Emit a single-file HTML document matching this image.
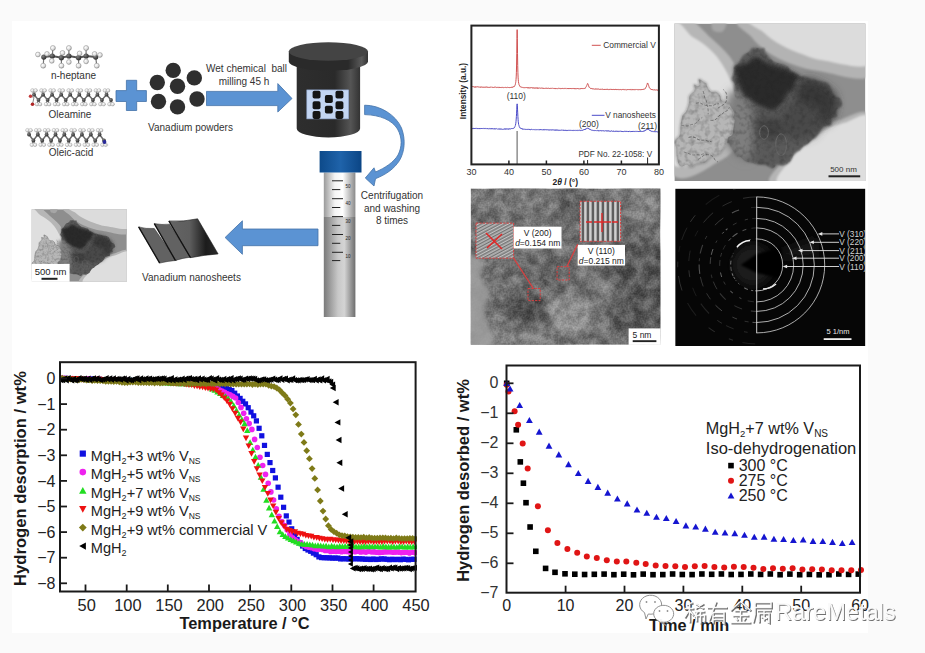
<!DOCTYPE html>
<html><head><meta charset="utf-8"><title>figure</title>
<style>html,body{margin:0;padding:0;background:#fafafa;overflow:hidden}svg{display:block}text{font-family:"Liberation Sans",sans-serif}</style>
</head><body>
<svg width="925" height="653" viewBox="0 0 925 653">
<rect x="0" y="0" width="925" height="653" fill="#fafafa"/>
<rect x="12" y="21" width="856" height="612" fill="#ffffff"/>
<defs>
<linearGradient id="gBody" x1="0" x2="1" y1="0" y2="0">
 <stop offset="0" stop-color="#2e2e2e"/><stop offset="0.6" stop-color="#2a2a2a"/><stop offset="0.85" stop-color="#555"/><stop offset="1" stop-color="#333"/></linearGradient>
<linearGradient id="gLidSide" x1="0" x2="1" y1="0" y2="0">
 <stop offset="0" stop-color="#2a2a2a"/><stop offset="0.75" stop-color="#2a2a2a"/><stop offset="0.92" stop-color="#5a5a5a"/><stop offset="1" stop-color="#333"/></linearGradient>
<linearGradient id="gCap" x1="0" x2="1" y1="0" y2="0">
 <stop offset="0" stop-color="#0d4a8a"/><stop offset="0.5" stop-color="#1f63aa"/><stop offset="1" stop-color="#0b4585"/></linearGradient>
<linearGradient id="gTubeTop" x1="0" x2="1" y1="0" y2="0">
 <stop offset="0" stop-color="#9a9a9a"/><stop offset="0.35" stop-color="#f4f4f4"/><stop offset="0.6" stop-color="#ffffff"/><stop offset="1" stop-color="#8a8a8a"/></linearGradient>
<linearGradient id="gTubeBot" x1="0" x2="1" y1="0" y2="0">
 <stop offset="0" stop-color="#7a7a7a"/><stop offset="0.45" stop-color="#c8c8c8"/><stop offset="0.65" stop-color="#d4d4d4"/><stop offset="1" stop-color="#6e6e6e"/></linearGradient>
<linearGradient id="gSheet3" x1="0" x2="1" y1="0" y2="0">
 <stop offset="0" stop-color="#646464"/><stop offset="0.42" stop-color="#5e5e5e"/><stop offset="0.75" stop-color="#1c1c1c"/><stop offset="1" stop-color="#2a2a2a"/></linearGradient>
<radialGradient id="gBallC" cx="0.35" cy="0.35" r="0.7"><stop offset="0" stop-color="#808080"/><stop offset="1" stop-color="#2a2a2a"/></radialGradient>
<radialGradient id="gBallH" cx="0.35" cy="0.35" r="0.75"><stop offset="0" stop-color="#ffffff"/><stop offset="0.6" stop-color="#dedede"/><stop offset="1" stop-color="#8c8c8c"/></radialGradient>
</defs>
<g filter="url(#blur05)">
<line x1="52.3" y1="56" x2="52.9" y2="48" stroke="#777" stroke-width="1.2"/>
<circle cx="52.9" cy="48" r="2.5" fill="url(#gBallH)" stroke="#8a8a8a" stroke-width="0.5"/>
<line x1="68.9" y1="56" x2="68.9" y2="48" stroke="#777" stroke-width="1.2"/>
<circle cx="68.9" cy="48" r="2.5" fill="url(#gBallH)" stroke="#8a8a8a" stroke-width="0.5"/>
<line x1="86.1" y1="56" x2="86.1" y2="48" stroke="#777" stroke-width="1.2"/>
<circle cx="86.1" cy="48" r="2.5" fill="url(#gBallH)" stroke="#8a8a8a" stroke-width="0.5"/>
<line x1="43.8" y1="57.1" x2="43.2" y2="65.7" stroke="#777" stroke-width="1.2"/>
<circle cx="43.2" cy="65.7" r="2.5" fill="url(#gBallH)" stroke="#8a8a8a" stroke-width="0.5"/>
<line x1="61.4" y1="57.7" x2="61.4" y2="65.7" stroke="#777" stroke-width="1.2"/>
<circle cx="61.4" cy="65.7" r="2.5" fill="url(#gBallH)" stroke="#8a8a8a" stroke-width="0.5"/>
<line x1="78.6" y1="57.7" x2="78.6" y2="65.7" stroke="#777" stroke-width="1.2"/>
<circle cx="78.6" cy="65.7" r="2.5" fill="url(#gBallH)" stroke="#8a8a8a" stroke-width="0.5"/>
<line x1="95.7" y1="57.1" x2="96.8" y2="65.7" stroke="#777" stroke-width="1.2"/>
<circle cx="96.8" cy="65.7" r="2.5" fill="url(#gBallH)" stroke="#8a8a8a" stroke-width="0.5"/>
<path d="M43.8,57.1 L52.3,56 L61.4,57.7 L68.9,56 L78.6,57.7 L86.1,56 L95.7,57.1" stroke="#555" stroke-width="2" fill="none"/>
<circle cx="43.8" cy="57.1" r="2.6" fill="url(#gBallC)"/>
<circle cx="52.3" cy="56" r="2.6" fill="url(#gBallC)"/>
<circle cx="61.4" cy="57.7" r="2.6" fill="url(#gBallC)"/>
<circle cx="68.9" cy="56" r="2.6" fill="url(#gBallC)"/>
<circle cx="78.6" cy="57.7" r="2.6" fill="url(#gBallC)"/>
<circle cx="86.1" cy="56" r="2.6" fill="url(#gBallC)"/>
<circle cx="95.7" cy="57.1" r="2.6" fill="url(#gBallC)"/>
<circle cx="37.9" cy="54.5" r="2.4" fill="url(#gBallH)" stroke="#8a8a8a" stroke-width="0.5"/>
<circle cx="47" cy="53.9" r="2.4" fill="url(#gBallH)" stroke="#8a8a8a" stroke-width="0.5"/>
<circle cx="62.5" cy="52.9" r="2.4" fill="url(#gBallH)" stroke="#8a8a8a" stroke-width="0.5"/>
<circle cx="79.6" cy="53.4" r="2.4" fill="url(#gBallH)" stroke="#8a8a8a" stroke-width="0.5"/>
<circle cx="100" cy="55" r="2.4" fill="url(#gBallH)" stroke="#8a8a8a" stroke-width="0.5"/>
<circle cx="94.6" cy="53.9" r="2.4" fill="url(#gBallH)" stroke="#8a8a8a" stroke-width="0.5"/>
<circle cx="51.8" cy="60.9" r="2.4" fill="url(#gBallH)" stroke="#8a8a8a" stroke-width="0.5"/>
<circle cx="68.9" cy="62" r="2.4" fill="url(#gBallH)" stroke="#8a8a8a" stroke-width="0.5"/>
<circle cx="86.1" cy="61.4" r="2.4" fill="url(#gBallH)" stroke="#8a8a8a" stroke-width="0.5"/>
<path d="M34.0,94.7 L38.5,99.9 L43.1,94.7 L47.6,99.9 L52.1,94.7 L56.6,99.9 L61.2,94.7 L65.7,99.9 L70.2,94.7 L74.8,99.9 L79.3,94.7 L83.8,99.9 L88.4,94.7 L92.9,99.9 L97.4,94.7 L101.9,99.9 L106.5,94.7 L111.0,99.9" stroke="#6a6a6a" stroke-width="1.5" fill="none"/>
<line x1="34.0" y1="94.7" x2="32.4" y2="90.4" stroke="#777" stroke-width="1"/>
<circle cx="32.4" cy="90.4" r="1.8" fill="url(#gBallH)" stroke="#999" stroke-width="0.4"/>
<line x1="34.0" y1="94.7" x2="35.6" y2="90.4" stroke="#777" stroke-width="1"/>
<circle cx="35.6" cy="90.4" r="1.8" fill="url(#gBallH)" stroke="#999" stroke-width="0.4"/>
<line x1="38.5" y1="99.9" x2="36.9" y2="104.2" stroke="#777" stroke-width="1"/>
<circle cx="36.9" cy="104.2" r="1.8" fill="url(#gBallH)" stroke="#999" stroke-width="0.4"/>
<line x1="38.5" y1="99.9" x2="40.1" y2="104.2" stroke="#777" stroke-width="1"/>
<circle cx="40.1" cy="104.2" r="1.8" fill="url(#gBallH)" stroke="#999" stroke-width="0.4"/>
<line x1="43.1" y1="94.7" x2="41.4" y2="90.4" stroke="#777" stroke-width="1"/>
<circle cx="41.4" cy="90.4" r="1.8" fill="url(#gBallH)" stroke="#999" stroke-width="0.4"/>
<line x1="43.1" y1="94.7" x2="44.7" y2="90.4" stroke="#777" stroke-width="1"/>
<circle cx="44.7" cy="90.4" r="1.8" fill="url(#gBallH)" stroke="#999" stroke-width="0.4"/>
<line x1="47.6" y1="99.9" x2="46.0" y2="104.2" stroke="#777" stroke-width="1"/>
<circle cx="46.0" cy="104.2" r="1.8" fill="url(#gBallH)" stroke="#999" stroke-width="0.4"/>
<line x1="47.6" y1="99.9" x2="49.2" y2="104.2" stroke="#777" stroke-width="1"/>
<circle cx="49.2" cy="104.2" r="1.8" fill="url(#gBallH)" stroke="#999" stroke-width="0.4"/>
<line x1="52.1" y1="94.7" x2="50.5" y2="90.4" stroke="#777" stroke-width="1"/>
<circle cx="50.5" cy="90.4" r="1.8" fill="url(#gBallH)" stroke="#999" stroke-width="0.4"/>
<line x1="52.1" y1="94.7" x2="53.7" y2="90.4" stroke="#777" stroke-width="1"/>
<circle cx="53.7" cy="90.4" r="1.8" fill="url(#gBallH)" stroke="#999" stroke-width="0.4"/>
<line x1="56.6" y1="99.9" x2="55.0" y2="104.2" stroke="#777" stroke-width="1"/>
<circle cx="55.0" cy="104.2" r="1.8" fill="url(#gBallH)" stroke="#999" stroke-width="0.4"/>
<line x1="56.6" y1="99.9" x2="58.3" y2="104.2" stroke="#777" stroke-width="1"/>
<circle cx="58.3" cy="104.2" r="1.8" fill="url(#gBallH)" stroke="#999" stroke-width="0.4"/>
<line x1="61.2" y1="94.7" x2="59.6" y2="90.4" stroke="#777" stroke-width="1"/>
<circle cx="59.6" cy="90.4" r="1.8" fill="url(#gBallH)" stroke="#999" stroke-width="0.4"/>
<line x1="61.2" y1="94.7" x2="62.8" y2="90.4" stroke="#777" stroke-width="1"/>
<circle cx="62.8" cy="90.4" r="1.8" fill="url(#gBallH)" stroke="#999" stroke-width="0.4"/>
<line x1="65.7" y1="99.9" x2="64.1" y2="104.2" stroke="#777" stroke-width="1"/>
<circle cx="64.1" cy="104.2" r="1.8" fill="url(#gBallH)" stroke="#999" stroke-width="0.4"/>
<line x1="65.7" y1="99.9" x2="67.3" y2="104.2" stroke="#777" stroke-width="1"/>
<circle cx="67.3" cy="104.2" r="1.8" fill="url(#gBallH)" stroke="#999" stroke-width="0.4"/>
<line x1="70.2" y1="94.7" x2="68.6" y2="90.4" stroke="#777" stroke-width="1"/>
<circle cx="68.6" cy="90.4" r="1.8" fill="url(#gBallH)" stroke="#999" stroke-width="0.4"/>
<line x1="70.2" y1="94.7" x2="71.9" y2="90.4" stroke="#777" stroke-width="1"/>
<circle cx="71.9" cy="90.4" r="1.8" fill="url(#gBallH)" stroke="#999" stroke-width="0.4"/>
<line x1="74.8" y1="99.9" x2="73.1" y2="104.2" stroke="#777" stroke-width="1"/>
<circle cx="73.1" cy="104.2" r="1.8" fill="url(#gBallH)" stroke="#999" stroke-width="0.4"/>
<line x1="74.8" y1="99.9" x2="76.4" y2="104.2" stroke="#777" stroke-width="1"/>
<circle cx="76.4" cy="104.2" r="1.8" fill="url(#gBallH)" stroke="#999" stroke-width="0.4"/>
<line x1="79.3" y1="94.7" x2="77.7" y2="90.4" stroke="#777" stroke-width="1"/>
<circle cx="77.7" cy="90.4" r="1.8" fill="url(#gBallH)" stroke="#999" stroke-width="0.4"/>
<line x1="79.3" y1="94.7" x2="80.9" y2="90.4" stroke="#777" stroke-width="1"/>
<circle cx="80.9" cy="90.4" r="1.8" fill="url(#gBallH)" stroke="#999" stroke-width="0.4"/>
<line x1="83.8" y1="99.9" x2="82.2" y2="104.2" stroke="#777" stroke-width="1"/>
<circle cx="82.2" cy="104.2" r="1.8" fill="url(#gBallH)" stroke="#999" stroke-width="0.4"/>
<line x1="83.8" y1="99.9" x2="85.4" y2="104.2" stroke="#777" stroke-width="1"/>
<circle cx="85.4" cy="104.2" r="1.8" fill="url(#gBallH)" stroke="#999" stroke-width="0.4"/>
<line x1="88.4" y1="94.7" x2="86.7" y2="90.4" stroke="#777" stroke-width="1"/>
<circle cx="86.7" cy="90.4" r="1.8" fill="url(#gBallH)" stroke="#999" stroke-width="0.4"/>
<line x1="88.4" y1="94.7" x2="90.0" y2="90.4" stroke="#777" stroke-width="1"/>
<circle cx="90.0" cy="90.4" r="1.8" fill="url(#gBallH)" stroke="#999" stroke-width="0.4"/>
<line x1="92.9" y1="99.9" x2="91.3" y2="104.2" stroke="#777" stroke-width="1"/>
<circle cx="91.3" cy="104.2" r="1.8" fill="url(#gBallH)" stroke="#999" stroke-width="0.4"/>
<line x1="92.9" y1="99.9" x2="94.5" y2="104.2" stroke="#777" stroke-width="1"/>
<circle cx="94.5" cy="104.2" r="1.8" fill="url(#gBallH)" stroke="#999" stroke-width="0.4"/>
<line x1="97.4" y1="94.7" x2="95.8" y2="90.4" stroke="#777" stroke-width="1"/>
<circle cx="95.8" cy="90.4" r="1.8" fill="url(#gBallH)" stroke="#999" stroke-width="0.4"/>
<line x1="97.4" y1="94.7" x2="99.0" y2="90.4" stroke="#777" stroke-width="1"/>
<circle cx="99.0" cy="90.4" r="1.8" fill="url(#gBallH)" stroke="#999" stroke-width="0.4"/>
<line x1="101.9" y1="99.9" x2="100.3" y2="104.2" stroke="#777" stroke-width="1"/>
<circle cx="100.3" cy="104.2" r="1.8" fill="url(#gBallH)" stroke="#999" stroke-width="0.4"/>
<line x1="101.9" y1="99.9" x2="103.6" y2="104.2" stroke="#777" stroke-width="1"/>
<circle cx="103.6" cy="104.2" r="1.8" fill="url(#gBallH)" stroke="#999" stroke-width="0.4"/>
<line x1="106.5" y1="94.7" x2="104.9" y2="90.4" stroke="#777" stroke-width="1"/>
<circle cx="104.9" cy="90.4" r="1.8" fill="url(#gBallH)" stroke="#999" stroke-width="0.4"/>
<line x1="106.5" y1="94.7" x2="108.1" y2="90.4" stroke="#777" stroke-width="1"/>
<circle cx="108.1" cy="90.4" r="1.8" fill="url(#gBallH)" stroke="#999" stroke-width="0.4"/>
<line x1="111.0" y1="99.9" x2="109.4" y2="104.2" stroke="#777" stroke-width="1"/>
<circle cx="109.4" cy="104.2" r="1.8" fill="url(#gBallH)" stroke="#999" stroke-width="0.4"/>
<line x1="111.0" y1="99.9" x2="112.6" y2="104.2" stroke="#777" stroke-width="1"/>
<circle cx="112.6" cy="104.2" r="1.8" fill="url(#gBallH)" stroke="#999" stroke-width="0.4"/>
<circle cx="34.0" cy="94.7" r="1.9" fill="url(#gBallC)"/>
<circle cx="38.5" cy="99.9" r="1.9" fill="url(#gBallC)"/>
<circle cx="43.1" cy="94.7" r="1.9" fill="url(#gBallC)"/>
<circle cx="47.6" cy="99.9" r="1.9" fill="url(#gBallC)"/>
<circle cx="52.1" cy="94.7" r="1.9" fill="url(#gBallC)"/>
<circle cx="56.6" cy="99.9" r="1.9" fill="url(#gBallC)"/>
<circle cx="61.2" cy="94.7" r="1.9" fill="url(#gBallC)"/>
<circle cx="65.7" cy="99.9" r="1.9" fill="url(#gBallC)"/>
<circle cx="70.2" cy="94.7" r="1.9" fill="url(#gBallC)"/>
<circle cx="74.8" cy="99.9" r="1.9" fill="url(#gBallC)"/>
<circle cx="79.3" cy="94.7" r="1.9" fill="url(#gBallC)"/>
<circle cx="83.8" cy="99.9" r="1.9" fill="url(#gBallC)"/>
<circle cx="88.4" cy="94.7" r="1.9" fill="url(#gBallC)"/>
<circle cx="92.9" cy="99.9" r="1.9" fill="url(#gBallC)"/>
<circle cx="97.4" cy="94.7" r="1.9" fill="url(#gBallC)"/>
<circle cx="101.9" cy="99.9" r="1.9" fill="url(#gBallC)"/>
<circle cx="106.5" cy="94.7" r="1.9" fill="url(#gBallC)"/>
<circle cx="111.0" cy="99.9" r="1.9" fill="url(#gBallC)"/>
<line x1="34" y1="97.3" x2="30.5" y2="96.3" stroke="#888" stroke-width="1"/>
<circle cx="30.5" cy="96.3" r="1.7" fill="#c23a3a"/>
<line x1="34" y1="97.3" x2="32.5" y2="104.3" stroke="#888" stroke-width="1"/>
<circle cx="32.5" cy="104.3" r="1.8" fill="#b02828"/>
<path d="M29.0,134.5 L33.4,140.5 L37.8,134.5 L42.2,140.5 L46.6,134.5 L51.1,140.5 L55.5,134.5 L59.9,140.5 L64.3,134.5 L68.7,140.5 L73.1,134.5 L77.5,140.5 L81.9,134.5 L86.4,140.5 L90.8,134.5 L95.2,140.5 L99.6,134.5 L104.0,140.5" stroke="#6a6a6a" stroke-width="1.5" fill="none"/>
<line x1="29.0" y1="134.5" x2="27.4" y2="130.2" stroke="#777" stroke-width="1"/>
<circle cx="27.4" cy="130.2" r="1.8" fill="url(#gBallH)" stroke="#999" stroke-width="0.4"/>
<line x1="29.0" y1="134.5" x2="30.6" y2="130.2" stroke="#777" stroke-width="1"/>
<circle cx="30.6" cy="130.2" r="1.8" fill="url(#gBallH)" stroke="#999" stroke-width="0.4"/>
<line x1="33.4" y1="140.5" x2="31.8" y2="144.8" stroke="#777" stroke-width="1"/>
<circle cx="31.8" cy="144.8" r="1.8" fill="url(#gBallH)" stroke="#999" stroke-width="0.4"/>
<line x1="33.4" y1="140.5" x2="35.0" y2="144.8" stroke="#777" stroke-width="1"/>
<circle cx="35.0" cy="144.8" r="1.8" fill="url(#gBallH)" stroke="#999" stroke-width="0.4"/>
<line x1="37.8" y1="134.5" x2="36.2" y2="130.2" stroke="#777" stroke-width="1"/>
<circle cx="36.2" cy="130.2" r="1.8" fill="url(#gBallH)" stroke="#999" stroke-width="0.4"/>
<line x1="37.8" y1="134.5" x2="39.4" y2="130.2" stroke="#777" stroke-width="1"/>
<circle cx="39.4" cy="130.2" r="1.8" fill="url(#gBallH)" stroke="#999" stroke-width="0.4"/>
<line x1="42.2" y1="140.5" x2="40.6" y2="144.8" stroke="#777" stroke-width="1"/>
<circle cx="40.6" cy="144.8" r="1.8" fill="url(#gBallH)" stroke="#999" stroke-width="0.4"/>
<line x1="42.2" y1="140.5" x2="43.9" y2="144.8" stroke="#777" stroke-width="1"/>
<circle cx="43.9" cy="144.8" r="1.8" fill="url(#gBallH)" stroke="#999" stroke-width="0.4"/>
<line x1="46.6" y1="134.5" x2="45.0" y2="130.2" stroke="#777" stroke-width="1"/>
<circle cx="45.0" cy="130.2" r="1.8" fill="url(#gBallH)" stroke="#999" stroke-width="0.4"/>
<line x1="46.6" y1="134.5" x2="48.3" y2="130.2" stroke="#777" stroke-width="1"/>
<circle cx="48.3" cy="130.2" r="1.8" fill="url(#gBallH)" stroke="#999" stroke-width="0.4"/>
<line x1="51.1" y1="140.5" x2="49.4" y2="144.8" stroke="#777" stroke-width="1"/>
<circle cx="49.4" cy="144.8" r="1.8" fill="url(#gBallH)" stroke="#999" stroke-width="0.4"/>
<line x1="51.1" y1="140.5" x2="52.7" y2="144.8" stroke="#777" stroke-width="1"/>
<circle cx="52.7" cy="144.8" r="1.8" fill="url(#gBallH)" stroke="#999" stroke-width="0.4"/>
<line x1="55.5" y1="134.5" x2="53.9" y2="130.2" stroke="#777" stroke-width="1"/>
<circle cx="53.9" cy="130.2" r="1.8" fill="url(#gBallH)" stroke="#999" stroke-width="0.4"/>
<line x1="55.5" y1="134.5" x2="57.1" y2="130.2" stroke="#777" stroke-width="1"/>
<circle cx="57.1" cy="130.2" r="1.8" fill="url(#gBallH)" stroke="#999" stroke-width="0.4"/>
<line x1="59.9" y1="140.5" x2="58.3" y2="144.8" stroke="#777" stroke-width="1"/>
<circle cx="58.3" cy="144.8" r="1.8" fill="url(#gBallH)" stroke="#999" stroke-width="0.4"/>
<line x1="59.9" y1="140.5" x2="61.5" y2="144.8" stroke="#777" stroke-width="1"/>
<circle cx="61.5" cy="144.8" r="1.8" fill="url(#gBallH)" stroke="#999" stroke-width="0.4"/>
<line x1="64.3" y1="134.5" x2="62.7" y2="130.2" stroke="#777" stroke-width="1"/>
<circle cx="62.7" cy="130.2" r="1.8" fill="url(#gBallH)" stroke="#999" stroke-width="0.4"/>
<line x1="64.3" y1="134.5" x2="65.9" y2="130.2" stroke="#777" stroke-width="1"/>
<circle cx="65.9" cy="130.2" r="1.8" fill="url(#gBallH)" stroke="#999" stroke-width="0.4"/>
<line x1="68.7" y1="140.5" x2="67.1" y2="144.8" stroke="#777" stroke-width="1"/>
<circle cx="67.1" cy="144.8" r="1.8" fill="url(#gBallH)" stroke="#999" stroke-width="0.4"/>
<line x1="68.7" y1="140.5" x2="70.3" y2="144.8" stroke="#777" stroke-width="1"/>
<circle cx="70.3" cy="144.8" r="1.8" fill="url(#gBallH)" stroke="#999" stroke-width="0.4"/>
<line x1="73.1" y1="134.5" x2="71.5" y2="130.2" stroke="#777" stroke-width="1"/>
<circle cx="71.5" cy="130.2" r="1.8" fill="url(#gBallH)" stroke="#999" stroke-width="0.4"/>
<line x1="73.1" y1="134.5" x2="74.7" y2="130.2" stroke="#777" stroke-width="1"/>
<circle cx="74.7" cy="130.2" r="1.8" fill="url(#gBallH)" stroke="#999" stroke-width="0.4"/>
<line x1="77.5" y1="140.5" x2="75.9" y2="144.8" stroke="#777" stroke-width="1"/>
<circle cx="75.9" cy="144.8" r="1.8" fill="url(#gBallH)" stroke="#999" stroke-width="0.4"/>
<line x1="77.5" y1="140.5" x2="79.1" y2="144.8" stroke="#777" stroke-width="1"/>
<circle cx="79.1" cy="144.8" r="1.8" fill="url(#gBallH)" stroke="#999" stroke-width="0.4"/>
<line x1="81.9" y1="134.5" x2="80.3" y2="130.2" stroke="#777" stroke-width="1"/>
<circle cx="80.3" cy="130.2" r="1.8" fill="url(#gBallH)" stroke="#999" stroke-width="0.4"/>
<line x1="81.9" y1="134.5" x2="83.6" y2="130.2" stroke="#777" stroke-width="1"/>
<circle cx="83.6" cy="130.2" r="1.8" fill="url(#gBallH)" stroke="#999" stroke-width="0.4"/>
<line x1="86.4" y1="140.5" x2="84.7" y2="144.8" stroke="#777" stroke-width="1"/>
<circle cx="84.7" cy="144.8" r="1.8" fill="url(#gBallH)" stroke="#999" stroke-width="0.4"/>
<line x1="86.4" y1="140.5" x2="88.0" y2="144.8" stroke="#777" stroke-width="1"/>
<circle cx="88.0" cy="144.8" r="1.8" fill="url(#gBallH)" stroke="#999" stroke-width="0.4"/>
<line x1="90.8" y1="134.5" x2="89.1" y2="130.2" stroke="#777" stroke-width="1"/>
<circle cx="89.1" cy="130.2" r="1.8" fill="url(#gBallH)" stroke="#999" stroke-width="0.4"/>
<line x1="90.8" y1="134.5" x2="92.4" y2="130.2" stroke="#777" stroke-width="1"/>
<circle cx="92.4" cy="130.2" r="1.8" fill="url(#gBallH)" stroke="#999" stroke-width="0.4"/>
<line x1="95.2" y1="140.5" x2="93.6" y2="144.8" stroke="#777" stroke-width="1"/>
<circle cx="93.6" cy="144.8" r="1.8" fill="url(#gBallH)" stroke="#999" stroke-width="0.4"/>
<line x1="95.2" y1="140.5" x2="96.8" y2="144.8" stroke="#777" stroke-width="1"/>
<circle cx="96.8" cy="144.8" r="1.8" fill="url(#gBallH)" stroke="#999" stroke-width="0.4"/>
<line x1="99.6" y1="134.5" x2="98.0" y2="130.2" stroke="#777" stroke-width="1"/>
<circle cx="98.0" cy="130.2" r="1.8" fill="url(#gBallH)" stroke="#999" stroke-width="0.4"/>
<line x1="99.6" y1="134.5" x2="101.2" y2="130.2" stroke="#777" stroke-width="1"/>
<circle cx="101.2" cy="130.2" r="1.8" fill="url(#gBallH)" stroke="#999" stroke-width="0.4"/>
<line x1="104.0" y1="140.5" x2="102.4" y2="144.8" stroke="#777" stroke-width="1"/>
<circle cx="102.4" cy="144.8" r="1.8" fill="url(#gBallH)" stroke="#999" stroke-width="0.4"/>
<line x1="104.0" y1="140.5" x2="105.6" y2="144.8" stroke="#777" stroke-width="1"/>
<circle cx="105.6" cy="144.8" r="1.8" fill="url(#gBallH)" stroke="#999" stroke-width="0.4"/>
<circle cx="29.0" cy="134.5" r="1.9" fill="url(#gBallC)"/>
<circle cx="33.4" cy="140.5" r="1.9" fill="url(#gBallC)"/>
<circle cx="37.8" cy="134.5" r="1.9" fill="url(#gBallC)"/>
<circle cx="42.2" cy="140.5" r="1.9" fill="url(#gBallC)"/>
<circle cx="46.6" cy="134.5" r="1.9" fill="url(#gBallC)"/>
<circle cx="51.1" cy="140.5" r="1.9" fill="url(#gBallC)"/>
<circle cx="55.5" cy="134.5" r="1.9" fill="url(#gBallC)"/>
<circle cx="59.9" cy="140.5" r="1.9" fill="url(#gBallC)"/>
<circle cx="64.3" cy="134.5" r="1.9" fill="url(#gBallC)"/>
<circle cx="68.7" cy="140.5" r="1.9" fill="url(#gBallC)"/>
<circle cx="73.1" cy="134.5" r="1.9" fill="url(#gBallC)"/>
<circle cx="77.5" cy="140.5" r="1.9" fill="url(#gBallC)"/>
<circle cx="81.9" cy="134.5" r="1.9" fill="url(#gBallC)"/>
<circle cx="86.4" cy="140.5" r="1.9" fill="url(#gBallC)"/>
<circle cx="90.8" cy="134.5" r="1.9" fill="url(#gBallC)"/>
<circle cx="95.2" cy="140.5" r="1.9" fill="url(#gBallC)"/>
<circle cx="99.6" cy="134.5" r="1.9" fill="url(#gBallC)"/>
<circle cx="104.0" cy="140.5" r="1.9" fill="url(#gBallC)"/>
<circle cx="104.5" cy="142.0" r="1.9" fill="#2a2a9a"/>
<circle cx="107.0" cy="145.0" r="1.3" fill="#ccc"/>
</g>
<defs><filter id="blur05" x="-5%" y="-30%" width="110%" height="160%"><feGaussianBlur stdDeviation="0.5"/></filter><filter id="blur08"><feGaussianBlur stdDeviation="0.8"/></filter></defs>
<text x="73.5" y="78.7" font-size="10" fill="#333" text-anchor="middle" font-weight="normal" >n-heptane</text>
<text x="70" y="117.8" font-size="10" fill="#333" text-anchor="middle" font-weight="normal" >Oleamine</text>
<text x="71" y="155.8" font-size="10" fill="#333" text-anchor="middle" font-weight="normal" >Oleic-acid</text>
<text x="190.5" y="130.5" font-size="10" fill="#333" text-anchor="middle" font-weight="normal" >Vanadium powders</text>
<text x="246.5" y="72" font-size="10" fill="#333" text-anchor="middle" font-weight="normal" >Wet chemical&#160; ball</text>
<text x="244" y="84.5" font-size="10" fill="#333" text-anchor="middle" font-weight="normal" >milling 45 h</text>
<text x="392" y="199" font-size="10" fill="#333" text-anchor="middle" font-weight="normal" >Centrifugation</text>
<text x="392" y="211.5" font-size="10" fill="#333" text-anchor="middle" font-weight="normal" >and washing</text>
<text x="392" y="223.5" font-size="10" fill="#333" text-anchor="middle" font-weight="normal" >8 times</text>
<text x="191.5" y="280.5" font-size="10" fill="#333" text-anchor="middle" font-weight="normal" >Vanadium nanosheets</text>
<path d="M126.4,80.3 H136.7 V90.6 H146.4 V101.5 H136.7 V110.5 H126.4 V101.5 H116 V90.6 H126.4 Z" fill="#5b93d3" stroke="#4472a8" stroke-width="0.8"/>
<circle cx="173.2" cy="70.4" r="7.7" fill="#2f2f2f"/>
<circle cx="157.3" cy="82.5" r="7.7" fill="#2f2f2f"/>
<circle cx="194.3" cy="77.9" r="7.7" fill="#2f2f2f"/>
<circle cx="177.5" cy="86.2" r="7.7" fill="#2f2f2f"/>
<circle cx="158.5" cy="101.5" r="7.7" fill="#2f2f2f"/>
<circle cx="177.5" cy="106.9" r="7.7" fill="#2f2f2f"/>
<circle cx="197" cy="99" r="7.7" fill="#2f2f2f"/>
<path d="M206.5,91.4 H277.8 V83.6 L292,98.5 L277.8,112 V105.6 H206.5 Z" fill="#5b93d3" stroke="#4472a8" stroke-width="0.8"/>
<path d="M318,229 H242.4 V220.8 L225.1,237.5 L242.4,254.3 V245.7 H318 Z" fill="#5b93d3" stroke="#4472a8" stroke-width="0.8"/>
<path d="M364.6,105.2 C380,105 396,115 401.5,128 C406,140 404.5,152 399.5,160.5 C394,169 386,174.5 375.5,178.7 L374,186 L365.3,178 L374,167.8 L375.5,172 C385,168 394,162 398,155 C402,147 402.5,138 397.5,129 C392,120 380,115 364.6,114.6 Z" fill="#5b93d3" stroke="#4472a8" stroke-width="0.8"/>
<path d="M296.7,66 V128.6 A31.7,8.8 0 0 0 360.1,128.6 V66 Z" fill="url(#gBody)"/>
<path d="M288.8,51.5 V61.5 A39.6,9.2 0 0 0 368,61.5 V51.5 Z" fill="url(#gLidSide)"/>
<ellipse cx="328.4" cy="51.5" rx="39.6" ry="9.2" fill="#444"/>
<rect x="306.8" y="89.9" width="41.9" height="29" fill="#c3d5f2" stroke="#8aa0c8" stroke-width="0.6"/>
<rect x="312.6" y="90.7" width="7.9" height="7.9" rx="1.8" fill="#151515"/>
<rect x="312.6" y="101.3" width="7.9" height="7.9" rx="1.8" fill="#151515"/>
<rect x="312.6" y="111" width="7.9" height="7.9" rx="1.8" fill="#151515"/>
<rect x="324.9" y="95.1" width="7.9" height="7.9" rx="1.8" fill="#151515"/>
<rect x="324.9" y="105.7" width="7.9" height="7.9" rx="1.8" fill="#151515"/>
<rect x="335.5" y="90.7" width="7.9" height="7.9" rx="1.8" fill="#151515"/>
<rect x="335.5" y="101.3" width="7.9" height="7.9" rx="1.8" fill="#151515"/>
<rect x="335.5" y="111" width="7.9" height="7.9" rx="1.8" fill="#151515"/>
<rect x="323.8" y="172.5" width="31.6" height="44.5" fill="url(#gTubeTop)"/>
<rect x="323.8" y="217" width="31.6" height="100" fill="url(#gTubeBot)"/>
<rect x="319.6" y="151" width="41.9" height="21.5" fill="url(#gCap)"/>
<line x1="332" y1="180.8" x2="343" y2="180.8" stroke="#222" stroke-width="1"/>
<line x1="332" y1="198.7" x2="343" y2="198.7" stroke="#222" stroke-width="1"/>
<line x1="332" y1="216.6" x2="343" y2="216.6" stroke="#222" stroke-width="1"/>
<line x1="332" y1="234.5" x2="343" y2="234.5" stroke="#222" stroke-width="1"/>
<line x1="332" y1="252.3" x2="343" y2="252.3" stroke="#222" stroke-width="1"/>
<line x1="332" y1="189.6" x2="340.3" y2="189.6" stroke="#222" stroke-width="1"/>
<line x1="332" y1="207.5" x2="340.3" y2="207.5" stroke="#222" stroke-width="1"/>
<line x1="332" y1="225.4" x2="340.3" y2="225.4" stroke="#222" stroke-width="1"/>
<line x1="332" y1="243.3" x2="340.3" y2="243.3" stroke="#222" stroke-width="1"/>
<line x1="332" y1="260.6" x2="340.3" y2="260.6" stroke="#222" stroke-width="1"/>
<text x="345.5" y="187.5" font-size="4.5" fill="#222" text-anchor="start" font-weight="normal" >50</text>
<text x="345.5" y="205.2" font-size="4.5" fill="#222" text-anchor="start" font-weight="normal" >40</text>
<text x="345.5" y="223" font-size="4.5" fill="#222" text-anchor="start" font-weight="normal" >30</text>
<text x="345.5" y="240.4" font-size="4.5" fill="#222" text-anchor="start" font-weight="normal" >20</text>
<text x="345.5" y="258.3" font-size="4.5" fill="#222" text-anchor="start" font-weight="normal" >10</text>
<path d="M138.6,226.9 Q146,229 154.3,228.5 L176.5,260.4 Q168,261 159.7,263.1 Z" fill="#626262" stroke="#2a2a2a" stroke-width="0.5"/>
<line x1="138.6" y1="226.9" x2="159.7" y2="263.1" stroke="#111" stroke-width="1.3"/>
<path d="M154.3,223.6 Q162,225 169.5,224.2 L190.5,257.2 Q183,258 175.4,260.4 Z" fill="#626262" stroke="#2a2a2a" stroke-width="0.5"/>
<line x1="154.3" y1="223.6" x2="175.4" y2="260.4" stroke="#111" stroke-width="1.3"/>
<path d="M168.9,221 Q184,222 197.6,218.8 L218.1,253.9 Q204,255 190.5,257.7 Z" fill="url(#gSheet3)" stroke="#1a1a1a" stroke-width="0.6"/>
<line x1="168.9" y1="221" x2="190.5" y2="257.7" stroke="#111" stroke-width="1.3"/>
<path d="M471.40,86.79 L471.59,86.69 L471.77,86.99 L471.96,86.65 L472.15,86.93 L472.34,86.83 L472.52,86.65 L472.71,86.92 L472.90,86.64 L473.09,86.88 L473.27,86.67 L473.46,86.68 L473.65,86.89 L473.84,87.13 L474.02,86.71 L474.21,86.78 L474.40,87.02 L474.59,87.22 L474.77,87.00 L474.96,86.90 L475.15,87.25 L475.34,86.69 L475.52,87.18 L475.71,86.84 L475.90,86.76 L476.09,86.75 L476.27,86.87 L476.46,87.17 L476.65,86.80 L476.84,87.04 L477.02,87.08 L477.21,86.92 L477.40,87.03 L477.59,86.74 L477.77,86.74 L477.96,86.83 L478.15,87.12 L478.34,86.97 L478.52,86.91 L478.71,87.07 L478.90,87.00 L479.09,86.91 L479.27,87.21 L479.46,87.16 L479.65,86.89 L479.84,87.09 L480.02,87.06 L480.21,87.28 L480.40,87.19 L480.59,86.93 L480.77,87.35 L480.96,86.83 L481.15,87.02 L481.34,87.22 L481.52,86.86 L481.71,87.07 L481.90,86.80 L482.09,87.18 L482.27,87.25 L482.46,87.13 L482.65,87.32 L482.84,86.98 L483.02,87.22 L483.21,87.16 L483.40,87.15 L483.59,87.08 L483.77,87.32 L483.96,87.38 L484.15,87.10 L484.34,87.22 L484.52,86.86 L484.71,87.25 L484.90,87.22 L485.09,87.43 L485.27,87.33 L485.46,87.01 L485.65,87.08 L485.84,87.25 L486.02,86.87 L486.21,87.13 L486.40,86.96 L486.59,86.93 L486.77,86.90 L486.96,87.33 L487.15,86.95 L487.34,87.02 L487.52,87.11 L487.71,87.40 L487.90,86.93 L488.09,87.16 L488.27,87.22 L488.46,87.42 L488.65,87.39 L488.84,87.42 L489.02,87.07 L489.21,87.16 L489.40,87.13 L489.59,87.44 L489.77,87.49 L489.96,87.01 L490.15,87.03 L490.34,87.07 L490.52,87.07 L490.71,87.22 L490.90,87.29 L491.09,87.10 L491.27,86.94 L491.46,87.20 L491.65,87.17 L491.84,87.29 L492.02,87.53 L492.21,87.37 L492.40,87.27 L492.59,87.33 L492.77,87.37 L492.96,87.00 L493.15,87.51 L493.34,87.44 L493.52,87.50 L493.71,87.46 L493.90,87.22 L494.09,87.23 L494.27,87.05 L494.46,87.37 L494.65,87.03 L494.84,87.04 L495.02,87.13 L495.21,87.10 L495.40,87.21 L495.59,87.04 L495.77,87.02 L495.96,87.11 L496.15,87.08 L496.34,87.24 L496.52,87.04 L496.71,87.55 L496.90,87.40 L497.09,87.12 L497.27,87.19 L497.46,87.25 L497.65,87.26 L497.84,87.12 L498.02,87.56 L498.21,87.65 L498.40,87.33 L498.59,87.35 L498.77,87.11 L498.96,87.12 L499.15,87.27 L499.34,87.23 L499.52,87.57 L499.71,87.17 L499.90,87.09 L500.09,87.65 L500.27,87.40 L500.46,87.17 L500.65,87.41 L500.84,87.10 L501.02,87.41 L501.21,87.68 L501.40,87.61 L501.59,87.52 L501.77,87.26 L501.96,87.32 L502.15,87.20 L502.34,87.57 L502.52,87.43 L502.71,87.58 L502.90,87.31 L503.09,87.25 L503.27,87.60 L503.46,87.71 L503.65,87.63 L503.84,87.60 L504.02,87.61 L504.21,87.57 L504.40,87.26 L504.59,87.44 L504.77,87.34 L504.96,87.15 L505.15,87.15 L505.34,87.30 L505.52,87.29 L505.71,87.55 L505.90,87.71 L506.09,87.40 L506.27,87.69 L506.46,87.72 L506.65,87.70 L506.84,87.35 L507.02,87.26 L507.21,87.27 L507.40,87.25 L507.59,87.25 L507.77,87.50 L507.96,87.66 L508.15,87.62 L508.34,87.40 L508.52,87.51 L508.71,87.59 L508.90,87.16 L509.09,87.50 L509.27,87.64 L509.46,87.56 L509.65,87.53 L509.84,87.36 L510.02,87.18 L510.21,87.53 L510.40,87.25 L510.59,87.52 L510.77,87.61 L510.96,87.25 L511.15,87.24 L511.34,87.54 L511.52,87.39 L511.71,87.04 L511.90,86.99 L512.09,86.97 L512.27,87.39 L512.46,87.30 L512.65,86.86 L512.84,87.22 L513.02,87.26 L513.21,87.00 L513.40,86.75 L513.59,86.78 L513.77,86.43 L513.96,86.24 L514.15,86.68 L514.34,86.32 L514.52,86.04 L514.71,86.03 L514.90,85.42 L515.09,85.28 L515.27,84.73 L515.46,83.67 L515.65,82.76 L515.84,81.48 L516.02,79.55 L516.21,76.90 L516.40,72.22 L516.59,65.03 L516.77,53.27 L516.96,38.55 L517.15,29.64 L517.34,38.29 L517.52,53.55 L517.71,65.35 L517.90,72.34 L518.09,77.13 L518.27,79.75 L518.46,81.67 L518.65,82.98 L518.84,83.62 L519.02,84.57 L519.21,84.94 L519.40,85.24 L519.59,86.04 L519.77,85.92 L519.96,86.31 L520.15,86.64 L520.34,86.69 L520.52,86.67 L520.71,86.89 L520.90,87.01 L521.09,87.22 L521.27,86.88 L521.46,87.22 L521.65,87.08 L521.84,87.15 L522.02,87.49 L522.21,87.37 L522.40,87.44 L522.59,87.59 L522.77,87.71 L522.96,87.45 L523.15,87.58 L523.34,87.54 L523.52,87.56 L523.71,87.69 L523.90,87.56 L524.09,87.63 L524.27,87.61 L524.46,87.91 L524.65,87.77 L524.84,87.89 L525.02,87.95 L525.21,87.55 L525.40,87.74 L525.59,87.98 L525.77,87.93 L525.96,87.52 L526.15,87.52 L526.34,87.72 L526.52,87.51 L526.71,87.62 L526.90,87.52 L527.09,87.89 L527.27,87.97 L527.46,88.04 L527.65,87.60 L527.84,87.95 L528.02,87.92 L528.21,87.62 L528.40,88.07 L528.59,88.13 L528.77,87.68 L528.96,88.13 L529.15,87.80 L529.34,87.86 L529.52,88.17 L529.71,88.08 L529.90,87.68 L530.09,87.85 L530.27,87.91 L530.46,87.81 L530.65,87.72 L530.84,87.80 L531.02,88.05 L531.21,87.63 L531.40,87.96 L531.59,87.90 L531.77,87.65 L531.96,87.84 L532.15,88.02 L532.34,87.96 L532.52,87.69 L532.71,88.25 L532.90,88.14 L533.09,88.25 L533.27,87.74 L533.46,87.84 L533.65,87.71 L533.84,88.15 L534.02,87.85 L534.21,87.77 L534.40,87.95 L534.59,88.25 L534.77,88.20 L534.96,87.87 L535.15,87.81 L535.34,88.27 L535.52,88.07 L535.71,88.15 L535.90,87.79 L536.09,87.77 L536.27,88.15 L536.46,88.00 L536.65,87.79 L536.84,88.32 L537.02,88.14 L537.21,88.24 L537.40,87.81 L537.59,88.28 L537.77,87.81 L537.96,88.29 L538.15,88.05 L538.34,87.99 L538.52,88.12 L538.71,88.35 L538.90,87.96 L539.09,87.88 L539.27,88.12 L539.46,87.95 L539.65,87.88 L539.84,87.91 L540.02,87.85 L540.21,87.94 L540.40,88.01 L540.59,88.01 L540.77,88.29 L540.96,88.01 L541.15,88.14 L541.34,87.95 L541.52,88.06 L541.71,87.86 L541.90,88.01 L542.09,87.87 L542.27,88.30 L542.46,88.20 L542.65,87.98 L542.84,88.16 L543.02,88.44 L543.21,87.94 L543.40,88.38 L543.59,88.15 L543.77,88.19 L543.96,88.40 L544.15,88.13 L544.34,88.21 L544.52,88.32 L544.71,88.50 L544.90,88.12 L545.09,88.42 L545.27,88.34 L545.46,88.30 L545.65,88.17 L545.84,88.14 L546.02,87.97 L546.21,88.02 L546.40,87.98 L546.59,88.39 L546.77,88.10 L546.96,88.05 L547.15,88.01 L547.34,88.46 L547.52,88.48 L547.71,88.37 L547.90,88.14 L548.09,88.12 L548.27,88.15 L548.46,88.26 L548.65,88.08 L548.84,88.25 L549.02,88.15 L549.21,88.57 L549.40,88.58 L549.59,88.33 L549.77,88.15 L549.96,88.59 L550.15,88.20 L550.34,88.23 L550.52,88.02 L550.71,88.25 L550.90,88.31 L551.09,88.33 L551.27,88.15 L551.46,88.34 L551.65,88.04 L551.84,88.20 L552.02,88.10 L552.21,88.29 L552.40,88.08 L552.59,88.07 L552.77,88.24 L552.96,88.20 L553.15,88.42 L553.34,88.39 L553.52,88.52 L553.71,88.47 L553.90,88.51 L554.09,88.61 L554.27,88.32 L554.46,88.29 L554.65,88.68 L554.84,88.19 L555.02,88.53 L555.21,88.49 L555.40,88.13 L555.59,88.61 L555.77,88.65 L555.96,88.49 L556.15,88.56 L556.34,88.61 L556.52,88.21 L556.71,88.45 L556.90,88.44 L557.09,88.64 L557.27,88.62 L557.46,88.64 L557.65,88.50 L557.84,88.69 L558.02,88.56 L558.21,88.57 L558.40,88.30 L558.59,88.18 L558.77,88.25 L558.96,88.39 L559.15,88.24 L559.34,88.68 L559.52,88.52 L559.71,88.56 L559.90,88.56 L560.09,88.60 L560.27,88.49 L560.46,88.20 L560.65,88.68 L560.84,88.65 L561.02,88.51 L561.21,88.53 L561.40,88.61 L561.59,88.26 L561.77,88.66 L561.96,88.38 L562.15,88.27 L562.34,88.39 L562.52,88.67 L562.71,88.36 L562.90,88.68 L563.09,88.83 L563.27,88.54 L563.46,88.48 L563.65,88.54 L563.84,88.67 L564.02,88.72 L564.21,88.63 L564.40,88.65 L564.59,88.32 L564.77,88.36 L564.96,88.43 L565.15,88.73 L565.34,88.47 L565.52,88.63 L565.71,88.30 L565.90,88.33 L566.09,88.46 L566.27,88.70 L566.46,88.72 L566.65,88.71 L566.84,88.48 L567.02,88.62 L567.21,88.59 L567.40,88.60 L567.59,88.39 L567.77,88.86 L567.96,88.45 L568.15,88.92 L568.34,88.89 L568.52,88.35 L568.71,88.61 L568.90,88.83 L569.09,88.93 L569.27,88.62 L569.46,88.51 L569.65,88.48 L569.84,88.92 L570.02,88.49 L570.21,88.71 L570.40,88.45 L570.59,88.68 L570.77,88.94 L570.96,88.45 L571.15,88.87 L571.34,88.69 L571.52,88.92 L571.71,88.81 L571.90,88.53 L572.09,88.93 L572.27,88.69 L572.46,88.41 L572.65,88.40 L572.84,88.70 L573.02,88.67 L573.21,88.59 L573.40,88.49 L573.59,88.62 L573.77,88.60 L573.96,88.92 L574.15,88.42 L574.34,88.87 L574.52,88.93 L574.71,88.50 L574.90,88.98 L575.09,88.86 L575.27,88.97 L575.46,88.61 L575.65,88.66 L575.84,88.67 L576.02,89.04 L576.21,88.80 L576.40,88.66 L576.59,88.70 L576.77,88.61 L576.96,88.48 L577.15,88.51 L577.34,88.95 L577.52,88.62 L577.71,89.01 L577.90,88.60 L578.09,88.61 L578.27,88.76 L578.46,88.57 L578.65,88.68 L578.84,89.03 L579.02,88.98 L579.21,88.94 L579.40,88.83 L579.59,89.00 L579.77,89.01 L579.96,88.78 L580.15,88.88 L580.34,88.47 L580.52,88.88 L580.71,88.71 L580.90,88.88 L581.09,88.81 L581.27,88.59 L581.46,88.44 L581.65,88.96 L581.84,88.47 L582.02,88.67 L582.21,88.58 L582.40,88.54 L582.59,88.80 L582.77,88.92 L582.96,88.47 L583.15,88.69 L583.34,88.45 L583.52,88.58 L583.71,88.45 L583.90,88.28 L584.09,88.24 L584.27,88.22 L584.46,88.58 L584.65,88.27 L584.84,88.02 L585.02,88.35 L585.21,88.29 L585.40,87.83 L585.59,87.49 L585.77,87.33 L585.96,87.03 L586.15,86.90 L586.34,86.40 L586.52,86.08 L586.71,85.59 L586.90,85.22 L587.09,84.82 L587.27,84.20 L587.46,83.60 L587.65,83.45 L587.84,83.67 L588.02,83.99 L588.21,84.52 L588.40,84.95 L588.59,85.64 L588.77,86.55 L588.96,86.47 L589.15,87.05 L589.34,87.42 L589.52,87.80 L589.71,87.61 L589.90,87.81 L590.09,87.93 L590.27,88.14 L590.46,88.26 L590.65,88.65 L590.84,88.66 L591.02,88.74 L591.21,88.28 L591.40,88.34 L591.59,88.78 L591.77,88.93 L591.96,88.71 L592.15,88.81 L592.34,88.49 L592.52,88.75 L592.71,89.09 L592.90,89.05 L593.09,89.09 L593.27,89.18 L593.46,88.76 L593.65,88.69 L593.84,88.73 L594.02,88.96 L594.21,89.07 L594.40,89.24 L594.59,89.12 L594.77,89.09 L594.96,89.17 L595.15,88.99 L595.34,89.06 L595.52,88.76 L595.71,89.21 L595.90,88.89 L596.09,89.31 L596.27,89.15 L596.46,88.96 L596.65,88.86 L596.84,88.94 L597.02,89.18 L597.21,89.22 L597.40,88.87 L597.59,88.85 L597.77,89.13 L597.96,89.17 L598.15,89.06 L598.34,88.97 L598.52,89.20 L598.71,88.85 L598.90,89.03 L599.09,89.13 L599.27,89.44 L599.46,89.25 L599.65,89.40 L599.84,89.16 L600.02,89.02 L600.21,89.03 L600.40,89.47 L600.59,89.32 L600.77,89.08 L600.96,88.92 L601.15,89.21 L601.34,89.32 L601.52,89.17 L601.71,89.08 L601.90,89.33 L602.09,89.48 L602.27,89.07 L602.46,88.96 L602.65,89.14 L602.84,89.20 L603.02,89.36 L603.21,89.07 L603.40,89.44 L603.59,89.41 L603.77,89.27 L603.96,89.09 L604.15,89.56 L604.34,89.16 L604.52,89.47 L604.71,89.12 L604.90,89.12 L605.09,89.45 L605.27,89.17 L605.46,89.57 L605.65,89.30 L605.84,89.12 L606.02,89.15 L606.21,89.27 L606.40,89.42 L606.59,89.59 L606.77,89.11 L606.96,89.27 L607.15,89.16 L607.34,89.62 L607.52,89.13 L607.71,89.08 L607.90,89.09 L608.09,89.29 L608.27,89.60 L608.46,89.59 L608.65,89.50 L608.84,89.67 L609.02,89.63 L609.21,89.27 L609.40,89.19 L609.59,89.64 L609.77,89.53 L609.96,89.11 L610.15,89.49 L610.34,89.32 L610.52,89.32 L610.71,89.30 L610.90,89.21 L611.09,89.11 L611.27,89.28 L611.46,89.33 L611.65,89.69 L611.84,89.20 L612.02,89.71 L612.21,89.26 L612.40,89.35 L612.59,89.63 L612.77,89.63 L612.96,89.40 L613.15,89.18 L613.34,89.44 L613.52,89.38 L613.71,89.71 L613.90,89.28 L614.09,89.38 L614.27,89.71 L614.46,89.19 L614.65,89.42 L614.84,89.67 L615.02,89.64 L615.21,89.21 L615.40,89.21 L615.59,89.23 L615.77,89.75 L615.96,89.35 L616.15,89.65 L616.34,89.75 L616.52,89.41 L616.71,89.38 L616.90,89.79 L617.09,89.59 L617.27,89.38 L617.46,89.66 L617.65,89.42 L617.84,89.40 L618.02,89.24 L618.21,89.69 L618.40,89.79 L618.59,89.63 L618.77,89.82 L618.96,89.27 L619.15,89.40 L619.34,89.54 L619.52,89.84 L619.71,89.84 L619.90,89.50 L620.09,89.42 L620.27,89.53 L620.46,89.58 L620.65,89.84 L620.84,89.40 L621.02,89.77 L621.21,89.74 L621.40,89.79 L621.59,89.76 L621.77,89.67 L621.96,89.50 L622.15,89.50 L622.34,89.53 L622.52,89.78 L622.71,89.37 L622.90,89.44 L623.09,89.78 L623.27,89.48 L623.46,89.37 L623.65,89.35 L623.84,89.67 L624.02,89.54 L624.21,89.93 L624.40,89.88 L624.59,89.94 L624.77,89.51 L624.96,89.41 L625.15,89.42 L625.34,89.66 L625.52,89.79 L625.71,89.64 L625.90,89.51 L626.09,89.62 L626.27,89.75 L626.46,89.78 L626.65,89.83 L626.84,89.89 L627.02,89.79 L627.21,89.46 L627.40,89.90 L627.59,89.57 L627.77,89.74 L627.96,89.63 L628.15,89.85 L628.34,89.53 L628.52,89.56 L628.71,89.56 L628.90,89.51 L629.09,89.95 L629.27,89.77 L629.46,89.62 L629.65,89.67 L629.84,90.03 L630.02,89.74 L630.21,89.57 L630.40,89.92 L630.59,89.83 L630.77,90.04 L630.96,89.51 L631.15,89.73 L631.34,89.94 L631.52,89.96 L631.71,90.00 L631.90,89.48 L632.09,89.64 L632.27,89.53 L632.46,89.58 L632.65,90.05 L632.84,89.82 L633.02,90.03 L633.21,89.70 L633.40,89.99 L633.59,89.75 L633.77,89.63 L633.96,89.95 L634.15,90.05 L634.34,89.55 L634.52,89.84 L634.71,89.86 L634.90,89.62 L635.09,89.71 L635.27,89.57 L635.46,89.61 L635.65,89.64 L635.84,89.85 L636.02,89.88 L636.21,89.62 L636.40,89.50 L636.59,89.69 L636.77,89.90 L636.96,89.61 L637.15,89.68 L637.34,89.62 L637.52,89.97 L637.71,89.82 L637.90,89.53 L638.09,89.55 L638.27,89.73 L638.46,89.82 L638.65,89.87 L638.84,89.54 L639.02,89.58 L639.21,89.89 L639.40,89.72 L639.59,89.64 L639.77,89.65 L639.96,90.03 L640.15,89.64 L640.34,89.78 L640.52,89.65 L640.71,89.67 L640.90,89.93 L641.09,90.00 L641.27,89.61 L641.46,89.50 L641.65,89.80 L641.84,89.47 L642.02,89.33 L642.21,89.85 L642.40,89.54 L642.59,89.75 L642.77,89.48 L642.96,89.73 L643.15,89.44 L643.34,89.22 L643.52,89.08 L643.71,89.35 L643.90,89.35 L644.09,89.44 L644.27,88.87 L644.46,89.09 L644.65,88.84 L644.84,88.79 L645.02,88.43 L645.21,88.35 L645.40,88.29 L645.59,88.29 L645.77,87.52 L645.96,87.42 L646.15,87.21 L646.34,86.85 L646.52,85.86 L646.71,85.22 L646.90,85.07 L647.09,84.45 L647.27,83.60 L647.46,82.96 L647.65,83.35 L647.84,83.17 L648.02,83.87 L648.21,84.26 L648.40,85.02 L648.59,85.27 L648.77,86.25 L648.96,86.45 L649.15,87.03 L649.34,87.69 L649.52,88.02 L649.71,87.92 L649.90,88.19 L650.09,88.50 L650.27,88.75 L650.46,88.82 L650.65,88.80 L650.84,88.98 L651.02,89.37 L651.21,89.56 L651.40,89.12 L651.59,89.50 L651.77,89.68 L651.96,89.30 L652.15,89.83 L652.34,89.44 L652.52,89.77 L652.71,89.77 L652.90,89.85 L653.09,89.69 L653.27,89.79 L653.46,89.91 L653.65,89.84 L653.84,90.00 L654.02,89.89 L654.21,89.91 L654.40,89.68 L654.59,90.05 L654.77,89.99 L654.96,89.85 L655.15,90.18 L655.34,90.20 L655.52,90.02 L655.71,89.87 L655.90,90.05 L656.09,89.85 L656.27,89.87 L656.46,90.06 L656.65,89.87 L656.84,90.09 L657.02,90.14 L657.21,89.86 L657.40,90.23 L657.59,89.90 L657.77,90.30 L657.96,90.34 L658.15,90.18 L658.34,89.92 L658.52,90.19 L658.71,90.12 L658.90,90.47" stroke="#d05050" stroke-width="1" fill="none"/>
<path d="M471.40,128.27 L471.59,128.71 L471.77,128.80 L471.96,128.64 L472.15,128.69 L472.34,128.33 L472.52,128.80 L472.71,128.51 L472.90,128.79 L473.09,128.77 L473.27,128.33 L473.46,128.70 L473.65,128.79 L473.84,128.28 L474.02,128.45 L474.21,128.70 L474.40,128.34 L474.59,128.79 L474.77,128.42 L474.96,128.75 L475.15,128.35 L475.34,128.57 L475.52,128.82 L475.71,128.40 L475.90,128.43 L476.09,128.58 L476.27,128.47 L476.46,128.31 L476.65,128.40 L476.84,128.39 L477.02,128.86 L477.21,128.71 L477.40,128.84 L477.59,128.41 L477.77,128.78 L477.96,128.38 L478.15,128.63 L478.34,128.70 L478.52,128.54 L478.71,128.85 L478.90,128.66 L479.09,128.68 L479.27,128.86 L479.46,128.40 L479.65,128.94 L479.84,128.72 L480.02,128.59 L480.21,128.83 L480.40,128.51 L480.59,128.95 L480.77,128.71 L480.96,128.58 L481.15,128.83 L481.34,128.64 L481.52,128.48 L481.71,128.83 L481.90,128.41 L482.09,128.88 L482.27,128.54 L482.46,128.78 L482.65,128.99 L482.84,128.75 L483.02,128.80 L483.21,128.59 L483.40,128.41 L483.59,128.43 L483.77,128.51 L483.96,128.79 L484.15,128.68 L484.34,128.73 L484.52,128.97 L484.71,128.51 L484.90,128.57 L485.09,128.83 L485.27,128.46 L485.46,128.45 L485.65,128.66 L485.84,128.52 L486.02,128.67 L486.21,128.59 L486.40,128.81 L486.59,128.82 L486.77,128.59 L486.96,128.85 L487.15,128.76 L487.34,128.56 L487.52,129.04 L487.71,128.63 L487.90,128.58 L488.09,128.55 L488.27,128.88 L488.46,129.02 L488.65,128.97 L488.84,128.75 L489.02,128.67 L489.21,128.52 L489.40,128.90 L489.59,128.86 L489.77,128.73 L489.96,128.91 L490.15,128.79 L490.34,129.09 L490.52,128.97 L490.71,128.69 L490.90,129.08 L491.09,128.57 L491.27,128.87 L491.46,128.79 L491.65,128.70 L491.84,128.59 L492.02,129.03 L492.21,128.57 L492.40,128.90 L492.59,129.13 L492.77,128.66 L492.96,128.70 L493.15,128.94 L493.34,128.89 L493.52,128.97 L493.71,129.08 L493.90,128.70 L494.09,128.78 L494.27,128.78 L494.46,128.63 L494.65,129.14 L494.84,129.08 L495.02,129.04 L495.21,128.62 L495.40,129.12 L495.59,129.07 L495.77,128.90 L495.96,129.07 L496.15,128.90 L496.34,128.77 L496.52,128.70 L496.71,128.78 L496.90,128.66 L497.09,128.84 L497.27,129.09 L497.46,129.06 L497.65,129.16 L497.84,129.08 L498.02,128.82 L498.21,128.99 L498.40,128.92 L498.59,129.14 L498.77,128.98 L498.96,128.83 L499.15,129.06 L499.34,129.25 L499.52,128.81 L499.71,129.21 L499.90,128.69 L500.09,128.84 L500.27,128.83 L500.46,129.14 L500.65,129.26 L500.84,129.14 L501.02,128.89 L501.21,129.23 L501.40,128.90 L501.59,128.85 L501.77,129.25 L501.96,129.08 L502.15,129.12 L502.34,129.11 L502.52,129.30 L502.71,129.00 L502.90,129.22 L503.09,129.14 L503.27,129.23 L503.46,128.98 L503.65,129.16 L503.84,129.06 L504.02,128.91 L504.21,128.85 L504.40,129.10 L504.59,128.77 L504.77,129.27 L504.96,128.81 L505.15,128.74 L505.34,128.79 L505.52,129.29 L505.71,128.94 L505.90,128.81 L506.09,128.75 L506.27,128.75 L506.46,129.14 L506.65,129.11 L506.84,129.14 L507.02,129.17 L507.21,128.76 L507.40,129.07 L507.59,128.93 L507.77,129.20 L507.96,129.20 L508.15,129.24 L508.34,128.74 L508.52,129.22 L508.71,129.24 L508.90,129.25 L509.09,128.75 L509.27,128.80 L509.46,128.73 L509.65,128.68 L509.84,129.16 L510.02,129.13 L510.21,129.01 L510.40,129.11 L510.59,128.98 L510.77,128.76 L510.96,128.63 L511.15,128.61 L511.34,128.98 L511.52,128.62 L511.71,128.66 L511.90,128.70 L512.09,128.42 L512.27,128.52 L512.46,128.50 L512.65,128.71 L512.84,128.44 L513.02,128.35 L513.21,128.66 L513.40,128.30 L513.59,128.41 L513.77,128.16 L513.96,127.67 L514.15,127.74 L514.34,127.57 L514.52,127.54 L514.71,127.01 L514.90,126.88 L515.09,126.36 L515.27,125.63 L515.46,125.33 L515.65,123.98 L515.84,123.24 L516.02,121.29 L516.21,119.08 L516.40,116.41 L516.59,113.18 L516.77,109.23 L516.96,105.05 L517.15,103.85 L517.34,105.35 L517.52,109.14 L517.71,112.85 L517.90,116.61 L518.09,119.33 L518.27,121.72 L518.46,122.95 L518.65,124.54 L518.84,125.05 L519.02,125.70 L519.21,126.53 L519.40,126.84 L519.59,126.96 L519.77,127.56 L519.96,127.46 L520.15,128.08 L520.34,128.19 L520.52,128.39 L520.71,128.41 L520.90,128.35 L521.09,128.47 L521.27,128.55 L521.46,128.92 L521.65,128.50 L521.84,129.03 L522.02,128.57 L522.21,128.72 L522.40,128.80 L522.59,129.22 L522.77,129.01 L522.96,128.97 L523.15,129.30 L523.34,128.94 L523.52,129.10 L523.71,129.16 L523.90,129.32 L524.09,129.34 L524.27,129.29 L524.46,129.13 L524.65,129.13 L524.84,129.05 L525.02,129.47 L525.21,129.38 L525.40,129.44 L525.59,129.11 L525.77,129.28 L525.96,129.49 L526.15,129.39 L526.34,129.13 L526.52,129.34 L526.71,129.60 L526.90,129.22 L527.09,129.21 L527.27,129.28 L527.46,129.53 L527.65,129.62 L527.84,129.22 L528.02,129.23 L528.21,129.29 L528.40,129.34 L528.59,129.47 L528.77,129.26 L528.96,129.36 L529.15,129.29 L529.34,129.77 L529.52,129.62 L529.71,129.25 L529.90,129.78 L530.09,129.27 L530.27,129.44 L530.46,129.81 L530.65,129.70 L530.84,129.67 L531.02,129.49 L531.21,129.36 L531.40,129.63 L531.59,129.31 L531.77,129.38 L531.96,129.49 L532.15,129.29 L532.34,129.51 L532.52,129.75 L532.71,129.70 L532.90,129.59 L533.09,129.67 L533.27,129.57 L533.46,129.38 L533.65,129.67 L533.84,129.55 L534.02,129.76 L534.21,129.86 L534.40,129.58 L534.59,129.67 L534.77,129.78 L534.96,129.59 L535.15,129.48 L535.34,129.78 L535.52,129.88 L535.71,129.82 L535.90,129.78 L536.09,129.87 L536.27,129.77 L536.46,129.75 L536.65,129.65 L536.84,129.57 L537.02,129.76 L537.21,129.45 L537.40,129.64 L537.59,129.86 L537.77,129.83 L537.96,129.78 L538.15,129.56 L538.34,129.67 L538.52,129.69 L538.71,129.79 L538.90,129.67 L539.09,129.83 L539.27,129.99 L539.46,129.54 L539.65,129.83 L539.84,129.91 L540.02,129.68 L540.21,129.74 L540.40,130.04 L540.59,129.48 L540.77,129.79 L540.96,129.56 L541.15,129.94 L541.34,130.04 L541.52,129.79 L541.71,129.54 L541.90,129.83 L542.09,129.81 L542.27,129.92 L542.46,129.80 L542.65,129.88 L542.84,130.00 L543.02,129.82 L543.21,129.76 L543.40,130.08 L543.59,129.65 L543.77,129.93 L543.96,129.76 L544.15,129.99 L544.34,129.61 L544.52,130.13 L544.71,129.75 L544.90,129.58 L545.09,129.71 L545.27,129.79 L545.46,129.56 L545.65,129.81 L545.84,129.82 L546.02,129.99 L546.21,129.78 L546.40,129.73 L546.59,129.71 L546.77,130.03 L546.96,130.15 L547.15,129.91 L547.34,129.72 L547.52,130.08 L547.71,129.83 L547.90,129.73 L548.09,129.68 L548.27,130.08 L548.46,130.10 L548.65,130.00 L548.84,129.90 L549.02,129.96 L549.21,129.76 L549.40,130.21 L549.59,129.85 L549.77,130.02 L549.96,130.13 L550.15,130.14 L550.34,129.93 L550.52,129.83 L550.71,129.99 L550.90,129.74 L551.09,130.16 L551.27,129.88 L551.46,130.18 L551.65,129.83 L551.84,129.90 L552.02,129.83 L552.21,129.94 L552.40,129.80 L552.59,129.69 L552.77,130.13 L552.96,129.87 L553.15,129.85 L553.34,129.89 L553.52,130.00 L553.71,129.97 L553.90,130.10 L554.09,130.12 L554.27,129.94 L554.46,130.28 L554.65,130.24 L554.84,129.77 L555.02,130.23 L555.21,130.28 L555.40,130.21 L555.59,129.83 L555.77,130.25 L555.96,130.13 L556.15,129.77 L556.34,129.77 L556.52,130.34 L556.71,130.16 L556.90,129.92 L557.09,129.84 L557.27,129.86 L557.46,129.92 L557.65,130.25 L557.84,130.00 L558.02,129.88 L558.21,130.34 L558.40,130.27 L558.59,129.90 L558.77,130.34 L558.96,130.17 L559.15,130.28 L559.34,130.22 L559.52,130.36 L559.71,130.29 L559.90,130.33 L560.09,129.95 L560.27,130.25 L560.46,130.15 L560.65,130.28 L560.84,130.11 L561.02,130.37 L561.21,130.18 L561.40,130.01 L561.59,130.00 L561.77,129.94 L561.96,130.16 L562.15,129.90 L562.34,130.15 L562.52,129.96 L562.71,130.17 L562.90,130.18 L563.09,130.20 L563.27,130.40 L563.46,129.89 L563.65,130.40 L563.84,130.17 L564.02,130.23 L564.21,130.30 L564.40,130.41 L564.59,130.13 L564.77,130.16 L564.96,130.49 L565.15,129.96 L565.34,130.30 L565.52,130.30 L565.71,129.94 L565.90,130.29 L566.09,130.34 L566.27,130.49 L566.46,130.14 L566.65,130.53 L566.84,130.25 L567.02,130.24 L567.21,130.49 L567.40,129.97 L567.59,130.39 L567.77,130.33 L567.96,130.16 L568.15,130.48 L568.34,130.19 L568.52,130.25 L568.71,130.29 L568.90,130.44 L569.09,130.10 L569.27,130.24 L569.46,130.24 L569.65,130.32 L569.84,130.49 L570.02,130.17 L570.21,130.49 L570.40,130.24 L570.59,130.30 L570.77,130.17 L570.96,130.31 L571.15,130.59 L571.34,130.40 L571.52,130.49 L571.71,130.21 L571.90,130.21 L572.09,130.20 L572.27,130.37 L572.46,130.40 L572.65,130.50 L572.84,130.05 L573.02,130.46 L573.21,130.56 L573.40,130.36 L573.59,130.07 L573.77,130.22 L573.96,130.04 L574.15,130.15 L574.34,130.60 L574.52,130.41 L574.71,130.44 L574.90,130.52 L575.09,130.59 L575.27,130.42 L575.46,130.42 L575.65,130.43 L575.84,130.47 L576.02,130.41 L576.21,130.46 L576.40,130.18 L576.59,130.45 L576.77,130.33 L576.96,130.51 L577.15,130.11 L577.34,130.16 L577.52,130.07 L577.71,130.52 L577.90,130.60 L578.09,130.44 L578.27,130.27 L578.46,130.54 L578.65,130.51 L578.84,130.38 L579.02,130.19 L579.21,130.21 L579.40,130.28 L579.59,130.22 L579.77,130.28 L579.96,130.40 L580.15,130.57 L580.34,130.03 L580.52,130.34 L580.71,130.01 L580.90,130.05 L581.09,130.45 L581.27,130.30 L581.46,130.50 L581.65,130.20 L581.84,129.92 L582.02,130.13 L582.21,130.24 L582.40,130.42 L582.59,130.43 L582.77,130.10 L582.96,130.04 L583.15,129.82 L583.34,130.11 L583.52,129.82 L583.71,129.74 L583.90,129.61 L584.09,129.56 L584.27,129.91 L584.46,129.51 L584.65,129.95 L584.84,129.35 L585.02,129.74 L585.21,129.20 L585.40,129.03 L585.59,129.34 L585.77,128.94 L585.96,129.11 L586.15,128.65 L586.34,128.43 L586.52,128.73 L586.71,128.56 L586.90,128.52 L587.09,128.34 L587.27,127.88 L587.46,128.16 L587.65,128.19 L587.84,128.06 L588.02,128.40 L588.21,128.08 L588.40,128.62 L588.59,128.60 L588.77,128.31 L588.96,128.46 L589.15,128.98 L589.34,129.22 L589.52,128.91 L589.71,129.18 L589.90,129.54 L590.09,129.31 L590.27,129.83 L590.46,129.69 L590.65,129.52 L590.84,129.78 L591.02,129.97 L591.21,129.95 L591.40,130.15 L591.59,129.88 L591.77,130.32 L591.96,130.11 L592.15,130.31 L592.34,130.34 L592.52,130.25 L592.71,130.26 L592.90,130.53 L593.09,130.65 L593.27,130.58 L593.46,130.47 L593.65,130.33 L593.84,130.21 L594.02,130.78 L594.21,130.63 L594.40,130.73 L594.59,130.44 L594.77,130.62 L594.96,130.86 L595.15,130.79 L595.34,130.66 L595.52,130.50 L595.71,130.58 L595.90,130.87 L596.09,130.57 L596.27,130.77 L596.46,130.73 L596.65,130.92 L596.84,130.87 L597.02,130.57 L597.21,130.41 L597.40,130.57 L597.59,130.67 L597.77,130.78 L597.96,130.93 L598.15,130.98 L598.34,130.48 L598.52,130.96 L598.71,130.95 L598.90,130.99 L599.09,130.82 L599.27,130.65 L599.46,131.00 L599.65,130.98 L599.84,130.91 L600.02,131.06 L600.21,130.72 L600.40,130.57 L600.59,130.86 L600.77,131.01 L600.96,130.66 L601.15,130.99 L601.34,131.11 L601.52,130.69 L601.71,130.92 L601.90,130.97 L602.09,130.85 L602.27,130.70 L602.46,130.73 L602.65,131.04 L602.84,131.06 L603.02,130.87 L603.21,130.65 L603.40,131.09 L603.59,131.07 L603.77,130.75 L603.96,130.96 L604.15,131.16 L604.34,131.16 L604.52,130.94 L604.71,130.92 L604.90,130.99 L605.09,130.76 L605.27,130.76 L605.46,130.76 L605.65,131.08 L605.84,130.88 L606.02,131.00 L606.21,130.91 L606.40,130.98 L606.59,130.77 L606.77,130.71 L606.96,131.28 L607.15,130.91 L607.34,130.76 L607.52,131.08 L607.71,131.17 L607.90,130.80 L608.09,131.07 L608.27,130.92 L608.46,131.03 L608.65,130.73 L608.84,130.75 L609.02,131.32 L609.21,131.25 L609.40,131.03 L609.59,131.08 L609.77,130.90 L609.96,131.22 L610.15,131.01 L610.34,131.33 L610.52,131.22 L610.71,131.26 L610.90,131.35 L611.09,130.92 L611.27,130.80 L611.46,130.90 L611.65,130.89 L611.84,130.84 L612.02,130.82 L612.21,131.13 L612.40,131.32 L612.59,131.08 L612.77,131.37 L612.96,131.36 L613.15,130.85 L613.34,131.18 L613.52,131.06 L613.71,130.90 L613.90,131.40 L614.09,130.99 L614.27,131.17 L614.46,131.22 L614.65,131.42 L614.84,131.25 L615.02,131.09 L615.21,131.12 L615.40,130.95 L615.59,131.44 L615.77,131.46 L615.96,131.00 L616.15,130.89 L616.34,131.03 L616.52,131.09 L616.71,131.42 L616.90,131.43 L617.09,131.39 L617.27,130.92 L617.46,131.37 L617.65,131.33 L617.84,131.29 L618.02,131.50 L618.21,130.94 L618.40,131.00 L618.59,131.37 L618.77,131.48 L618.96,131.33 L619.15,131.11 L619.34,131.29 L619.52,131.39 L619.71,131.00 L619.90,131.14 L620.09,131.10 L620.27,131.02 L620.46,131.24 L620.65,131.06 L620.84,131.10 L621.02,131.05 L621.21,131.37 L621.40,130.98 L621.59,131.40 L621.77,131.09 L621.96,131.00 L622.15,131.54 L622.34,131.12 L622.52,131.55 L622.71,131.51 L622.90,131.53 L623.09,131.08 L623.27,131.27 L623.46,131.06 L623.65,131.57 L623.84,131.52 L624.02,131.39 L624.21,131.29 L624.40,131.22 L624.59,131.52 L624.77,131.31 L624.96,131.41 L625.15,131.12 L625.34,131.17 L625.52,131.07 L625.71,131.47 L625.90,131.38 L626.09,131.14 L626.27,131.57 L626.46,131.22 L626.65,131.31 L626.84,131.16 L627.02,131.23 L627.21,131.57 L627.40,131.27 L627.59,131.17 L627.77,131.37 L627.96,131.27 L628.15,131.62 L628.34,131.15 L628.52,131.68 L628.71,131.13 L628.90,131.63 L629.09,131.50 L629.27,131.23 L629.46,131.39 L629.65,131.28 L629.84,131.26 L630.02,131.23 L630.21,131.33 L630.40,131.71 L630.59,131.72 L630.77,131.68 L630.96,131.18 L631.15,131.30 L631.34,131.67 L631.52,131.17 L631.71,131.57 L631.90,131.31 L632.09,131.73 L632.27,131.15 L632.46,131.63 L632.65,131.35 L632.84,131.23 L633.02,131.15 L633.21,131.65 L633.40,131.47 L633.59,131.27 L633.77,131.42 L633.96,131.71 L634.15,131.29 L634.34,131.51 L634.52,131.25 L634.71,131.27 L634.90,131.63 L635.09,131.59 L635.27,131.29 L635.46,131.22 L635.65,131.22 L635.84,131.54 L636.02,131.47 L636.21,131.34 L636.40,131.30 L636.59,131.54 L636.77,131.60 L636.96,131.66 L637.15,131.52 L637.34,131.29 L637.52,131.21 L637.71,131.61 L637.90,131.42 L638.09,131.60 L638.27,131.20 L638.46,131.65 L638.65,131.36 L638.84,131.67 L639.02,131.68 L639.21,131.45 L639.40,131.16 L639.59,131.69 L639.77,131.43 L639.96,131.66 L640.15,131.29 L640.34,131.23 L640.52,131.61 L640.71,131.33 L640.90,131.20 L641.09,131.31 L641.27,131.43 L641.46,131.07 L641.65,131.36 L641.84,131.30 L642.02,131.33 L642.21,131.08 L642.40,131.41 L642.59,131.45 L642.77,131.46 L642.96,131.10 L643.15,131.31 L643.34,131.08 L643.52,131.26 L643.71,130.81 L643.90,131.25 L644.09,131.25 L644.27,130.92 L644.46,130.87 L644.65,130.81 L644.84,130.74 L645.02,130.35 L645.21,130.82 L645.40,130.28 L645.59,130.14 L645.77,129.98 L645.96,129.94 L646.15,130.15 L646.34,129.54 L646.52,129.44 L646.71,129.67 L646.90,129.25 L647.09,129.04 L647.27,129.31 L647.46,129.25 L647.65,129.20 L647.84,129.33 L648.02,129.02 L648.21,129.57 L648.40,129.59 L648.59,129.31 L648.77,129.50 L648.96,129.87 L649.15,130.01 L649.34,130.02 L649.52,130.06 L649.71,130.35 L649.90,130.31 L650.09,130.69 L650.27,130.95 L650.46,130.61 L650.65,130.95 L650.84,131.13 L651.02,130.85 L651.21,131.31 L651.40,131.43 L651.59,131.15 L651.77,131.22 L651.96,131.51 L652.15,131.37 L652.34,131.32 L652.52,131.69 L652.71,131.62 L652.90,131.38 L653.09,131.35 L653.27,131.43 L653.46,131.52 L653.65,131.87 L653.84,131.78 L654.02,131.86 L654.21,131.82 L654.40,131.86 L654.59,131.40 L654.77,131.69 L654.96,131.97 L655.15,131.97 L655.34,131.57 L655.52,131.69 L655.71,131.83 L655.90,131.68 L656.09,131.79 L656.27,131.52 L656.46,131.75 L656.65,131.80 L656.84,131.52 L657.02,131.60 L657.21,132.11 L657.40,132.00 L657.59,132.11 L657.77,131.93 L657.96,132.05 L658.15,132.10 L658.34,132.11 L658.52,131.60 L658.71,131.97 L658.90,131.76" stroke="#4a4ac8" stroke-width="1" fill="none"/>
<line x1="517.1" y1="131" x2="517.1" y2="164" stroke="#444" stroke-width="0.9"/>
<line x1="587.6" y1="160" x2="587.6" y2="164" stroke="#222" stroke-width="1"/>
<line x1="647.6" y1="157.5" x2="647.6" y2="164" stroke="#222" stroke-width="1"/>
<rect x="471.4" y="25.6" width="187.5" height="138.8" fill="none" stroke="#222" stroke-width="2"/>
<line x1="508.9" y1="164.4" x2="508.9" y2="160.5" stroke="#222" stroke-width="1.5"/>
<line x1="546.4" y1="164.4" x2="546.4" y2="160.5" stroke="#222" stroke-width="1.5"/>
<line x1="583.9" y1="164.4" x2="583.9" y2="160.5" stroke="#222" stroke-width="1.5"/>
<line x1="621.4" y1="164.4" x2="621.4" y2="160.5" stroke="#222" stroke-width="1.5"/>
<text x="471.4" y="174.5" font-size="9" fill="#333" text-anchor="middle" font-weight="normal" >30</text>
<text x="508.9" y="174.5" font-size="9" fill="#333" text-anchor="middle" font-weight="normal" >40</text>
<text x="546.4" y="174.5" font-size="9" fill="#333" text-anchor="middle" font-weight="normal" >50</text>
<text x="583.9" y="174.5" font-size="9" fill="#333" text-anchor="middle" font-weight="normal" >60</text>
<text x="621.4" y="174.5" font-size="9" fill="#333" text-anchor="middle" font-weight="normal" >70</text>
<text x="658.9" y="174.5" font-size="9" fill="#333" text-anchor="middle" font-weight="normal" >80</text>
<text x="565.3" y="184.5" font-size="8.5" fill="#222" text-anchor="middle" font-weight="bold" >2<tspan font-style="italic">θ</tspan> / (°)</text>
<text x="0" y="0" font-size="8.3" fill="#222" text-anchor="middle" font-weight="bold" transform="translate(465.5,91) rotate(-90)">Intensity (a.u.)</text>
<line x1="591.8" y1="45.3" x2="600.7" y2="45.3" stroke="#d05050" stroke-width="1"/>
<text x="603.2" y="48.3" font-size="8.4" fill="#333" text-anchor="start" font-weight="normal" >Commercial V</text>
<line x1="591.8" y1="115.3" x2="604.5" y2="115.3" stroke="#4a4ac8" stroke-width="1"/>
<text x="605.2" y="118.3" font-size="8.3" fill="#333" text-anchor="start" font-weight="normal" >V nanosheets</text>
<text x="516.3" y="98.8" font-size="8.5" fill="#333" text-anchor="middle" font-weight="normal" >(110)</text>
<text x="588.8" y="127.3" font-size="8.5" fill="#333" text-anchor="middle" font-weight="normal" >(200)</text>
<text x="647.5" y="128.8" font-size="8.5" fill="#333" text-anchor="middle" font-weight="normal" >(211)</text>
<text x="578.4" y="157" font-size="8.2" fill="#333" text-anchor="start" font-weight="normal" >PDF No. 22-1058: V</text>
<defs>
<clipPath id="cTEM"><rect x="674.4" y="23.6" width="191" height="157.4"/></clipPath>
<clipPath id="cHR"><rect x="470.7" y="188.6" width="189.7" height="156.1"/></clipPath>
<clipPath id="cSAED"><rect x="675.2" y="188.6" width="190.2" height="157.5"/></clipPath>
<filter id="bl05" x="-10%" y="-10%" width="120%" height="120%"><feGaussianBlur stdDeviation="0.5"/></filter>
<filter id="bl1" x="-10%" y="-10%" width="120%" height="120%"><feGaussianBlur stdDeviation="1"/></filter>
<filter id="bl2" x="-10%" y="-10%" width="120%" height="120%"><feGaussianBlur stdDeviation="2"/></filter>
<filter id="bl4" x="-30%" y="-30%" width="160%" height="160%"><feGaussianBlur stdDeviation="4"/></filter>
<filter id="grainMid" x="0" y="0" width="100%" height="100%" color-interpolation-filters="sRGB">
 <feTurbulence type="fractalNoise" baseFrequency="0.09" numOctaves="3" seed="21"/>
 <feColorMatrix type="matrix" values="2.2 0 0 0 -0.6  2.2 0 0 0 -0.6  2.2 0 0 0 -0.6  0 0 0 0 1"/>
</filter>
<filter id="grainFine" x="0" y="0" width="100%" height="100%" color-interpolation-filters="sRGB">
 <feTurbulence type="fractalNoise" baseFrequency="0.6" numOctaves="1" seed="9"/>
 <feColorMatrix type="matrix" values="2.5 0 0 0 -0.75  2.5 0 0 0 -0.75  2.5 0 0 0 -0.75  0 0 0 0 1"/>
</filter>
<filter id="noiseT" x="0" y="0" width="100%" height="100%">
 <feTurbulence type="fractalNoise" baseFrequency="0.2" numOctaves="2" seed="3" result="n"/>
 <feColorMatrix in="n" type="matrix" values="0 0 0 0 0  0 0 0 0 0  0 0 0 0 0  0 0 0 -2.2 1.25" result="a"/>
 <feComposite in="SourceGraphic" in2="a" operator="in"/>
</filter>
<filter id="noiseHR" x="0" y="0" width="100%" height="100%">
 <feTurbulence type="fractalNoise" baseFrequency="0.05" numOctaves="3" seed="11" result="n"/>
 <feColorMatrix in="n" type="matrix" values="0 0 0 0 0  0 0 0 0 0  0 0 0 0 0  0 0 0 -1.6 1.05"/>
</filter>
<filter id="noiseHR2" x="0" y="0" width="100%" height="100%">
 <feTurbulence type="fractalNoise" baseFrequency="0.45" numOctaves="2" seed="5" result="n"/>
 <feColorMatrix in="n" type="matrix" values="0 0 0 0 1  0 0 0 0 1  0 0 0 0 1  0 0 0 -1.8 1.0"/>
</filter>
</defs>
<g id="temimg"><g clip-path="url(#cTEM)"><rect x="674.4" y="23.6" width="191" height="157.4" fill="#8e8e8e"/>
<path d="M712.9,20.6 C715.2,18.9 724.7,18.7 726.3,20.6 C727.9,22.4 724.9,29.9 722.7,31.5 C720.4,33.1 714.6,32.1 712.9,30.3 C711.3,28.5 710.7,22.2 712.9,20.6 Z" fill="#a6a6a6" filter="url(#bl1)"/>
<path d="M669.1,18.1 C672.4,-7.0 681.7,14.9 688.6,18.1 C695.5,21.4 703.6,31.1 710.5,37.6 C717.4,44.1 724.9,50.2 730.0,57.1 C735.0,64.0 738.3,71.3 740.9,79.0 C743.6,86.7 745.6,94.4 745.8,103.3 C746.0,112.2 746.0,123.2 742.1,132.5 C738.3,141.8 734.8,153.2 722.7,159.3 C710.5,165.4 678.1,192.5 669.1,169.0 C660.2,145.5 665.9,43.3 669.1,18.1 Z" fill="#b6b6b6" filter="url(#bl1)"/>
<path d="M669.1,27.9 C673.2,7.6 686.2,33.5 693.5,37.6 C700.8,41.7 707.7,46.9 712.9,52.2 C718.2,57.5 721.9,63.6 725.1,69.2 C728.4,74.9 730.6,80.6 732.4,86.3 C734.2,92.0 735.9,96.8 736.1,103.3 C736.3,109.8 736.3,117.5 733.6,125.2 C731.0,132.9 731.0,143.9 720.2,149.6 C709.5,155.2 677.7,179.6 669.1,159.3 C660.6,139.0 665.1,48.1 669.1,27.9 Z" fill="#dfdfdf" filter="url(#bl1)"/>
<path d="M744.6,18.1 C724.7,21.4 747.4,31.5 751.9,37.6 C756.3,43.7 764.0,50.0 771.3,54.6 C778.6,59.3 787.6,62.8 795.7,65.6 C803.8,68.3 807.4,69.6 820.0,71.2 C832.6,72.8 862.6,84.2 871.1,75.3 C879.6,66.5 892.2,27.7 871.1,18.1 C850.0,8.6 764.5,14.9 744.6,18.1 Z" fill="#b3b3b3" filter="url(#bl1)"/>
<path d="M754.3,18.1 C736.5,20.6 759.6,28.3 764.0,32.7 C768.5,37.2 774.6,41.3 781.1,44.9 C787.6,48.6 795.7,52.0 803.0,54.6 C810.3,57.3 813.5,59.2 824.9,60.7 C836.2,62.3 863.4,71.0 871.1,63.9 C878.8,56.8 890.6,25.8 871.1,18.1 C851.7,10.5 772.2,15.7 754.3,18.1 Z" fill="#dcdcdc" filter="url(#bl1)"/>
<path d="M871.1,116.2 C865.9,105.2 848.0,118.0 839.5,119.9 C831.0,121.7 826.5,123.5 820.0,127.2 C813.5,130.8 806.4,136.4 800.6,141.8 C794.7,147.1 789.2,151.9 784.7,159.3 C780.3,166.7 759.4,181.6 773.8,186.1 C788.2,190.5 854.9,197.7 871.1,186.1 C887.4,174.4 876.4,127.2 871.1,116.2 Z" fill="#b5b5b5" filter="url(#bl1)"/>
<path d="M871.1,119.1 C866.7,108.6 852.1,121.0 844.4,122.8 C836.7,124.6 831.4,126.4 824.9,130.1 C818.4,133.7 811.1,139.8 805.4,144.7 C799.7,149.6 794.9,152.4 790.8,159.3 C786.8,166.2 767.7,181.6 781.1,186.1 C794.5,190.5 856.1,197.2 871.1,186.1 C886.1,174.9 875.6,129.7 871.1,119.1 Z" fill="#dedede" filter="url(#bl1)"/>
<path d="M734.5,65.7 C735.1,64.7 736.3,66.2 737.5,64.8 C738.7,63.4 740.3,59.2 741.5,57.5 C742.7,55.7 743.3,55.4 744.7,54.3 C746.1,53.3 749.1,51.8 750.0,51.2 C750.9,50.5 749.7,51.1 750.1,50.5 C750.5,49.9 750.9,48.2 752.5,47.8 C754.1,47.4 758.6,48.0 759.8,48.2 C761.0,48.4 758.9,48.8 759.7,48.8 C760.4,48.8 763.4,47.7 764.2,48.1 C765.0,48.5 764.0,49.9 764.6,51.2 C765.3,52.5 767.0,54.6 767.9,55.8 C768.9,57.0 769.1,57.2 770.3,58.3 C771.5,59.3 772.7,61.1 775.0,62.2 C777.4,63.3 782.1,64.0 784.4,64.9 C786.6,65.8 787.6,66.5 788.7,67.5 C789.8,68.6 789.7,70.1 791.0,71.1 C792.2,72.1 794.6,72.6 796.3,73.5 C798.0,74.4 799.7,76.0 801.1,76.4 C802.5,76.8 803.2,75.8 804.5,76.1 C805.8,76.4 807.2,77.7 808.9,78.2 C810.6,78.8 813.1,79.0 814.6,79.4 C816.0,79.8 815.6,80.2 817.6,80.7 C819.7,81.2 824.6,81.6 826.6,82.6 C828.7,83.5 829.0,84.4 830.0,86.2 C831.1,88.1 831.6,91.7 832.8,93.5 C833.9,95.4 835.6,96.5 836.9,97.3 C838.1,98.2 839.4,97.4 840.3,98.8 C841.1,100.1 842.7,103.6 842.1,105.5 C841.5,107.3 837.4,108.2 836.5,110.1 C835.7,111.9 837.7,115.3 836.8,116.6 C835.9,118.0 832.0,116.8 831.1,118.2 C830.2,119.6 832.5,123.3 831.2,124.8 C829.9,126.2 825.2,125.6 823.2,126.9 C821.2,128.2 820.6,130.8 819.3,132.6 C818.1,134.3 817.0,136.2 815.7,137.5 C814.5,138.7 813.2,138.8 811.8,139.9 C810.5,141.0 808.8,143.2 807.4,144.2 C806.0,145.3 804.8,145.1 803.4,146.2 C802.1,147.2 800.6,149.6 799.5,150.6 C798.4,151.5 797.9,151.0 796.9,151.8 C795.9,152.6 794.6,153.5 793.4,155.3 C792.2,157.0 791.5,160.4 789.7,162.1 C787.9,163.9 784.7,165.2 782.7,165.6 C780.6,166.0 779.0,164.1 777.4,164.6 C775.7,165.0 774.7,168.3 772.7,168.4 C770.7,168.5 767.8,165.8 765.4,165.2 C762.9,164.6 760.2,165.1 758.1,164.8 C756.1,164.4 755.0,163.7 753.0,163.1 C750.9,162.5 747.8,162.2 745.7,161.2 C743.5,160.1 741.5,157.6 740.0,156.8 C738.4,156.0 737.5,157.4 736.2,156.1 C735.0,154.9 733.7,151.3 732.4,149.3 C731.1,147.2 729.5,145.2 728.4,143.7 C727.3,142.2 725.8,142.3 725.8,140.2 C725.9,138.1 727.9,133.7 728.7,131.3 C729.6,129.0 730.7,127.5 731.2,126.0 C731.7,124.4 731.1,123.7 731.6,122.0 C732.2,120.3 734.2,116.7 734.6,115.7 C735.1,114.6 734.4,117.1 734.5,115.9 C734.5,114.6 734.5,110.2 734.9,108.4 C735.3,106.6 736.3,106.2 736.8,104.9 C737.2,103.6 738.0,102.1 737.7,100.6 C737.4,99.1 735.6,98.0 735.0,96.0 C734.4,94.0 734.3,90.9 734.1,88.8 C734.0,86.7 734.5,84.9 734.1,83.3 C733.7,81.7 732.1,80.5 731.7,79.4 C731.4,78.4 731.7,78.5 732.1,77.1 C732.5,75.7 733.7,72.9 734.1,71.0 C734.5,69.1 733.9,66.7 734.5,65.7 Z" fill="#5a5a5a" filter="url(#bl1)"/>
<path d="M728.8,93.6 C732.2,86.7 742.8,90.7 747.0,96.0 C751.3,101.3 753.9,114.7 754.3,125.2 C754.7,135.8 752.7,154.4 749.4,159.3 C746.2,164.2 738.7,158.1 734.8,154.4 C731.0,150.8 727.3,147.5 726.3,137.4 C725.3,127.2 725.3,100.5 728.8,93.6 Z" fill="#7e7e7e" filter="url(#bl4)"/>
<path d="M734.5,67.5 C735.4,65.7 739.4,65.5 741.8,64.6 C744.1,63.7 746.1,63.5 748.5,62.2 C750.9,60.9 752.6,56.7 756.1,57.0 C759.6,57.3 764.3,62.0 769.5,64.0 C774.7,66.1 781.9,67.2 787.1,69.4 C792.3,71.7 799.3,75.8 800.7,77.8 C802.0,79.8 796.3,79.6 795.2,81.5 C794.2,83.4 795.4,87.4 794.3,89.2 C793.2,90.9 790.1,90.3 788.4,92.1 C786.8,93.9 785.9,97.5 784.2,100.0 C782.5,102.5 780.2,105.1 778.3,106.8 C776.4,108.6 775.2,110.2 772.9,110.3 C770.5,110.4 766.5,108.1 764.3,107.4 C762.2,106.6 761.9,106.6 760.0,105.8 C758.2,104.9 754.8,103.2 753.1,102.1 C751.4,100.9 751.5,99.9 750.0,98.8 C748.4,97.7 745.6,97.5 744.0,95.5 C742.4,93.5 741.2,89.0 740.2,86.9 C739.3,84.8 738.8,84.8 738.1,82.9 C737.5,81.1 737.1,78.2 736.5,75.7 C735.9,73.1 733.6,69.4 734.5,67.5 Z" fill="#2a2a2a" filter="url(#bl2)"/>
<path d="M805.4,79.0 C811.9,77.4 830.2,86.7 834.6,93.6 C839.1,100.5 836.2,115.1 832.2,120.3 C828.1,125.6 816.4,128.1 810.3,125.2 C804.2,122.4 796.5,111.0 795.7,103.3 C794.9,95.6 798.9,80.6 805.4,79.0 Z" fill="#383838" filter="url(#bl4)"/>
<path d="M790.8,103.3 C797.7,100.5 815.6,105.7 820.0,110.6 C824.5,115.5 821.6,127.6 817.6,132.5 C813.5,137.4 802.2,140.6 795.7,139.8 C789.2,139.0 779.5,133.7 778.6,127.6 C777.8,121.6 783.9,106.2 790.8,103.3 Z" fill="#4a4a4a" filter="url(#bl4)"/>
<path d="M756.7,120.3 C760.0,117.5 777.0,117.5 781.1,120.3 C785.1,123.2 784.3,134.5 781.1,137.4 C777.8,140.2 765.7,140.2 761.6,137.4 C757.6,134.5 753.5,123.2 756.7,120.3 Z" fill="#404040" filter="url(#bl4)"/>
<ellipse cx="781.1" cy="144.7" rx="5.4" ry="11.0" fill="none" stroke="#6a6a6a" stroke-width="0.9" filter="url(#bl05)"/>
<ellipse cx="764.0" cy="132.5" rx="4.4" ry="6.8" fill="none" stroke="#6a6a6a" stroke-width="0.9" filter="url(#bl05)"/>
<path d="M674.3,141.4 C674.8,139.4 678.5,137.8 679.6,135.3 C680.6,132.8 680.1,128.8 680.4,126.3 C680.7,123.9 680.9,122.4 681.3,120.6 C681.7,118.7 681.9,116.9 682.7,115.3 C683.5,113.7 685.3,113.2 686.3,111.2 C687.3,109.1 688.4,105.4 688.9,102.9 C689.4,100.4 688.4,98.2 689.4,96.1 C690.3,94.0 693.8,92.1 694.6,90.2 C695.4,88.3 693.6,85.5 694.2,84.8 C694.7,84.1 696.7,86.1 697.6,86.1 C698.5,86.0 699.4,85.5 699.6,84.4 C699.8,83.2 698.1,79.6 698.9,79.3 C699.6,78.9 703.1,81.5 704.4,82.3 C705.7,83.0 706.2,83.5 706.6,84.0 C707.0,84.5 706.0,84.0 706.6,85.3 C707.3,86.5 708.7,90.1 710.4,91.3 C712.0,92.4 714.9,91.4 716.5,92.1 C718.2,92.8 719.2,94.2 720.0,95.5 C720.9,96.9 720.4,98.9 721.5,100.2 C722.7,101.4 725.7,102.3 727.1,102.9 C728.5,103.5 729.2,103.4 729.7,103.8 C730.2,104.3 729.3,103.8 730.1,105.4 C730.9,106.9 733.8,111.0 734.3,113.0 C734.7,115.0 732.8,116.0 732.8,117.2 C732.9,118.4 734.5,118.4 734.6,120.3 C734.7,122.2 733.6,126.5 733.3,128.9 C732.9,131.2 733.3,133.0 732.4,134.5 C731.5,136.0 729.0,136.4 728.0,137.7 C727.1,139.1 727.9,140.4 726.9,142.7 C725.8,144.9 723.4,149.2 721.8,151.2 C720.3,153.2 719.4,154.1 717.7,154.9 C716.1,155.7 713.5,155.3 711.8,156.2 C710.1,157.1 708.7,159.2 707.5,160.3 C706.2,161.4 706.2,162.2 704.5,162.8 C702.7,163.5 699.2,163.3 697.0,164.1 C694.8,164.8 692.9,167.2 691.2,167.3 C689.4,167.4 688.2,164.8 686.6,164.7 C684.9,164.6 682.7,167.1 681.3,166.8 C679.9,166.5 679.0,164.9 678.2,163.0 C677.5,161.2 677.1,158.5 676.7,155.9 C676.3,153.3 676.5,149.9 676.1,147.5 C675.7,145.1 673.7,143.4 674.3,141.4 Z" fill="#b6b6b6" filter="url(#bl05)"/>
<path d="M674.3,141.4 C674.8,139.4 678.5,137.8 679.6,135.3 C680.6,132.8 680.1,128.8 680.4,126.3 C680.7,123.9 680.9,122.4 681.3,120.6 C681.7,118.7 681.9,116.9 682.7,115.3 C683.5,113.7 685.3,113.2 686.3,111.2 C687.3,109.1 688.4,105.4 688.9,102.9 C689.4,100.4 688.4,98.2 689.4,96.1 C690.3,94.0 693.8,92.1 694.6,90.2 C695.4,88.3 693.6,85.5 694.2,84.8 C694.7,84.1 696.7,86.1 697.6,86.1 C698.5,86.0 699.4,85.5 699.6,84.4 C699.8,83.2 698.1,79.6 698.9,79.3 C699.6,78.9 703.1,81.5 704.4,82.3 C705.7,83.0 706.2,83.5 706.6,84.0 C707.0,84.5 706.0,84.0 706.6,85.3 C707.3,86.5 708.7,90.1 710.4,91.3 C712.0,92.4 714.9,91.4 716.5,92.1 C718.2,92.8 719.2,94.2 720.0,95.5 C720.9,96.9 720.4,98.9 721.5,100.2 C722.7,101.4 725.7,102.3 727.1,102.9 C728.5,103.5 729.2,103.4 729.7,103.8 C730.2,104.3 729.3,103.8 730.1,105.4 C730.9,106.9 733.8,111.0 734.3,113.0 C734.7,115.0 732.8,116.0 732.8,117.2 C732.9,118.4 734.5,118.4 734.6,120.3 C734.7,122.2 733.6,126.5 733.3,128.9 C732.9,131.2 733.3,133.0 732.4,134.5 C731.5,136.0 729.0,136.4 728.0,137.7 C727.1,139.1 727.9,140.4 726.9,142.7 C725.8,144.9 723.4,149.2 721.8,151.2 C720.3,153.2 719.4,154.1 717.7,154.9 C716.1,155.7 713.5,155.3 711.8,156.2 C710.1,157.1 708.7,159.2 707.5,160.3 C706.2,161.4 706.2,162.2 704.5,162.8 C702.7,163.5 699.2,163.3 697.0,164.1 C694.8,164.8 692.9,167.2 691.2,167.3 C689.4,167.4 688.2,164.8 686.6,164.7 C684.9,164.6 682.7,167.1 681.3,166.8 C679.9,166.5 679.0,164.9 678.2,163.0 C677.5,161.2 677.1,158.5 676.7,155.9 C676.3,153.3 676.5,149.9 676.1,147.5 C675.7,145.1 673.7,143.4 674.3,141.4 Z" fill="none" stroke="#707070" stroke-width="1.6" stroke-opacity="0.6" filter="url(#bl1)"/>
<path d="M681.3,125.2 C681.9,125.3 683.5,125.8 684.6,125.9 C685.8,126.0 687.0,126.1 688.0,125.9 C689.1,125.7 690.1,124.9 691.2,124.6 C692.3,124.2 693.5,124.5 694.5,124.0 C695.6,123.6 696.5,122.8 697.3,122.0 C698.1,121.2 698.5,120.0 699.3,119.2 C700.1,118.5 701.8,117.8 702.3,117.5" fill="none" stroke="#606060" stroke-width="0.6" stroke-dasharray="3,1.5" filter="url(#bl05)"/>
<path d="M688.6,137.4 C689.2,137.3 690.8,136.8 692.0,136.8 C693.1,136.9 694.3,137.2 695.3,137.6 C696.3,138.1 697.1,139.1 698.1,139.5 C699.1,140.0 700.3,140.1 701.4,140.2 C702.6,140.3 703.7,140.1 704.8,140.2 C705.9,140.4 707.0,141.0 708.1,141.2 C709.2,141.4 710.9,141.6 711.5,141.7" fill="none" stroke="#606060" stroke-width="0.9" stroke-dasharray="3,1.5" filter="url(#bl05)"/>
<path d="M695.9,103.3 C696.5,103.2 698.2,102.7 699.3,102.8 C700.4,102.9 701.4,103.7 702.4,104.1 C703.5,104.5 704.5,105.2 705.6,105.4 C706.7,105.7 707.8,105.6 709.0,105.7 C710.1,105.7 711.3,105.9 712.4,105.7 C713.5,105.5 714.4,104.6 715.5,104.3 C716.5,103.9 718.3,103.8 718.8,103.7" fill="none" stroke="#606060" stroke-width="0.7" stroke-dasharray="3,1.5" filter="url(#bl05)"/>
<path d="M683.7,152.0 C684.3,152.1 685.9,152.6 687.0,152.9 C688.1,153.3 689.1,153.9 690.2,154.2 C691.2,154.5 692.4,154.9 693.5,155.0 C694.6,155.1 695.8,154.7 696.9,154.7 C698.0,154.7 699.2,155.0 700.3,154.9 C701.4,154.7 702.4,154.0 703.5,153.9 C704.7,153.8 706.4,154.3 706.9,154.4" fill="none" stroke="#606060" stroke-width="0.6" stroke-dasharray="3,1.5" filter="url(#bl05)"/>
<path d="M703.2,91.1 C703.3,91.7 703.8,93.3 704.1,94.4 C704.3,95.5 704.4,96.7 704.8,97.8 C705.1,98.8 706.0,99.7 706.3,100.8 C706.7,101.9 706.6,103.1 706.8,104.2 C707.1,105.3 707.6,106.3 707.8,107.4 C708.0,108.5 708.1,109.7 708.2,110.8 C708.2,112.0 708.2,113.7 708.2,114.2" fill="none" stroke="#606060" stroke-width="0.7" stroke-dasharray="3,1.5" filter="url(#bl05)"/>
<path d="M710.5,120.3 C711.1,120.3 712.9,120.5 713.9,120.2 C715.0,119.9 716.0,119.3 716.9,118.5 C717.7,117.8 718.1,116.5 718.9,115.8 C719.8,115.1 721.0,114.8 721.9,114.2 C722.9,113.6 723.6,112.6 724.5,112.0 C725.4,111.3 726.7,111.1 727.5,110.3 C728.3,109.5 729.0,107.9 729.4,107.5" fill="none" stroke="#606060" stroke-width="0.8" stroke-dasharray="3,1.5" filter="url(#bl05)"/>
<path d="M717.8,108.2 C718.3,107.9 719.7,107.0 720.7,106.4 C721.6,105.7 722.7,105.2 723.6,104.5 C724.4,103.8 725.4,103.0 725.9,102.1 C726.4,101.1 726.6,99.9 726.7,98.7 C726.9,97.6 726.9,96.5 726.8,95.3 C726.6,94.2 726.3,93.1 725.7,92.1 C725.1,91.2 723.8,90.0 723.4,89.6" fill="none" stroke="#606060" stroke-width="0.8" stroke-dasharray="3,1.5" filter="url(#bl05)"/>
<path d="M698.3,159.3 C698.8,159.0 700.3,158.1 701.2,157.5 C702.1,156.8 702.9,155.8 703.9,155.3 C704.9,154.9 706.1,154.7 707.2,154.7 C708.3,154.7 709.6,154.8 710.6,155.2 C711.6,155.6 712.6,156.3 713.4,157.1 C714.2,157.9 714.4,159.3 715.1,160.1 C715.9,160.9 717.5,161.7 718.0,162.0" fill="none" stroke="#606060" stroke-width="0.7" stroke-dasharray="3,1.5" filter="url(#bl05)"/>
<g filter="url(#noiseT)" opacity="0.3"><path d="M674.3,141.4 C674.8,139.4 678.5,137.8 679.6,135.3 C680.6,132.8 680.1,128.8 680.4,126.3 C680.7,123.9 680.9,122.4 681.3,120.6 C681.7,118.7 681.9,116.9 682.7,115.3 C683.5,113.7 685.3,113.2 686.3,111.2 C687.3,109.1 688.4,105.4 688.9,102.9 C689.4,100.4 688.4,98.2 689.4,96.1 C690.3,94.0 693.8,92.1 694.6,90.2 C695.4,88.3 693.6,85.5 694.2,84.8 C694.7,84.1 696.7,86.1 697.6,86.1 C698.5,86.0 699.4,85.5 699.6,84.4 C699.8,83.2 698.1,79.6 698.9,79.3 C699.6,78.9 703.1,81.5 704.4,82.3 C705.7,83.0 706.2,83.5 706.6,84.0 C707.0,84.5 706.0,84.0 706.6,85.3 C707.3,86.5 708.7,90.1 710.4,91.3 C712.0,92.4 714.9,91.4 716.5,92.1 C718.2,92.8 719.2,94.2 720.0,95.5 C720.9,96.9 720.4,98.9 721.5,100.2 C722.7,101.4 725.7,102.3 727.1,102.9 C728.5,103.5 729.2,103.4 729.7,103.8 C730.2,104.3 729.3,103.8 730.1,105.4 C730.9,106.9 733.8,111.0 734.3,113.0 C734.7,115.0 732.8,116.0 732.8,117.2 C732.9,118.4 734.5,118.4 734.6,120.3 C734.7,122.2 733.6,126.5 733.3,128.9 C732.9,131.2 733.3,133.0 732.4,134.5 C731.5,136.0 729.0,136.4 728.0,137.7 C727.1,139.1 727.9,140.4 726.9,142.7 C725.8,144.9 723.4,149.2 721.8,151.2 C720.3,153.2 719.4,154.1 717.7,154.9 C716.1,155.7 713.5,155.3 711.8,156.2 C710.1,157.1 708.7,159.2 707.5,160.3 C706.2,161.4 706.2,162.2 704.5,162.8 C702.7,163.5 699.2,163.3 697.0,164.1 C694.8,164.8 692.9,167.2 691.2,167.3 C689.4,167.4 688.2,164.8 686.6,164.7 C684.9,164.6 682.7,167.1 681.3,166.8 C679.9,166.5 679.0,164.9 678.2,163.0 C677.5,161.2 677.1,158.5 676.7,155.9 C676.3,153.3 676.5,149.9 676.1,147.5 C675.7,145.1 673.7,143.4 674.3,141.4 Z" fill="#333"/><path d="M734.5,65.7 C735.1,64.7 736.3,66.2 737.5,64.8 C738.7,63.4 740.3,59.2 741.5,57.5 C742.7,55.7 743.3,55.4 744.7,54.3 C746.1,53.3 749.1,51.8 750.0,51.2 C750.9,50.5 749.7,51.1 750.1,50.5 C750.5,49.9 750.9,48.2 752.5,47.8 C754.1,47.4 758.6,48.0 759.8,48.2 C761.0,48.4 758.9,48.8 759.7,48.8 C760.4,48.8 763.4,47.7 764.2,48.1 C765.0,48.5 764.0,49.9 764.6,51.2 C765.3,52.5 767.0,54.6 767.9,55.8 C768.9,57.0 769.1,57.2 770.3,58.3 C771.5,59.3 772.7,61.1 775.0,62.2 C777.4,63.3 782.1,64.0 784.4,64.9 C786.6,65.8 787.6,66.5 788.7,67.5 C789.8,68.6 789.7,70.1 791.0,71.1 C792.2,72.1 794.6,72.6 796.3,73.5 C798.0,74.4 799.7,76.0 801.1,76.4 C802.5,76.8 803.2,75.8 804.5,76.1 C805.8,76.4 807.2,77.7 808.9,78.2 C810.6,78.8 813.1,79.0 814.6,79.4 C816.0,79.8 815.6,80.2 817.6,80.7 C819.7,81.2 824.6,81.6 826.6,82.6 C828.7,83.5 829.0,84.4 830.0,86.2 C831.1,88.1 831.6,91.7 832.8,93.5 C833.9,95.4 835.6,96.5 836.9,97.3 C838.1,98.2 839.4,97.4 840.3,98.8 C841.1,100.1 842.7,103.6 842.1,105.5 C841.5,107.3 837.4,108.2 836.5,110.1 C835.7,111.9 837.7,115.3 836.8,116.6 C835.9,118.0 832.0,116.8 831.1,118.2 C830.2,119.6 832.5,123.3 831.2,124.8 C829.9,126.2 825.2,125.6 823.2,126.9 C821.2,128.2 820.6,130.8 819.3,132.6 C818.1,134.3 817.0,136.2 815.7,137.5 C814.5,138.7 813.2,138.8 811.8,139.9 C810.5,141.0 808.8,143.2 807.4,144.2 C806.0,145.3 804.8,145.1 803.4,146.2 C802.1,147.2 800.6,149.6 799.5,150.6 C798.4,151.5 797.9,151.0 796.9,151.8 C795.9,152.6 794.6,153.5 793.4,155.3 C792.2,157.0 791.5,160.4 789.7,162.1 C787.9,163.9 784.7,165.2 782.7,165.6 C780.6,166.0 779.0,164.1 777.4,164.6 C775.7,165.0 774.7,168.3 772.7,168.4 C770.7,168.5 767.8,165.8 765.4,165.2 C762.9,164.6 760.2,165.1 758.1,164.8 C756.1,164.4 755.0,163.7 753.0,163.1 C750.9,162.5 747.8,162.2 745.7,161.2 C743.5,160.1 741.5,157.6 740.0,156.8 C738.4,156.0 737.5,157.4 736.2,156.1 C735.0,154.9 733.7,151.3 732.4,149.3 C731.1,147.2 729.5,145.2 728.4,143.7 C727.3,142.2 725.8,142.3 725.8,140.2 C725.9,138.1 727.9,133.7 728.7,131.3 C729.6,129.0 730.7,127.5 731.2,126.0 C731.7,124.4 731.1,123.7 731.6,122.0 C732.2,120.3 734.2,116.7 734.6,115.7 C735.1,114.6 734.4,117.1 734.5,115.9 C734.5,114.6 734.5,110.2 734.9,108.4 C735.3,106.6 736.3,106.2 736.8,104.9 C737.2,103.6 738.0,102.1 737.7,100.6 C737.4,99.1 735.6,98.0 735.0,96.0 C734.4,94.0 734.3,90.9 734.1,88.8 C734.0,86.7 734.5,84.9 734.1,83.3 C733.7,81.7 732.1,80.5 731.7,79.4 C731.4,78.4 731.7,78.5 732.1,77.1 C732.5,75.7 733.7,72.9 734.1,71.0 C734.5,69.1 733.9,66.7 734.5,65.7 Z" fill="#222"/></g></g></g>
<text x="843.5" y="172" font-size="8" fill="#333" text-anchor="middle" font-weight="normal" >500 nm</text>
<rect x="828.5" y="175.3" width="31.7" height="2" fill="#222"/>
<use href="#temimg" transform="translate(31.7,209.2) scale(0.4979,0.4612) translate(-674.4,-23.6)"/>
<rect x="31.7" y="263.9" width="37.9" height="17.9" fill="#fff"/>
<text x="50.6" y="274.5" font-size="9.5" fill="#222" text-anchor="middle" font-weight="normal" >500 nm</text>
<rect x="41.5" y="277.8" width="16" height="2" fill="#222"/>
<g clip-path="url(#cHR)"><rect x="470.7" y="188.6" width="189.7" height="156.1" fill="#6c6c6c"/>
<path d="M615.2,188.0 C620.1,183.6 655.6,183.2 663.7,188.0 C671.7,192.8 668.5,212.6 663.7,217.0 C658.8,221.5 642.7,219.5 634.6,214.6 C626.5,209.8 610.4,192.4 615.2,188.0 Z" fill="#808080" filter="url(#bl4)"/>
<path d="M511.2,289.7 C515.2,286.4 526.5,292.5 532.9,294.5 C539.4,296.5 547.5,296.9 549.9,301.8 C552.3,306.6 551.1,319.5 547.5,323.6 C543.8,327.6 534.6,327.6 528.1,326.0 C521.6,324.4 511.6,319.9 508.7,313.9 C505.9,307.8 507.1,292.9 511.2,289.7 Z" fill="#404040" filter="url(#bl4)"/>
<path d="M615.2,246.1 C624.9,237.2 655.6,235.6 663.7,250.9 C671.7,266.3 670.1,324.4 663.7,338.1 C657.2,351.8 634.6,338.9 624.9,333.2 C615.2,327.6 607.2,318.7 605.6,304.2 C603.9,289.7 605.6,255.0 615.2,246.1 Z" fill="#4c4c4c" filter="url(#bl4)"/>
<path d="M552.3,299.4 C558.8,296.5 579.7,296.9 586.2,301.8 C592.6,306.6 595.1,323.2 591.0,328.4 C587.0,333.6 569.2,334.9 562.0,333.2 C554.7,331.6 549.1,324.4 547.5,318.7 C545.8,313.1 545.8,302.2 552.3,299.4 Z" fill="#969696" filter="url(#bl4)"/>
<path d="M591.0,280.0 C593.9,276.4 608.8,276.8 612.8,280.0 C616.9,283.2 618.1,295.7 615.2,299.4 C612.4,303.0 599.9,305.0 595.9,301.8 C591.8,298.5 588.2,283.6 591.0,280.0 Z" fill="#828282" filter="url(#bl4)"/>
<path d="M537.8,260.6 C540.2,257.4 553.1,261.8 557.1,265.5 C561.2,269.1 564.4,279.2 562.0,282.4 C559.6,285.6 546.7,288.5 542.6,284.8 C538.6,281.2 535.4,263.8 537.8,260.6 Z" fill="#555" filter="url(#bl4)"/>
<path d="M494.2,188.0 C500.3,182.8 533.7,183.2 542.6,188.0 C551.5,192.8 553.5,211.8 547.5,217.0 C541.4,222.3 515.2,224.3 506.3,219.5 C497.4,214.6 488.2,193.2 494.2,188.0 Z" fill="#767676" filter="url(#bl4)"/>
<path d="M562.0,188.0 C565.2,182.4 580.1,183.2 583.8,188.0 C587.4,192.8 587.0,211.4 583.8,217.0 C580.5,222.7 568.0,226.7 564.4,221.9 C560.8,217.0 558.8,193.6 562.0,188.0 Z" fill="#585858" filter="url(#bl4)"/>
<path d="M489.4,323.6 C498.2,320.3 528.9,324.4 542.6,328.4 C556.3,332.4 580.5,344.5 571.7,347.8 C562.8,351.0 503.1,351.8 489.4,347.8 C475.6,343.7 480.5,326.8 489.4,323.6 Z" fill="#7a7a7a" filter="url(#bl4)"/>
<rect x="470.7" y="188.6" width="189.7" height="156.1" filter="url(#grainMid)" opacity="0.2"/>
<rect x="470.7" y="188.6" width="189.7" height="156.1" filter="url(#grainFine)" opacity="0.08"/>
<path d="M455.5,253.4 C458.7,236.4 470.2,254.2 474.8,255.8 C479.5,257.4 482.3,259.4 483.3,263.0 C484.3,266.7 479.9,272.7 480.9,277.6 C481.9,282.4 488.8,286.8 489.4,292.1 C490.0,297.3 484.7,303.8 484.5,309.0 C484.3,314.3 486.7,318.7 488.2,323.6 C489.6,328.4 492.4,332.4 493.0,338.1 C493.6,343.7 498.0,354.2 491.8,357.5 C485.5,360.7 461.5,374.8 455.5,357.5 C449.4,340.1 452.2,270.3 455.5,253.4 Z" fill="#a0a0a0" filter="url(#bl2)" opacity="0.85"/></g>
<clipPath id="cf1"><rect x="476" y="223.1" width="37.6" height="35.1"/></clipPath>
<rect x="476" y="223.1" width="37.6" height="35.1" fill="#707070"/>
<g clip-path="url(#cf1)"><g transform="rotate(62 494.8 240.65)" filter="url(#bl05)">
<line x1="419.2" y1="188.0" x2="419.2" y2="293.3" stroke="#c4c4c4" stroke-width="1.40"/>
<line x1="422.0" y1="188.0" x2="422.0" y2="293.3" stroke="#c4c4c4" stroke-width="1.40"/>
<line x1="424.8" y1="188.0" x2="424.8" y2="293.3" stroke="#c4c4c4" stroke-width="1.40"/>
<line x1="427.6" y1="188.0" x2="427.6" y2="293.3" stroke="#c4c4c4" stroke-width="1.40"/>
<line x1="430.4" y1="188.0" x2="430.4" y2="293.3" stroke="#c4c4c4" stroke-width="1.40"/>
<line x1="433.2" y1="188.0" x2="433.2" y2="293.3" stroke="#c4c4c4" stroke-width="1.40"/>
<line x1="436.0" y1="188.0" x2="436.0" y2="293.3" stroke="#c4c4c4" stroke-width="1.40"/>
<line x1="438.8" y1="188.0" x2="438.8" y2="293.3" stroke="#c4c4c4" stroke-width="1.40"/>
<line x1="441.6" y1="188.0" x2="441.6" y2="293.3" stroke="#c4c4c4" stroke-width="1.40"/>
<line x1="444.4" y1="188.0" x2="444.4" y2="293.3" stroke="#c4c4c4" stroke-width="1.40"/>
<line x1="447.2" y1="188.0" x2="447.2" y2="293.3" stroke="#c4c4c4" stroke-width="1.40"/>
<line x1="450.0" y1="188.0" x2="450.0" y2="293.3" stroke="#c4c4c4" stroke-width="1.40"/>
<line x1="452.8" y1="188.0" x2="452.8" y2="293.3" stroke="#c4c4c4" stroke-width="1.40"/>
<line x1="455.6" y1="188.0" x2="455.6" y2="293.3" stroke="#c4c4c4" stroke-width="1.40"/>
<line x1="458.4" y1="188.0" x2="458.4" y2="293.3" stroke="#c4c4c4" stroke-width="1.40"/>
<line x1="461.2" y1="188.0" x2="461.2" y2="293.3" stroke="#c4c4c4" stroke-width="1.40"/>
<line x1="464.0" y1="188.0" x2="464.0" y2="293.3" stroke="#c4c4c4" stroke-width="1.40"/>
<line x1="466.8" y1="188.0" x2="466.8" y2="293.3" stroke="#c4c4c4" stroke-width="1.40"/>
<line x1="469.6" y1="188.0" x2="469.6" y2="293.3" stroke="#c4c4c4" stroke-width="1.40"/>
<line x1="472.4" y1="188.0" x2="472.4" y2="293.3" stroke="#c4c4c4" stroke-width="1.40"/>
<line x1="475.2" y1="188.0" x2="475.2" y2="293.3" stroke="#c4c4c4" stroke-width="1.40"/>
<line x1="478.0" y1="188.0" x2="478.0" y2="293.3" stroke="#c4c4c4" stroke-width="1.40"/>
<line x1="480.8" y1="188.0" x2="480.8" y2="293.3" stroke="#c4c4c4" stroke-width="1.40"/>
<line x1="483.6" y1="188.0" x2="483.6" y2="293.3" stroke="#c4c4c4" stroke-width="1.40"/>
<line x1="486.4" y1="188.0" x2="486.4" y2="293.3" stroke="#c4c4c4" stroke-width="1.40"/>
<line x1="489.2" y1="188.0" x2="489.2" y2="293.3" stroke="#c4c4c4" stroke-width="1.40"/>
<line x1="492.0" y1="188.0" x2="492.0" y2="293.3" stroke="#c4c4c4" stroke-width="1.40"/>
<line x1="494.8" y1="188.0" x2="494.8" y2="293.3" stroke="#c4c4c4" stroke-width="1.40"/>
<line x1="497.6" y1="188.0" x2="497.6" y2="293.3" stroke="#c4c4c4" stroke-width="1.40"/>
<line x1="500.4" y1="188.0" x2="500.4" y2="293.3" stroke="#c4c4c4" stroke-width="1.40"/>
<line x1="503.2" y1="188.0" x2="503.2" y2="293.3" stroke="#c4c4c4" stroke-width="1.40"/>
<line x1="506.0" y1="188.0" x2="506.0" y2="293.3" stroke="#c4c4c4" stroke-width="1.40"/>
<line x1="508.8" y1="188.0" x2="508.8" y2="293.3" stroke="#c4c4c4" stroke-width="1.40"/>
<line x1="511.6" y1="188.0" x2="511.6" y2="293.3" stroke="#c4c4c4" stroke-width="1.40"/>
<line x1="514.4" y1="188.0" x2="514.4" y2="293.3" stroke="#c4c4c4" stroke-width="1.40"/>
<line x1="517.2" y1="188.0" x2="517.2" y2="293.3" stroke="#c4c4c4" stroke-width="1.40"/>
<line x1="520.0" y1="188.0" x2="520.0" y2="293.3" stroke="#c4c4c4" stroke-width="1.40"/>
<line x1="522.8" y1="188.0" x2="522.8" y2="293.3" stroke="#c4c4c4" stroke-width="1.40"/>
<line x1="525.6" y1="188.0" x2="525.6" y2="293.3" stroke="#c4c4c4" stroke-width="1.40"/>
<line x1="528.4" y1="188.0" x2="528.4" y2="293.3" stroke="#c4c4c4" stroke-width="1.40"/>
<line x1="531.2" y1="188.0" x2="531.2" y2="293.3" stroke="#c4c4c4" stroke-width="1.40"/>
<line x1="534.0" y1="188.0" x2="534.0" y2="293.3" stroke="#c4c4c4" stroke-width="1.40"/>
<line x1="536.8" y1="188.0" x2="536.8" y2="293.3" stroke="#c4c4c4" stroke-width="1.40"/>
<line x1="539.6" y1="188.0" x2="539.6" y2="293.3" stroke="#c4c4c4" stroke-width="1.40"/>
<line x1="542.4" y1="188.0" x2="542.4" y2="293.3" stroke="#c4c4c4" stroke-width="1.40"/>
<line x1="545.2" y1="188.0" x2="545.2" y2="293.3" stroke="#c4c4c4" stroke-width="1.40"/>
<line x1="548.0" y1="188.0" x2="548.0" y2="293.3" stroke="#c4c4c4" stroke-width="1.40"/>
<line x1="550.8" y1="188.0" x2="550.8" y2="293.3" stroke="#c4c4c4" stroke-width="1.40"/>
<line x1="553.6" y1="188.0" x2="553.6" y2="293.3" stroke="#c4c4c4" stroke-width="1.40"/>
<line x1="556.4" y1="188.0" x2="556.4" y2="293.3" stroke="#c4c4c4" stroke-width="1.40"/>
<line x1="559.2" y1="188.0" x2="559.2" y2="293.3" stroke="#c4c4c4" stroke-width="1.40"/>
<line x1="562.0" y1="188.0" x2="562.0" y2="293.3" stroke="#c4c4c4" stroke-width="1.40"/>
<line x1="564.8" y1="188.0" x2="564.8" y2="293.3" stroke="#c4c4c4" stroke-width="1.40"/>
<line x1="567.6" y1="188.0" x2="567.6" y2="293.3" stroke="#c4c4c4" stroke-width="1.40"/>
<line x1="570.4" y1="188.0" x2="570.4" y2="293.3" stroke="#c4c4c4" stroke-width="1.40"/>
</g></g>
<rect x="476" y="223.1" width="37.6" height="35.1" fill="none" stroke="#d84040" stroke-width="1" stroke-dasharray="2.2,1.2"/>
<clipPath id="cf2"><rect x="580.1" y="201.3" width="40.5" height="40"/></clipPath>
<rect x="580.1" y="201.3" width="40.5" height="40" fill="#5e5e5e"/>
<g clip-path="url(#cf2)"><g transform="rotate(0 600.35 221.3)" filter="url(#bl05)">
<line x1="510.4" y1="161.3" x2="510.4" y2="281.3" stroke="#d0d0d0" stroke-width="2.50"/>
<line x1="515.4" y1="161.3" x2="515.4" y2="281.3" stroke="#d0d0d0" stroke-width="2.50"/>
<line x1="520.4" y1="161.3" x2="520.4" y2="281.3" stroke="#d0d0d0" stroke-width="2.50"/>
<line x1="525.4" y1="161.3" x2="525.4" y2="281.3" stroke="#d0d0d0" stroke-width="2.50"/>
<line x1="530.4" y1="161.3" x2="530.4" y2="281.3" stroke="#d0d0d0" stroke-width="2.50"/>
<line x1="535.4" y1="161.3" x2="535.4" y2="281.3" stroke="#d0d0d0" stroke-width="2.50"/>
<line x1="540.4" y1="161.3" x2="540.4" y2="281.3" stroke="#d0d0d0" stroke-width="2.50"/>
<line x1="545.4" y1="161.3" x2="545.4" y2="281.3" stroke="#d0d0d0" stroke-width="2.50"/>
<line x1="550.4" y1="161.3" x2="550.4" y2="281.3" stroke="#d0d0d0" stroke-width="2.50"/>
<line x1="555.4" y1="161.3" x2="555.4" y2="281.3" stroke="#d0d0d0" stroke-width="2.50"/>
<line x1="560.4" y1="161.3" x2="560.4" y2="281.3" stroke="#d0d0d0" stroke-width="2.50"/>
<line x1="565.4" y1="161.3" x2="565.4" y2="281.3" stroke="#d0d0d0" stroke-width="2.50"/>
<line x1="570.4" y1="161.3" x2="570.4" y2="281.3" stroke="#d0d0d0" stroke-width="2.50"/>
<line x1="575.4" y1="161.3" x2="575.4" y2="281.3" stroke="#d0d0d0" stroke-width="2.50"/>
<line x1="580.4" y1="161.3" x2="580.4" y2="281.3" stroke="#d0d0d0" stroke-width="2.50"/>
<line x1="585.4" y1="161.3" x2="585.4" y2="281.3" stroke="#d0d0d0" stroke-width="2.50"/>
<line x1="590.4" y1="161.3" x2="590.4" y2="281.3" stroke="#d0d0d0" stroke-width="2.50"/>
<line x1="595.4" y1="161.3" x2="595.4" y2="281.3" stroke="#d0d0d0" stroke-width="2.50"/>
<line x1="600.4" y1="161.3" x2="600.4" y2="281.3" stroke="#d0d0d0" stroke-width="2.50"/>
<line x1="605.4" y1="161.3" x2="605.4" y2="281.3" stroke="#d0d0d0" stroke-width="2.50"/>
<line x1="610.4" y1="161.3" x2="610.4" y2="281.3" stroke="#d0d0d0" stroke-width="2.50"/>
<line x1="615.4" y1="161.3" x2="615.4" y2="281.3" stroke="#d0d0d0" stroke-width="2.50"/>
<line x1="620.4" y1="161.3" x2="620.4" y2="281.3" stroke="#d0d0d0" stroke-width="2.50"/>
<line x1="625.4" y1="161.3" x2="625.4" y2="281.3" stroke="#d0d0d0" stroke-width="2.50"/>
<line x1="630.4" y1="161.3" x2="630.4" y2="281.3" stroke="#d0d0d0" stroke-width="2.50"/>
<line x1="635.4" y1="161.3" x2="635.4" y2="281.3" stroke="#d0d0d0" stroke-width="2.50"/>
<line x1="640.4" y1="161.3" x2="640.4" y2="281.3" stroke="#d0d0d0" stroke-width="2.50"/>
<line x1="645.4" y1="161.3" x2="645.4" y2="281.3" stroke="#d0d0d0" stroke-width="2.50"/>
<line x1="650.4" y1="161.3" x2="650.4" y2="281.3" stroke="#d0d0d0" stroke-width="2.50"/>
<line x1="655.4" y1="161.3" x2="655.4" y2="281.3" stroke="#d0d0d0" stroke-width="2.50"/>
<line x1="660.4" y1="161.3" x2="660.4" y2="281.3" stroke="#d0d0d0" stroke-width="2.50"/>
<line x1="665.4" y1="161.3" x2="665.4" y2="281.3" stroke="#d0d0d0" stroke-width="2.50"/>
<line x1="670.4" y1="161.3" x2="670.4" y2="281.3" stroke="#d0d0d0" stroke-width="2.50"/>
<line x1="675.4" y1="161.3" x2="675.4" y2="281.3" stroke="#d0d0d0" stroke-width="2.50"/>
<line x1="680.4" y1="161.3" x2="680.4" y2="281.3" stroke="#d0d0d0" stroke-width="2.50"/>
<line x1="685.4" y1="161.3" x2="685.4" y2="281.3" stroke="#d0d0d0" stroke-width="2.50"/>
<line x1="690.4" y1="161.3" x2="690.4" y2="281.3" stroke="#d0d0d0" stroke-width="2.50"/>
</g></g>
<rect x="580.1" y="201.3" width="40.5" height="40" fill="none" stroke="#d84040" stroke-width="1" stroke-dasharray="2.2,1.2"/>
<path d="M486,233 L502,249 M487,248 L502,234" stroke="#e02828" stroke-width="1.6"/>
<path d="M594,222 L611,222 M602,213 L602,232 M586,222 L592,222 M612,222 L618,222" stroke="#e02828" stroke-width="1.4"/>
<rect x="513.6" y="226.7" width="47.9" height="21.8" fill="#fff"/>
<text x="537.7" y="236.3" font-size="8.5" fill="#222" text-anchor="middle" font-weight="normal" >V (200)</text>
<text x="537.7" y="246" font-size="8.5" fill="#222" text-anchor="middle" font-weight="normal" ><tspan font-style="italic">d</tspan>=0.154 nm</text>
<rect x="577.7" y="244.9" width="47.3" height="20.6" fill="#fff"/>
<text x="601.3" y="254.2" font-size="8.5" fill="#222" text-anchor="middle" font-weight="normal" >V (110)</text>
<text x="601.3" y="263.7" font-size="8.5" fill="#222" text-anchor="middle" font-weight="normal" ><tspan font-style="italic">d</tspan>=0.215 nm</text>
<rect x="557.1" y="266.7" width="12.1" height="13.3" fill="none" stroke="#d84040" stroke-width="1" stroke-dasharray="2.2,1.2"/>
<rect x="528" y="288.5" width="12.2" height="12.1" fill="none" stroke="#d84040" stroke-width="1" stroke-dasharray="2.2,1.2"/>
<line x1="513.6" y1="258.2" x2="533.4" y2="288.5" stroke="#d84040" stroke-width="1.3"/>
<line x1="577.7" y1="244.2" x2="566.8" y2="266.7" stroke="#d84040" stroke-width="1.3"/>
<rect x="628.6" y="328.4" width="32" height="16.5" fill="#fff"/>
<text x="642" y="337.5" font-size="8.5" fill="#222" text-anchor="middle" font-weight="normal" >5 nm</text>
<rect x="632.7" y="340.2" width="23.7" height="1.9" fill="#222"/>
<g clip-path="url(#cSAED)"><rect x="675.2" y="188.6" width="190.2" height="157.5" fill="#060606"/>
<circle cx="752.7" cy="264.9" r="20" fill="#1e1e1e" filter="url(#bl4)"/>
<path d="M758.7,258.9 L816.7,236.89999999999998 L816.7,256.9 Z" fill="#161616" filter="url(#bl4)"/>
<path d="M740.7,264.9 L756.7,253.89999999999998 L781.7,246.89999999999998 L781.7,278.9 L756.7,272.9 Z" fill="#000" filter="url(#bl1)"/>
<path d="M756.7,238.9 A26,26 0 0 0 755.7,238.9" stroke="#e0e0e0" stroke-opacity="0.44" stroke-width="0.9" fill="none"/>
<path d="M751.0,239.5 A26,26 0 0 0 748.3,240.3" stroke="#e0e0e0" stroke-opacity="0.45" stroke-width="0.8" fill="none"/>
<path d="M744.0,242.2 A26,26 0 0 0 740.1,244.9" stroke="#e0e0e0" stroke-opacity="0.43" stroke-width="0.8" fill="none"/>
<path d="M737.8,247.0 A26,26 0 0 0 736.9,248.1" stroke="#e0e0e0" stroke-opacity="0.46" stroke-width="1.1" fill="none"/>
<path d="M733.6,253.0 A26,26 0 0 0 733.1,253.9" stroke="#e0e0e0" stroke-opacity="0.26" stroke-width="0.8" fill="none"/>
<path d="M732.5,255.4 A26,26 0 0 0 731.8,257.5" stroke="#e0e0e0" stroke-opacity="0.21" stroke-width="0.9" fill="none"/>
<path d="M731.0,260.7 A26,26 0 0 0 730.7,264.5" stroke="#e0e0e0" stroke-opacity="0.50" stroke-width="1.0" fill="none"/>
<path d="M730.8,266.8 A26,26 0 0 0 731.4,270.9" stroke="#e0e0e0" stroke-opacity="0.36" stroke-width="1.0" fill="none"/>
<path d="M732.1,273.4 A26,26 0 0 0 733.1,275.7" stroke="#e0e0e0" stroke-opacity="0.50" stroke-width="1.1" fill="none"/>
<path d="M733.7,276.9 A26,26 0 0 0 734.8,278.8" stroke="#e0e0e0" stroke-opacity="0.51" stroke-width="1.0" fill="none"/>
<path d="M735.6,280.1 A26,26 0 0 0 736.3,281.0" stroke="#e0e0e0" stroke-opacity="0.24" stroke-width="1.1" fill="none"/>
<path d="M738.0,283.0 A26,26 0 0 0 739.4,284.3" stroke="#e0e0e0" stroke-opacity="0.47" stroke-width="0.7" fill="none"/>
<path d="M744.2,287.7 A26,26 0 0 0 747.9,289.4" stroke="#e0e0e0" stroke-opacity="0.47" stroke-width="1.1" fill="none"/>
<path d="M751.1,290.3 A26,26 0 0 0 753.2,290.7" stroke="#e0e0e0" stroke-opacity="0.54" stroke-width="0.9" fill="none"/>
<path d="M755.0,290.8 A26,26 0 0 0 756.7,290.9" stroke="#e0e0e0" stroke-opacity="0.47" stroke-width="1.1" fill="none"/>
<path d="M756.7,227.9 A37,37 0 0 0 751.4,228.3" stroke="#e0e0e0" stroke-opacity="0.19" stroke-width="1.0" fill="none"/>
<path d="M746.3,229.4 A37,37 0 0 0 742.5,230.7" stroke="#e0e0e0" stroke-opacity="0.47" stroke-width="0.8" fill="none"/>
<path d="M737.5,233.2 A37,37 0 0 0 732.5,236.9" stroke="#e0e0e0" stroke-opacity="0.40" stroke-width="1.1" fill="none"/>
<path d="M730.9,238.4 A37,37 0 0 0 728.8,240.6" stroke="#e0e0e0" stroke-opacity="0.48" stroke-width="1.0" fill="none"/>
<path d="M725.4,245.2 A37,37 0 0 0 723.1,249.5" stroke="#e0e0e0" stroke-opacity="0.19" stroke-width="0.9" fill="none"/>
<path d="M721.7,252.9 A37,37 0 0 0 720.6,256.7" stroke="#e0e0e0" stroke-opacity="0.27" stroke-width="0.8" fill="none"/>
<path d="M720.0,260.0 A37,37 0 0 0 719.7,265.9" stroke="#e0e0e0" stroke-opacity="0.25" stroke-width="0.8" fill="none"/>
<path d="M720.5,272.5 A37,37 0 0 0 721.7,277.0" stroke="#e0e0e0" stroke-opacity="0.47" stroke-width="0.9" fill="none"/>
<path d="M723.7,281.6 A37,37 0 0 0 725.3,284.5" stroke="#e0e0e0" stroke-opacity="0.22" stroke-width="1.0" fill="none"/>
<path d="M730.4,290.9 A37,37 0 0 0 732.9,293.2" stroke="#e0e0e0" stroke-opacity="0.35" stroke-width="1.1" fill="none"/>
<path d="M739.3,297.6 A37,37 0 0 0 741.4,298.6" stroke="#e0e0e0" stroke-opacity="0.36" stroke-width="0.9" fill="none"/>
<path d="M747.7,300.8 A37,37 0 0 0 753.9,301.8" stroke="#e0e0e0" stroke-opacity="0.21" stroke-width="0.8" fill="none"/>
<path d="M756.7,218.4 A46.5,46.5 0 0 0 752.2,218.6" stroke="#e0e0e0" stroke-opacity="0.18" stroke-width="0.8" fill="none"/>
<path d="M747.9,219.2 A46.5,46.5 0 0 0 744.8,220.0" stroke="#e0e0e0" stroke-opacity="0.29" stroke-width="0.8" fill="none"/>
<path d="M736.6,223.0 A46.5,46.5 0 0 0 732.9,225.0" stroke="#e0e0e0" stroke-opacity="0.26" stroke-width="0.8" fill="none"/>
<path d="M727.5,228.7 A46.5,46.5 0 0 0 725.8,230.2" stroke="#e0e0e0" stroke-opacity="0.45" stroke-width="1.1" fill="none"/>
<path d="M723.9,231.9 A46.5,46.5 0 0 0 722.3,233.6" stroke="#e0e0e0" stroke-opacity="0.44" stroke-width="1.0" fill="none"/>
<path d="M717.0,240.6 A46.5,46.5 0 0 0 715.8,242.8" stroke="#e0e0e0" stroke-opacity="0.29" stroke-width="0.8" fill="none"/>
<path d="M713.0,249.0 A46.5,46.5 0 0 0 711.3,254.8" stroke="#e0e0e0" stroke-opacity="0.42" stroke-width="1.0" fill="none"/>
<path d="M710.8,257.2 A46.5,46.5 0 0 0 710.2,263.9" stroke="#e0e0e0" stroke-opacity="0.35" stroke-width="0.8" fill="none"/>
<path d="M711.2,274.6 A46.5,46.5 0 0 0 712.1,278.1" stroke="#e0e0e0" stroke-opacity="0.17" stroke-width="1.1" fill="none"/>
<path d="M713.3,281.6 A46.5,46.5 0 0 0 717.0,289.2" stroke="#e0e0e0" stroke-opacity="0.21" stroke-width="1.0" fill="none"/>
<path d="M719.9,293.4 A46.5,46.5 0 0 0 725.7,299.6" stroke="#e0e0e0" stroke-opacity="0.21" stroke-width="1.1" fill="none"/>
<path d="M734.4,305.7 A46.5,46.5 0 0 0 742.1,309.0" stroke="#e0e0e0" stroke-opacity="0.25" stroke-width="0.8" fill="none"/>
<path d="M750.9,311.0 A46.5,46.5 0 0 0 756.7,311.4" stroke="#e0e0e0" stroke-opacity="0.27" stroke-width="1.0" fill="none"/>
<path d="M756.7,207.3 A57.6,57.6 0 0 0 751.0,207.6" stroke="#e0e0e0" stroke-opacity="0.20" stroke-width="0.7" fill="none"/>
<path d="M739.1,210.1 A57.6,57.6 0 0 0 731.9,212.9" stroke="#e0e0e0" stroke-opacity="0.35" stroke-width="1.1" fill="none"/>
<path d="M723.3,218.0 A57.6,57.6 0 0 0 714.9,225.2" stroke="#e0e0e0" stroke-opacity="0.26" stroke-width="0.9" fill="none"/>
<path d="M706.9,236.0 A57.6,57.6 0 0 0 705.2,239.1" stroke="#e0e0e0" stroke-opacity="0.29" stroke-width="0.7" fill="none"/>
<path d="M702.7,244.9 A57.6,57.6 0 0 0 700.2,253.5" stroke="#e0e0e0" stroke-opacity="0.25" stroke-width="1.2" fill="none"/>
<path d="M699.5,258.3 A57.6,57.6 0 0 0 699.2,261.2" stroke="#e0e0e0" stroke-opacity="0.25" stroke-width="0.8" fill="none"/>
<path d="M699.1,264.6 A57.6,57.6 0 0 0 699.8,273.9" stroke="#e0e0e0" stroke-opacity="0.35" stroke-width="1.1" fill="none"/>
<path d="M700.4,276.9 A57.6,57.6 0 0 0 703.2,286.4" stroke="#e0e0e0" stroke-opacity="0.21" stroke-width="1.0" fill="none"/>
<path d="M706.6,293.3 A57.6,57.6 0 0 0 710.5,299.3" stroke="#e0e0e0" stroke-opacity="0.23" stroke-width="0.9" fill="none"/>
<path d="M715.5,305.2 A57.6,57.6 0 0 0 722.0,310.9" stroke="#e0e0e0" stroke-opacity="0.37" stroke-width="0.8" fill="none"/>
<path d="M732.4,317.1 A57.6,57.6 0 0 0 737.0,319.0" stroke="#e0e0e0" stroke-opacity="0.28" stroke-width="0.9" fill="none"/>
<path d="M744.6,321.2 A57.6,57.6 0 0 0 748.6,321.9" stroke="#e0e0e0" stroke-opacity="0.22" stroke-width="0.9" fill="none"/>
<path d="M752.5,322.3 A57.6,57.6 0 0 0 756.7,322.5" stroke="#e0e0e0" stroke-opacity="0.36" stroke-width="1.2" fill="none"/>
<path d="M756.7,196.9 A68,68 0 0 0 743.0,198.3" stroke="#e0e0e0" stroke-opacity="0.27" stroke-width="0.7" fill="none"/>
<path d="M731.8,201.6 A68,68 0 0 0 722.5,206.1" stroke="#e0e0e0" stroke-opacity="0.17" stroke-width="1.0" fill="none"/>
<path d="M713.1,212.7 A68,68 0 0 0 703.5,222.5" stroke="#e0e0e0" stroke-opacity="0.24" stroke-width="0.8" fill="none"/>
<path d="M698.0,230.6 A68,68 0 0 0 695.0,236.3" stroke="#e0e0e0" stroke-opacity="0.12" stroke-width="0.8" fill="none"/>
<path d="M690.2,250.6 A68,68 0 0 0 688.8,261.0" stroke="#e0e0e0" stroke-opacity="0.13" stroke-width="1.0" fill="none"/>
<path d="M688.9,270.3 A68,68 0 0 0 689.8,277.1" stroke="#e0e0e0" stroke-opacity="0.19" stroke-width="1.0" fill="none"/>
<path d="M692.7,287.8 A68,68 0 0 0 696.3,296.1" stroke="#e0e0e0" stroke-opacity="0.13" stroke-width="0.8" fill="none"/>
<path d="M700.8,303.6 A68,68 0 0 0 709.1,313.5" stroke="#e0e0e0" stroke-opacity="0.13" stroke-width="1.1" fill="none"/>
<path d="M717.3,320.4 A68,68 0 0 0 721.9,323.3" stroke="#e0e0e0" stroke-opacity="0.22" stroke-width="0.8" fill="none"/>
<path d="M726.1,325.6 A68,68 0 0 0 733.6,328.8" stroke="#e0e0e0" stroke-opacity="0.15" stroke-width="1.0" fill="none"/>
<path d="M744.0,331.7 A68,68 0 0 0 747.6,332.3" stroke="#e0e0e0" stroke-opacity="0.23" stroke-width="0.7" fill="none"/>
<path d="M756.7,185.9 A79,79 0 0 0 748.3,186.3" stroke="#e0e0e0" stroke-opacity="0.13" stroke-width="1.1" fill="none"/>
<path d="M743.1,187.1 A79,79 0 0 0 733.1,189.5" stroke="#e0e0e0" stroke-opacity="0.18" stroke-width="0.8" fill="none"/>
<path d="M719.3,195.3 A79,79 0 0 0 705.7,204.5" stroke="#e0e0e0" stroke-opacity="0.09" stroke-width="1.1" fill="none"/>
<path d="M695.2,215.3 A79,79 0 0 0 690.4,221.9" stroke="#e0e0e0" stroke-opacity="0.20" stroke-width="1.0" fill="none"/>
<path d="M687.0,227.7 A79,79 0 0 0 681.7,240.0" stroke="#e0e0e0" stroke-opacity="0.18" stroke-width="0.7" fill="none"/>
<path d="M680.0,246.0 A79,79 0 0 0 678.8,251.9" stroke="#e0e0e0" stroke-opacity="0.08" stroke-width="1.0" fill="none"/>
<path d="M677.8,261.6 A79,79 0 0 0 677.7,267.3" stroke="#e0e0e0" stroke-opacity="0.17" stroke-width="0.9" fill="none"/>
<path d="M678.5,276.0 A79,79 0 0 0 682.0,290.5" stroke="#e0e0e0" stroke-opacity="0.19" stroke-width="1.0" fill="none"/>
<path d="M687.5,302.9 A79,79 0 0 0 696.1,315.6" stroke="#e0e0e0" stroke-opacity="0.10" stroke-width="1.1" fill="none"/>
<path d="M708.6,327.6 A79,79 0 0 0 714.8,331.9" stroke="#e0e0e0" stroke-opacity="0.17" stroke-width="1.1" fill="none"/>
<path d="M728.8,338.8 A79,79 0 0 0 733.0,340.3" stroke="#e0e0e0" stroke-opacity="0.17" stroke-width="1.2" fill="none"/>
<path d="M742.5,342.6 A79,79 0 0 0 755.2,343.9" stroke="#e0e0e0" stroke-opacity="0.16" stroke-width="0.7" fill="none"/>
<path d="M737,247 Q742,241 750,240.5" stroke="#f4f4f4" stroke-width="1.6" fill="none" filter="url(#bl05)"/>
<path d="M763,289 Q770,289 776,284" stroke="#f4f4f4" stroke-width="1.6" fill="none" filter="url(#bl05)"/>
<path d="M756.7,196.89999999999998 A68,68 0 0 1 756.7,332.9" stroke="#d8d8d8" stroke-width="0.8" fill="none"/>
<path d="M756.7,207.29999999999998 A57.6,57.6 0 0 1 756.7,322.5" stroke="#d8d8d8" stroke-width="0.8" fill="none"/>
<path d="M756.7,218.39999999999998 A46.5,46.5 0 0 1 756.7,311.4" stroke="#d8d8d8" stroke-width="0.8" fill="none"/>
<path d="M756.7,227.89999999999998 A37,37 0 0 1 756.7,301.9" stroke="#d8d8d8" stroke-width="0.8" fill="none"/>
<path d="M756.7,238.89999999999998 A26,26 0 0 1 756.7,290.9" stroke="#d8d8d8" stroke-width="0.8" fill="none"/>
<line x1="756.7" y1="196.7" x2="756.7" y2="333.2" stroke="#e6e6e6" stroke-width="0.9"/>
<line x1="820.8" y1="233.9" x2="839" y2="233.9" stroke="#e6e6e6" stroke-width="0.9"/>
<path d="M817.8,233.9 L822.3,232.1 L822.3,235.70000000000002 Z" fill="#e6e6e6"/>
<text x="839.3" y="236.9" font-size="8.2" fill="#d0d0d0" text-anchor="start" font-weight="normal" textLength="27" lengthAdjust="spacingAndGlyphs">V (310)</text>
<line x1="812.4" y1="242.3" x2="839" y2="242.3" stroke="#e6e6e6" stroke-width="0.9"/>
<path d="M809.4,242.3 L813.9,240.5 L813.9,244.10000000000002 Z" fill="#e6e6e6"/>
<text x="839.3" y="245.3" font-size="8.2" fill="#d0d0d0" text-anchor="start" font-weight="normal" textLength="27" lengthAdjust="spacingAndGlyphs">V (220)</text>
<line x1="801" y1="250.6" x2="839" y2="250.6" stroke="#e6e6e6" stroke-width="0.9"/>
<path d="M798,250.6 L802.5,248.79999999999998 L802.5,252.4 Z" fill="#e6e6e6"/>
<text x="839.3" y="253.6" font-size="8.2" fill="#d0d0d0" text-anchor="start" font-weight="normal" textLength="27" lengthAdjust="spacingAndGlyphs">V (211)</text>
<line x1="795" y1="258.2" x2="839" y2="258.2" stroke="#e6e6e6" stroke-width="0.9"/>
<path d="M792,258.2 L796.5,256.4 L796.5,260.0 Z" fill="#e6e6e6"/>
<text x="839.3" y="261.2" font-size="8.2" fill="#d0d0d0" text-anchor="start" font-weight="normal" textLength="27" lengthAdjust="spacingAndGlyphs">V (200)</text>
<line x1="785.6" y1="266.5" x2="839" y2="266.5" stroke="#e6e6e6" stroke-width="0.9"/>
<path d="M782.6,266.5 L787.1,264.7 L787.1,268.3 Z" fill="#e6e6e6"/>
<text x="839.3" y="269.5" font-size="8.2" fill="#d0d0d0" text-anchor="start" font-weight="normal" textLength="27" lengthAdjust="spacingAndGlyphs">V (110)</text>
<text x="838" y="334" font-size="7.5" fill="#e8e8e8" text-anchor="middle" font-weight="normal" >5 1/nm</text>
<rect x="823.7" y="338.2" width="27.8" height="1.8" fill="#eee"/></g>
<clipPath id="cL"><rect x="59" y="361" width="358" height="232"/></clipPath>
<g clip-path="url(#cL)">
<rect x="58.2" y="375.9" width="5.2" height="5.2" fill="#1010e0"/>
<rect x="60.9" y="376.2" width="5.2" height="5.2" fill="#1010e0"/>
<rect x="63.6" y="375.8" width="5.2" height="5.2" fill="#1010e0"/>
<rect x="66.4" y="376.5" width="5.2" height="5.2" fill="#1010e0"/>
<rect x="69.1" y="376.4" width="5.2" height="5.2" fill="#1010e0"/>
<rect x="71.8" y="376.1" width="5.2" height="5.2" fill="#1010e0"/>
<rect x="74.5" y="376.2" width="5.2" height="5.2" fill="#1010e0"/>
<rect x="77.2" y="376.4" width="5.2" height="5.2" fill="#1010e0"/>
<rect x="79.9" y="376.8" width="5.2" height="5.2" fill="#1010e0"/>
<rect x="82.7" y="376.7" width="5.2" height="5.2" fill="#1010e0"/>
<rect x="85.4" y="376.4" width="5.2" height="5.2" fill="#1010e0"/>
<rect x="88.1" y="376.4" width="5.2" height="5.2" fill="#1010e0"/>
<rect x="90.8" y="376.6" width="5.2" height="5.2" fill="#1010e0"/>
<rect x="93.5" y="377.2" width="5.2" height="5.2" fill="#1010e0"/>
<rect x="96.2" y="376.8" width="5.2" height="5.2" fill="#1010e0"/>
<rect x="99.0" y="377.2" width="5.2" height="5.2" fill="#1010e0"/>
<rect x="101.7" y="377.1" width="5.2" height="5.2" fill="#1010e0"/>
<rect x="104.4" y="377.5" width="5.2" height="5.2" fill="#1010e0"/>
<rect x="107.1" y="377.3" width="5.2" height="5.2" fill="#1010e0"/>
<rect x="109.8" y="377.2" width="5.2" height="5.2" fill="#1010e0"/>
<rect x="112.5" y="377.9" width="5.2" height="5.2" fill="#1010e0"/>
<rect x="115.3" y="377.7" width="5.2" height="5.2" fill="#1010e0"/>
<rect x="118.0" y="377.9" width="5.2" height="5.2" fill="#1010e0"/>
<rect x="120.7" y="378.1" width="5.2" height="5.2" fill="#1010e0"/>
<rect x="123.4" y="378.3" width="5.2" height="5.2" fill="#1010e0"/>
<rect x="126.1" y="377.6" width="5.2" height="5.2" fill="#1010e0"/>
<rect x="128.8" y="378.0" width="5.2" height="5.2" fill="#1010e0"/>
<rect x="131.6" y="377.9" width="5.2" height="5.2" fill="#1010e0"/>
<rect x="134.3" y="378.3" width="5.2" height="5.2" fill="#1010e0"/>
<rect x="137.0" y="378.6" width="5.2" height="5.2" fill="#1010e0"/>
<rect x="139.7" y="378.7" width="5.2" height="5.2" fill="#1010e0"/>
<rect x="142.4" y="378.2" width="5.2" height="5.2" fill="#1010e0"/>
<rect x="145.1" y="378.4" width="5.2" height="5.2" fill="#1010e0"/>
<rect x="147.9" y="379.0" width="5.2" height="5.2" fill="#1010e0"/>
<rect x="150.6" y="379.0" width="5.2" height="5.2" fill="#1010e0"/>
<rect x="153.3" y="378.9" width="5.2" height="5.2" fill="#1010e0"/>
<rect x="156.0" y="379.0" width="5.2" height="5.2" fill="#1010e0"/>
<rect x="158.7" y="378.9" width="5.2" height="5.2" fill="#1010e0"/>
<rect x="161.4" y="379.5" width="5.2" height="5.2" fill="#1010e0"/>
<rect x="164.1" y="379.3" width="5.2" height="5.2" fill="#1010e0"/>
<rect x="166.9" y="379.8" width="5.2" height="5.2" fill="#1010e0"/>
<rect x="169.6" y="379.7" width="5.2" height="5.2" fill="#1010e0"/>
<rect x="172.3" y="379.4" width="5.2" height="5.2" fill="#1010e0"/>
<rect x="175.0" y="379.7" width="5.2" height="5.2" fill="#1010e0"/>
<rect x="177.7" y="379.7" width="5.2" height="5.2" fill="#1010e0"/>
<rect x="180.4" y="380.3" width="5.2" height="5.2" fill="#1010e0"/>
<rect x="183.2" y="380.2" width="5.2" height="5.2" fill="#1010e0"/>
<rect x="185.9" y="379.9" width="5.2" height="5.2" fill="#1010e0"/>
<rect x="188.6" y="380.1" width="5.2" height="5.2" fill="#1010e0"/>
<rect x="191.3" y="380.3" width="5.2" height="5.2" fill="#1010e0"/>
<rect x="194.0" y="380.5" width="5.2" height="5.2" fill="#1010e0"/>
<rect x="196.7" y="380.7" width="5.2" height="5.2" fill="#1010e0"/>
<rect x="199.5" y="380.7" width="5.2" height="5.2" fill="#1010e0"/>
<rect x="202.2" y="380.7" width="5.2" height="5.2" fill="#1010e0"/>
<rect x="204.9" y="380.6" width="5.2" height="5.2" fill="#1010e0"/>
<rect x="207.6" y="381.4" width="5.2" height="5.2" fill="#1010e0"/>
<rect x="210.3" y="382.0" width="5.2" height="5.2" fill="#1010e0"/>
<rect x="213.0" y="382.6" width="5.2" height="5.2" fill="#1010e0"/>
<rect x="215.8" y="383.7" width="5.2" height="5.2" fill="#1010e0"/>
<rect x="218.5" y="384.9" width="5.2" height="5.2" fill="#1010e0"/>
<rect x="221.2" y="384.9" width="5.2" height="5.2" fill="#1010e0"/>
<rect x="223.9" y="385.8" width="5.2" height="5.2" fill="#1010e0"/>
<rect x="226.6" y="387.0" width="5.2" height="5.2" fill="#1010e0"/>
<rect x="229.3" y="388.0" width="5.2" height="5.2" fill="#1010e0"/>
<rect x="232.1" y="390.6" width="5.2" height="5.2" fill="#1010e0"/>
<rect x="234.8" y="393.4" width="5.2" height="5.2" fill="#1010e0"/>
<rect x="237.5" y="395.8" width="5.2" height="5.2" fill="#1010e0"/>
<rect x="240.2" y="398.7" width="5.2" height="5.2" fill="#1010e0"/>
<rect x="242.9" y="401.3" width="5.2" height="5.2" fill="#1010e0"/>
<rect x="245.6" y="405.1" width="5.2" height="5.2" fill="#1010e0"/>
<rect x="248.4" y="409.5" width="5.2" height="5.2" fill="#1010e0"/>
<rect x="251.1" y="413.2" width="5.2" height="5.2" fill="#1010e0"/>
<rect x="253.8" y="418.3" width="5.2" height="5.2" fill="#1010e0"/>
<rect x="256.5" y="425.7" width="5.2" height="5.2" fill="#1010e0"/>
<rect x="259.2" y="433.2" width="5.2" height="5.2" fill="#1010e0"/>
<rect x="261.9" y="442.8" width="5.2" height="5.2" fill="#1010e0"/>
<rect x="264.7" y="451.8" width="5.2" height="5.2" fill="#1010e0"/>
<rect x="267.4" y="460.0" width="5.2" height="5.2" fill="#1010e0"/>
<rect x="270.1" y="467.9" width="5.2" height="5.2" fill="#1010e0"/>
<rect x="272.8" y="475.3" width="5.2" height="5.2" fill="#1010e0"/>
<rect x="275.5" y="484.6" width="5.2" height="5.2" fill="#1010e0"/>
<rect x="278.2" y="494.6" width="5.2" height="5.2" fill="#1010e0"/>
<rect x="281.0" y="504.7" width="5.2" height="5.2" fill="#1010e0"/>
<rect x="283.7" y="513.3" width="5.2" height="5.2" fill="#1010e0"/>
<rect x="286.4" y="519.5" width="5.2" height="5.2" fill="#1010e0"/>
<rect x="289.1" y="526.2" width="5.2" height="5.2" fill="#1010e0"/>
<rect x="291.8" y="532.4" width="5.2" height="5.2" fill="#1010e0"/>
<rect x="294.5" y="536.8" width="5.2" height="5.2" fill="#1010e0"/>
<rect x="297.3" y="540.3" width="5.2" height="5.2" fill="#1010e0"/>
<rect x="300.0" y="543.4" width="5.2" height="5.2" fill="#1010e0"/>
<rect x="302.7" y="545.9" width="5.2" height="5.2" fill="#1010e0"/>
<rect x="305.4" y="547.4" width="5.2" height="5.2" fill="#1010e0"/>
<rect x="308.1" y="548.7" width="5.2" height="5.2" fill="#1010e0"/>
<rect x="310.8" y="550.5" width="5.2" height="5.2" fill="#1010e0"/>
<rect x="313.6" y="552.1" width="5.2" height="5.2" fill="#1010e0"/>
<rect x="316.3" y="554.3" width="5.2" height="5.2" fill="#1010e0"/>
<rect x="319.0" y="555.0" width="5.2" height="5.2" fill="#1010e0"/>
<rect x="321.7" y="555.1" width="5.2" height="5.2" fill="#1010e0"/>
<rect x="324.4" y="555.2" width="5.2" height="5.2" fill="#1010e0"/>
<rect x="327.1" y="555.3" width="5.2" height="5.2" fill="#1010e0"/>
<rect x="329.9" y="555.5" width="5.2" height="5.2" fill="#1010e0"/>
<rect x="332.6" y="555.5" width="5.2" height="5.2" fill="#1010e0"/>
<rect x="335.3" y="555.5" width="5.2" height="5.2" fill="#1010e0"/>
<rect x="338.0" y="556.3" width="5.2" height="5.2" fill="#1010e0"/>
<rect x="340.7" y="556.1" width="5.2" height="5.2" fill="#1010e0"/>
<rect x="343.4" y="556.2" width="5.2" height="5.2" fill="#1010e0"/>
<rect x="346.2" y="556.4" width="5.2" height="5.2" fill="#1010e0"/>
<rect x="348.9" y="556.2" width="5.2" height="5.2" fill="#1010e0"/>
<rect x="351.6" y="556.2" width="5.2" height="5.2" fill="#1010e0"/>
<rect x="354.3" y="556.1" width="5.2" height="5.2" fill="#1010e0"/>
<rect x="357.0" y="556.3" width="5.2" height="5.2" fill="#1010e0"/>
<rect x="359.7" y="556.3" width="5.2" height="5.2" fill="#1010e0"/>
<rect x="362.5" y="556.7" width="5.2" height="5.2" fill="#1010e0"/>
<rect x="365.2" y="556.6" width="5.2" height="5.2" fill="#1010e0"/>
<rect x="367.9" y="556.9" width="5.2" height="5.2" fill="#1010e0"/>
<rect x="370.6" y="556.4" width="5.2" height="5.2" fill="#1010e0"/>
<rect x="373.3" y="556.9" width="5.2" height="5.2" fill="#1010e0"/>
<rect x="376.0" y="556.7" width="5.2" height="5.2" fill="#1010e0"/>
<rect x="378.8" y="556.3" width="5.2" height="5.2" fill="#1010e0"/>
<rect x="381.5" y="556.4" width="5.2" height="5.2" fill="#1010e0"/>
<rect x="384.2" y="556.7" width="5.2" height="5.2" fill="#1010e0"/>
<rect x="386.9" y="557.1" width="5.2" height="5.2" fill="#1010e0"/>
<rect x="389.6" y="556.6" width="5.2" height="5.2" fill="#1010e0"/>
<rect x="392.3" y="557.0" width="5.2" height="5.2" fill="#1010e0"/>
<rect x="395.1" y="556.7" width="5.2" height="5.2" fill="#1010e0"/>
<rect x="397.8" y="557.1" width="5.2" height="5.2" fill="#1010e0"/>
<rect x="400.5" y="556.5" width="5.2" height="5.2" fill="#1010e0"/>
<rect x="403.2" y="556.8" width="5.2" height="5.2" fill="#1010e0"/>
<rect x="405.9" y="557.2" width="5.2" height="5.2" fill="#1010e0"/>
<rect x="408.6" y="556.7" width="5.2" height="5.2" fill="#1010e0"/>
<rect x="411.4" y="556.7" width="5.2" height="5.2" fill="#1010e0"/>
<circle cx="61.7" cy="378.1" r="2.8" fill="#ee22ee"/>
<circle cx="64.4" cy="378.3" r="2.8" fill="#ee22ee"/>
<circle cx="67.1" cy="378.5" r="2.8" fill="#ee22ee"/>
<circle cx="69.9" cy="378.9" r="2.8" fill="#ee22ee"/>
<circle cx="72.6" cy="378.6" r="2.8" fill="#ee22ee"/>
<circle cx="75.3" cy="378.9" r="2.8" fill="#ee22ee"/>
<circle cx="78.0" cy="378.8" r="2.8" fill="#ee22ee"/>
<circle cx="80.7" cy="379.2" r="2.8" fill="#ee22ee"/>
<circle cx="83.4" cy="379.5" r="2.8" fill="#ee22ee"/>
<circle cx="86.2" cy="379.4" r="2.8" fill="#ee22ee"/>
<circle cx="88.9" cy="379.1" r="2.8" fill="#ee22ee"/>
<circle cx="91.6" cy="379.6" r="2.8" fill="#ee22ee"/>
<circle cx="94.3" cy="379.9" r="2.8" fill="#ee22ee"/>
<circle cx="97.0" cy="379.7" r="2.8" fill="#ee22ee"/>
<circle cx="99.7" cy="379.4" r="2.8" fill="#ee22ee"/>
<circle cx="102.5" cy="380.0" r="2.8" fill="#ee22ee"/>
<circle cx="105.2" cy="380.2" r="2.8" fill="#ee22ee"/>
<circle cx="107.9" cy="379.8" r="2.8" fill="#ee22ee"/>
<circle cx="110.6" cy="379.8" r="2.8" fill="#ee22ee"/>
<circle cx="113.3" cy="379.9" r="2.8" fill="#ee22ee"/>
<circle cx="116.0" cy="380.2" r="2.8" fill="#ee22ee"/>
<circle cx="118.8" cy="380.6" r="2.8" fill="#ee22ee"/>
<circle cx="121.5" cy="380.5" r="2.8" fill="#ee22ee"/>
<circle cx="124.2" cy="380.8" r="2.8" fill="#ee22ee"/>
<circle cx="126.9" cy="380.3" r="2.8" fill="#ee22ee"/>
<circle cx="129.6" cy="380.5" r="2.8" fill="#ee22ee"/>
<circle cx="132.3" cy="380.9" r="2.8" fill="#ee22ee"/>
<circle cx="135.1" cy="380.9" r="2.8" fill="#ee22ee"/>
<circle cx="137.8" cy="380.8" r="2.8" fill="#ee22ee"/>
<circle cx="140.5" cy="381.1" r="2.8" fill="#ee22ee"/>
<circle cx="143.2" cy="380.9" r="2.8" fill="#ee22ee"/>
<circle cx="145.9" cy="380.9" r="2.8" fill="#ee22ee"/>
<circle cx="148.6" cy="381.3" r="2.8" fill="#ee22ee"/>
<circle cx="151.4" cy="381.2" r="2.8" fill="#ee22ee"/>
<circle cx="154.1" cy="381.8" r="2.8" fill="#ee22ee"/>
<circle cx="156.8" cy="381.7" r="2.8" fill="#ee22ee"/>
<circle cx="159.5" cy="382.0" r="2.8" fill="#ee22ee"/>
<circle cx="162.2" cy="382.3" r="2.8" fill="#ee22ee"/>
<circle cx="164.9" cy="382.1" r="2.8" fill="#ee22ee"/>
<circle cx="167.7" cy="382.5" r="2.8" fill="#ee22ee"/>
<circle cx="170.4" cy="382.3" r="2.8" fill="#ee22ee"/>
<circle cx="173.1" cy="383.1" r="2.8" fill="#ee22ee"/>
<circle cx="175.8" cy="383.0" r="2.8" fill="#ee22ee"/>
<circle cx="178.5" cy="383.5" r="2.8" fill="#ee22ee"/>
<circle cx="181.2" cy="382.9" r="2.8" fill="#ee22ee"/>
<circle cx="184.0" cy="383.5" r="2.8" fill="#ee22ee"/>
<circle cx="186.7" cy="383.8" r="2.8" fill="#ee22ee"/>
<circle cx="189.4" cy="383.6" r="2.8" fill="#ee22ee"/>
<circle cx="192.1" cy="383.6" r="2.8" fill="#ee22ee"/>
<circle cx="194.8" cy="383.8" r="2.8" fill="#ee22ee"/>
<circle cx="197.5" cy="383.9" r="2.8" fill="#ee22ee"/>
<circle cx="200.3" cy="384.6" r="2.8" fill="#ee22ee"/>
<circle cx="203.0" cy="384.2" r="2.8" fill="#ee22ee"/>
<circle cx="205.7" cy="385.0" r="2.8" fill="#ee22ee"/>
<circle cx="208.4" cy="384.9" r="2.8" fill="#ee22ee"/>
<circle cx="211.1" cy="385.9" r="2.8" fill="#ee22ee"/>
<circle cx="213.8" cy="387.3" r="2.8" fill="#ee22ee"/>
<circle cx="216.6" cy="388.5" r="2.8" fill="#ee22ee"/>
<circle cx="219.3" cy="389.9" r="2.8" fill="#ee22ee"/>
<circle cx="222.0" cy="391.1" r="2.8" fill="#ee22ee"/>
<circle cx="224.7" cy="392.2" r="2.8" fill="#ee22ee"/>
<circle cx="227.4" cy="393.8" r="2.8" fill="#ee22ee"/>
<circle cx="230.1" cy="394.7" r="2.8" fill="#ee22ee"/>
<circle cx="232.9" cy="396.4" r="2.8" fill="#ee22ee"/>
<circle cx="235.6" cy="398.0" r="2.8" fill="#ee22ee"/>
<circle cx="238.3" cy="402.5" r="2.8" fill="#ee22ee"/>
<circle cx="241.0" cy="407.4" r="2.8" fill="#ee22ee"/>
<circle cx="243.7" cy="413.2" r="2.8" fill="#ee22ee"/>
<circle cx="246.4" cy="418.7" r="2.8" fill="#ee22ee"/>
<circle cx="249.2" cy="423.6" r="2.8" fill="#ee22ee"/>
<circle cx="251.9" cy="429.4" r="2.8" fill="#ee22ee"/>
<circle cx="254.6" cy="439.4" r="2.8" fill="#ee22ee"/>
<circle cx="257.3" cy="447.5" r="2.8" fill="#ee22ee"/>
<circle cx="260.0" cy="457.2" r="2.8" fill="#ee22ee"/>
<circle cx="262.7" cy="465.5" r="2.8" fill="#ee22ee"/>
<circle cx="265.5" cy="474.4" r="2.8" fill="#ee22ee"/>
<circle cx="268.2" cy="483.2" r="2.8" fill="#ee22ee"/>
<circle cx="270.9" cy="491.9" r="2.8" fill="#ee22ee"/>
<circle cx="273.6" cy="500.0" r="2.8" fill="#ee22ee"/>
<circle cx="276.3" cy="508.9" r="2.8" fill="#ee22ee"/>
<circle cx="279.0" cy="516.2" r="2.8" fill="#ee22ee"/>
<circle cx="281.8" cy="521.6" r="2.8" fill="#ee22ee"/>
<circle cx="284.5" cy="525.6" r="2.8" fill="#ee22ee"/>
<circle cx="287.2" cy="530.0" r="2.8" fill="#ee22ee"/>
<circle cx="289.9" cy="534.6" r="2.8" fill="#ee22ee"/>
<circle cx="292.6" cy="537.7" r="2.8" fill="#ee22ee"/>
<circle cx="295.3" cy="539.7" r="2.8" fill="#ee22ee"/>
<circle cx="298.1" cy="541.5" r="2.8" fill="#ee22ee"/>
<circle cx="300.8" cy="542.9" r="2.8" fill="#ee22ee"/>
<circle cx="303.5" cy="545.1" r="2.8" fill="#ee22ee"/>
<circle cx="306.2" cy="546.4" r="2.8" fill="#ee22ee"/>
<circle cx="308.9" cy="547.3" r="2.8" fill="#ee22ee"/>
<circle cx="311.6" cy="547.8" r="2.8" fill="#ee22ee"/>
<circle cx="314.3" cy="548.7" r="2.8" fill="#ee22ee"/>
<circle cx="317.1" cy="549.2" r="2.8" fill="#ee22ee"/>
<circle cx="319.8" cy="549.1" r="2.8" fill="#ee22ee"/>
<circle cx="322.5" cy="549.4" r="2.8" fill="#ee22ee"/>
<circle cx="325.2" cy="550.4" r="2.8" fill="#ee22ee"/>
<circle cx="327.9" cy="550.4" r="2.8" fill="#ee22ee"/>
<circle cx="330.6" cy="551.4" r="2.8" fill="#ee22ee"/>
<circle cx="333.4" cy="551.3" r="2.8" fill="#ee22ee"/>
<circle cx="336.1" cy="551.5" r="2.8" fill="#ee22ee"/>
<circle cx="338.8" cy="551.3" r="2.8" fill="#ee22ee"/>
<circle cx="341.5" cy="551.7" r="2.8" fill="#ee22ee"/>
<circle cx="344.2" cy="551.5" r="2.8" fill="#ee22ee"/>
<circle cx="346.9" cy="551.4" r="2.8" fill="#ee22ee"/>
<circle cx="349.7" cy="551.9" r="2.8" fill="#ee22ee"/>
<circle cx="352.4" cy="551.3" r="2.8" fill="#ee22ee"/>
<circle cx="355.1" cy="551.8" r="2.8" fill="#ee22ee"/>
<circle cx="357.8" cy="551.3" r="2.8" fill="#ee22ee"/>
<circle cx="360.5" cy="551.9" r="2.8" fill="#ee22ee"/>
<circle cx="363.2" cy="551.7" r="2.8" fill="#ee22ee"/>
<circle cx="366.0" cy="552.1" r="2.8" fill="#ee22ee"/>
<circle cx="368.7" cy="551.5" r="2.8" fill="#ee22ee"/>
<circle cx="371.4" cy="552.0" r="2.8" fill="#ee22ee"/>
<circle cx="374.1" cy="551.9" r="2.8" fill="#ee22ee"/>
<circle cx="376.8" cy="552.3" r="2.8" fill="#ee22ee"/>
<circle cx="379.5" cy="552.4" r="2.8" fill="#ee22ee"/>
<circle cx="382.3" cy="552.2" r="2.8" fill="#ee22ee"/>
<circle cx="385.0" cy="551.9" r="2.8" fill="#ee22ee"/>
<circle cx="387.7" cy="552.0" r="2.8" fill="#ee22ee"/>
<circle cx="390.4" cy="552.0" r="2.8" fill="#ee22ee"/>
<circle cx="393.1" cy="552.2" r="2.8" fill="#ee22ee"/>
<circle cx="395.8" cy="552.1" r="2.8" fill="#ee22ee"/>
<circle cx="398.6" cy="552.1" r="2.8" fill="#ee22ee"/>
<circle cx="401.3" cy="552.6" r="2.8" fill="#ee22ee"/>
<circle cx="404.0" cy="552.5" r="2.8" fill="#ee22ee"/>
<circle cx="406.7" cy="552.3" r="2.8" fill="#ee22ee"/>
<circle cx="409.4" cy="552.9" r="2.8" fill="#ee22ee"/>
<circle cx="412.1" cy="552.3" r="2.8" fill="#ee22ee"/>
<circle cx="414.9" cy="552.6" r="2.8" fill="#ee22ee"/>
<path d="M62.6,375.2 L65.8,380.9 L59.4,380.9 Z" fill="#22dd22"/>
<path d="M65.3,375.8 L68.5,381.5 L62.1,381.5 Z" fill="#22dd22"/>
<path d="M68.0,375.9 L71.2,381.6 L64.8,381.6 Z" fill="#22dd22"/>
<path d="M70.8,375.5 L74.0,381.2 L67.6,381.2 Z" fill="#22dd22"/>
<path d="M73.5,376.0 L76.7,381.7 L70.3,381.7 Z" fill="#22dd22"/>
<path d="M76.2,376.1 L79.4,381.8 L73.0,381.8 Z" fill="#22dd22"/>
<path d="M78.9,375.8 L82.1,381.5 L75.7,381.5 Z" fill="#22dd22"/>
<path d="M81.6,375.9 L84.8,381.6 L78.4,381.6 Z" fill="#22dd22"/>
<path d="M84.3,376.1 L87.5,381.8 L81.1,381.8 Z" fill="#22dd22"/>
<path d="M87.1,376.5 L90.3,382.2 L83.9,382.2 Z" fill="#22dd22"/>
<path d="M89.8,376.0 L93.0,381.7 L86.6,381.7 Z" fill="#22dd22"/>
<path d="M92.5,376.5 L95.7,382.2 L89.3,382.2 Z" fill="#22dd22"/>
<path d="M95.2,376.5 L98.4,382.2 L92.0,382.2 Z" fill="#22dd22"/>
<path d="M97.9,376.5 L101.1,382.2 L94.7,382.2 Z" fill="#22dd22"/>
<path d="M100.6,376.7 L103.8,382.4 L97.4,382.4 Z" fill="#22dd22"/>
<path d="M103.4,377.0 L106.6,382.7 L100.2,382.7 Z" fill="#22dd22"/>
<path d="M106.1,376.6 L109.3,382.3 L102.9,382.3 Z" fill="#22dd22"/>
<path d="M108.8,377.2 L112.0,382.9 L105.6,382.9 Z" fill="#22dd22"/>
<path d="M111.5,376.9 L114.7,382.6 L108.3,382.6 Z" fill="#22dd22"/>
<path d="M114.2,377.3 L117.4,383.0 L111.0,383.0 Z" fill="#22dd22"/>
<path d="M116.9,377.4 L120.1,383.1 L113.7,383.1 Z" fill="#22dd22"/>
<path d="M119.7,377.0 L122.9,382.7 L116.5,382.7 Z" fill="#22dd22"/>
<path d="M122.4,377.6 L125.6,383.3 L119.2,383.3 Z" fill="#22dd22"/>
<path d="M125.1,377.8 L128.3,383.5 L121.9,383.5 Z" fill="#22dd22"/>
<path d="M127.8,377.3 L131.0,383.0 L124.6,383.0 Z" fill="#22dd22"/>
<path d="M130.5,377.2 L133.7,382.9 L127.3,382.9 Z" fill="#22dd22"/>
<path d="M133.2,377.3 L136.4,383.0 L130.0,383.0 Z" fill="#22dd22"/>
<path d="M136.0,378.1 L139.2,383.8 L132.8,383.8 Z" fill="#22dd22"/>
<path d="M138.7,377.4 L141.9,383.1 L135.5,383.1 Z" fill="#22dd22"/>
<path d="M141.4,378.2 L144.6,383.9 L138.2,383.9 Z" fill="#22dd22"/>
<path d="M144.1,377.7 L147.3,383.4 L140.9,383.4 Z" fill="#22dd22"/>
<path d="M146.8,378.4 L150.0,384.1 L143.6,384.1 Z" fill="#22dd22"/>
<path d="M149.5,378.0 L152.7,383.7 L146.3,383.7 Z" fill="#22dd22"/>
<path d="M152.3,378.3 L155.5,384.0 L149.1,384.0 Z" fill="#22dd22"/>
<path d="M155.0,378.8 L158.2,384.5 L151.8,384.5 Z" fill="#22dd22"/>
<path d="M157.7,378.5 L160.9,384.2 L154.5,384.2 Z" fill="#22dd22"/>
<path d="M160.4,378.9 L163.6,384.6 L157.2,384.6 Z" fill="#22dd22"/>
<path d="M163.1,379.5 L166.3,385.2 L159.9,385.2 Z" fill="#22dd22"/>
<path d="M165.8,379.5 L169.0,385.2 L162.6,385.2 Z" fill="#22dd22"/>
<path d="M168.6,379.8 L171.8,385.5 L165.4,385.5 Z" fill="#22dd22"/>
<path d="M171.3,380.1 L174.5,385.8 L168.1,385.8 Z" fill="#22dd22"/>
<path d="M174.0,379.5 L177.2,385.2 L170.8,385.2 Z" fill="#22dd22"/>
<path d="M176.7,379.8 L179.9,385.5 L173.5,385.5 Z" fill="#22dd22"/>
<path d="M179.4,380.5 L182.6,386.2 L176.2,386.2 Z" fill="#22dd22"/>
<path d="M182.1,380.5 L185.3,386.2 L178.9,386.2 Z" fill="#22dd22"/>
<path d="M184.9,380.2 L188.1,385.9 L181.7,385.9 Z" fill="#22dd22"/>
<path d="M187.6,380.7 L190.8,386.4 L184.4,386.4 Z" fill="#22dd22"/>
<path d="M190.3,380.7 L193.5,386.4 L187.1,386.4 Z" fill="#22dd22"/>
<path d="M193.0,381.0 L196.2,386.7 L189.8,386.7 Z" fill="#22dd22"/>
<path d="M195.7,380.9 L198.9,386.6 L192.5,386.6 Z" fill="#22dd22"/>
<path d="M198.4,381.0 L201.6,386.7 L195.2,386.7 Z" fill="#22dd22"/>
<path d="M201.2,382.0 L204.4,387.7 L198.0,387.7 Z" fill="#22dd22"/>
<path d="M203.9,381.6 L207.1,387.3 L200.7,387.3 Z" fill="#22dd22"/>
<path d="M206.6,383.1 L209.8,388.8 L203.4,388.8 Z" fill="#22dd22"/>
<path d="M209.3,384.0 L212.5,389.7 L206.1,389.7 Z" fill="#22dd22"/>
<path d="M212.0,385.9 L215.2,391.6 L208.8,391.6 Z" fill="#22dd22"/>
<path d="M214.7,387.1 L217.9,392.8 L211.5,392.8 Z" fill="#22dd22"/>
<path d="M217.5,388.9 L220.7,394.6 L214.3,394.6 Z" fill="#22dd22"/>
<path d="M220.2,390.3 L223.4,396.0 L217.0,396.0 Z" fill="#22dd22"/>
<path d="M222.9,392.2 L226.1,397.9 L219.7,397.9 Z" fill="#22dd22"/>
<path d="M225.6,393.3 L228.8,399.0 L222.4,399.0 Z" fill="#22dd22"/>
<path d="M228.3,395.4 L231.5,401.1 L225.1,401.1 Z" fill="#22dd22"/>
<path d="M231.0,398.3 L234.2,404.0 L227.8,404.0 Z" fill="#22dd22"/>
<path d="M233.8,402.5 L237.0,408.2 L230.6,408.2 Z" fill="#22dd22"/>
<path d="M236.5,407.2 L239.7,412.9 L233.3,412.9 Z" fill="#22dd22"/>
<path d="M239.2,411.8 L242.4,417.5 L236.0,417.5 Z" fill="#22dd22"/>
<path d="M241.9,416.6 L245.1,422.3 L238.7,422.3 Z" fill="#22dd22"/>
<path d="M244.6,420.6 L247.8,426.3 L241.4,426.3 Z" fill="#22dd22"/>
<path d="M247.3,427.3 L250.5,433.0 L244.1,433.0 Z" fill="#22dd22"/>
<path d="M250.1,439.2 L253.3,444.9 L246.9,444.9 Z" fill="#22dd22"/>
<path d="M252.8,446.8 L256.0,452.5 L249.6,452.5 Z" fill="#22dd22"/>
<path d="M255.5,453.7 L258.7,459.4 L252.3,459.4 Z" fill="#22dd22"/>
<path d="M258.2,462.0 L261.4,467.7 L255.0,467.7 Z" fill="#22dd22"/>
<path d="M260.9,474.1 L264.1,479.8 L257.7,479.8 Z" fill="#22dd22"/>
<path d="M263.6,486.0 L266.8,491.7 L260.4,491.7 Z" fill="#22dd22"/>
<path d="M266.4,497.0 L269.6,502.7 L263.2,502.7 Z" fill="#22dd22"/>
<path d="M269.1,504.8 L272.3,510.5 L265.9,510.5 Z" fill="#22dd22"/>
<path d="M271.8,511.6 L275.0,517.3 L268.6,517.3 Z" fill="#22dd22"/>
<path d="M274.5,517.7 L277.7,523.4 L271.3,523.4 Z" fill="#22dd22"/>
<path d="M277.2,523.3 L280.4,529.0 L274.0,529.0 Z" fill="#22dd22"/>
<path d="M279.9,528.5 L283.1,534.2 L276.7,534.2 Z" fill="#22dd22"/>
<path d="M282.7,531.2 L285.9,536.9 L279.5,536.9 Z" fill="#22dd22"/>
<path d="M285.4,533.3 L288.6,539.0 L282.2,539.0 Z" fill="#22dd22"/>
<path d="M288.1,534.9 L291.3,540.6 L284.9,540.6 Z" fill="#22dd22"/>
<path d="M290.8,536.4 L294.0,542.1 L287.6,542.1 Z" fill="#22dd22"/>
<path d="M293.5,537.6 L296.7,543.3 L290.3,543.3 Z" fill="#22dd22"/>
<path d="M296.2,538.8 L299.4,544.5 L293.0,544.5 Z" fill="#22dd22"/>
<path d="M299.0,540.1 L302.2,545.8 L295.8,545.8 Z" fill="#22dd22"/>
<path d="M301.7,540.9 L304.9,546.6 L298.5,546.6 Z" fill="#22dd22"/>
<path d="M304.4,541.1 L307.6,546.8 L301.2,546.8 Z" fill="#22dd22"/>
<path d="M307.1,541.1 L310.3,546.8 L303.9,546.8 Z" fill="#22dd22"/>
<path d="M309.8,541.4 L313.0,547.1 L306.6,547.1 Z" fill="#22dd22"/>
<path d="M312.5,541.7 L315.7,547.4 L309.3,547.4 Z" fill="#22dd22"/>
<path d="M315.3,542.5 L318.5,548.2 L312.1,548.2 Z" fill="#22dd22"/>
<path d="M318.0,542.3 L321.2,548.0 L314.8,548.0 Z" fill="#22dd22"/>
<path d="M320.7,542.6 L323.9,548.3 L317.5,548.3 Z" fill="#22dd22"/>
<path d="M323.4,542.9 L326.6,548.6 L320.2,548.6 Z" fill="#22dd22"/>
<path d="M326.1,542.8 L329.3,548.5 L322.9,548.5 Z" fill="#22dd22"/>
<path d="M328.8,543.5 L332.0,549.2 L325.6,549.2 Z" fill="#22dd22"/>
<path d="M331.6,542.7 L334.8,548.4 L328.4,548.4 Z" fill="#22dd22"/>
<path d="M334.3,543.2 L337.5,548.9 L331.1,548.9 Z" fill="#22dd22"/>
<path d="M337.0,543.5 L340.2,549.2 L333.8,549.2 Z" fill="#22dd22"/>
<path d="M339.7,543.0 L342.9,548.7 L336.5,548.7 Z" fill="#22dd22"/>
<path d="M342.4,543.3 L345.6,549.0 L339.2,549.0 Z" fill="#22dd22"/>
<path d="M345.1,543.1 L348.3,548.8 L341.9,548.8 Z" fill="#22dd22"/>
<path d="M347.9,543.0 L351.1,548.7 L344.7,548.7 Z" fill="#22dd22"/>
<path d="M350.6,543.0 L353.8,548.7 L347.4,548.7 Z" fill="#22dd22"/>
<path d="M353.3,542.9 L356.5,548.6 L350.1,548.6 Z" fill="#22dd22"/>
<path d="M356.0,543.5 L359.2,549.2 L352.8,549.2 Z" fill="#22dd22"/>
<path d="M358.7,543.5 L361.9,549.2 L355.5,549.2 Z" fill="#22dd22"/>
<path d="M361.4,543.6 L364.6,549.3 L358.2,549.3 Z" fill="#22dd22"/>
<path d="M364.2,542.9 L367.4,548.6 L361.0,548.6 Z" fill="#22dd22"/>
<path d="M366.9,543.5 L370.1,549.2 L363.7,549.2 Z" fill="#22dd22"/>
<path d="M369.6,543.2 L372.8,548.9 L366.4,548.9 Z" fill="#22dd22"/>
<path d="M372.3,543.5 L375.5,549.2 L369.1,549.2 Z" fill="#22dd22"/>
<path d="M375.0,543.4 L378.2,549.1 L371.8,549.1 Z" fill="#22dd22"/>
<path d="M377.7,543.2 L380.9,548.9 L374.5,548.9 Z" fill="#22dd22"/>
<path d="M380.5,543.8 L383.7,549.5 L377.3,549.5 Z" fill="#22dd22"/>
<path d="M383.2,543.0 L386.4,548.7 L380.0,548.7 Z" fill="#22dd22"/>
<path d="M385.9,543.6 L389.1,549.3 L382.7,549.3 Z" fill="#22dd22"/>
<path d="M388.6,543.7 L391.8,549.4 L385.4,549.4 Z" fill="#22dd22"/>
<path d="M391.3,543.5 L394.5,549.2 L388.1,549.2 Z" fill="#22dd22"/>
<path d="M394.0,543.5 L397.2,549.2 L390.8,549.2 Z" fill="#22dd22"/>
<path d="M396.8,543.9 L400.0,549.6 L393.6,549.6 Z" fill="#22dd22"/>
<path d="M399.5,543.3 L402.7,549.0 L396.3,549.0 Z" fill="#22dd22"/>
<path d="M402.2,543.6 L405.4,549.3 L399.0,549.3 Z" fill="#22dd22"/>
<path d="M404.9,543.7 L408.1,549.4 L401.7,549.4 Z" fill="#22dd22"/>
<path d="M407.6,543.5 L410.8,549.2 L404.4,549.2 Z" fill="#22dd22"/>
<path d="M410.3,543.7 L413.5,549.4 L407.1,549.4 Z" fill="#22dd22"/>
<path d="M413.1,543.5 L416.3,549.2 L409.9,549.2 Z" fill="#22dd22"/>
<path d="M415.8,543.6 L419.0,549.3 L412.6,549.3 Z" fill="#22dd22"/>
<path d="M61.3,381.7 L64.5,376.0 L58.1,376.0 Z" fill="#ee1111"/>
<path d="M64.0,381.8 L67.2,376.1 L60.8,376.1 Z" fill="#ee1111"/>
<path d="M66.7,381.6 L69.9,375.9 L63.5,375.9 Z" fill="#ee1111"/>
<path d="M69.4,382.0 L72.6,376.3 L66.2,376.3 Z" fill="#ee1111"/>
<path d="M72.2,382.0 L75.4,376.3 L69.0,376.3 Z" fill="#ee1111"/>
<path d="M74.9,381.8 L78.1,376.1 L71.7,376.1 Z" fill="#ee1111"/>
<path d="M77.6,382.2 L80.8,376.5 L74.4,376.5 Z" fill="#ee1111"/>
<path d="M80.3,382.0 L83.5,376.3 L77.1,376.3 Z" fill="#ee1111"/>
<path d="M83.0,382.6 L86.2,376.9 L79.8,376.9 Z" fill="#ee1111"/>
<path d="M85.7,382.4 L88.9,376.7 L82.5,376.7 Z" fill="#ee1111"/>
<path d="M88.5,382.6 L91.7,376.9 L85.3,376.9 Z" fill="#ee1111"/>
<path d="M91.2,382.6 L94.4,376.9 L88.0,376.9 Z" fill="#ee1111"/>
<path d="M93.9,382.6 L97.1,376.9 L90.7,376.9 Z" fill="#ee1111"/>
<path d="M96.6,382.5 L99.8,376.8 L93.4,376.8 Z" fill="#ee1111"/>
<path d="M99.3,382.5 L102.5,376.8 L96.1,376.8 Z" fill="#ee1111"/>
<path d="M102.0,383.2 L105.2,377.5 L98.8,377.5 Z" fill="#ee1111"/>
<path d="M104.8,383.0 L108.0,377.3 L101.6,377.3 Z" fill="#ee1111"/>
<path d="M107.5,383.1 L110.7,377.4 L104.3,377.4 Z" fill="#ee1111"/>
<path d="M110.2,383.2 L113.4,377.5 L107.0,377.5 Z" fill="#ee1111"/>
<path d="M112.9,383.5 L116.1,377.8 L109.7,377.8 Z" fill="#ee1111"/>
<path d="M115.6,383.1 L118.8,377.4 L112.4,377.4 Z" fill="#ee1111"/>
<path d="M118.3,383.1 L121.5,377.4 L115.1,377.4 Z" fill="#ee1111"/>
<path d="M121.1,383.7 L124.3,378.0 L117.9,378.0 Z" fill="#ee1111"/>
<path d="M123.8,383.5 L127.0,377.8 L120.6,377.8 Z" fill="#ee1111"/>
<path d="M126.5,383.8 L129.7,378.1 L123.3,378.1 Z" fill="#ee1111"/>
<path d="M129.2,384.0 L132.4,378.3 L126.0,378.3 Z" fill="#ee1111"/>
<path d="M131.9,384.1 L135.1,378.4 L128.7,378.4 Z" fill="#ee1111"/>
<path d="M134.6,384.2 L137.8,378.5 L131.4,378.5 Z" fill="#ee1111"/>
<path d="M137.4,383.6 L140.6,377.9 L134.2,377.9 Z" fill="#ee1111"/>
<path d="M140.1,384.0 L143.3,378.3 L136.9,378.3 Z" fill="#ee1111"/>
<path d="M142.8,384.4 L146.0,378.7 L139.6,378.7 Z" fill="#ee1111"/>
<path d="M145.5,384.6 L148.7,378.9 L142.3,378.9 Z" fill="#ee1111"/>
<path d="M148.2,384.2 L151.4,378.5 L145.0,378.5 Z" fill="#ee1111"/>
<path d="M150.9,384.4 L154.1,378.7 L147.7,378.7 Z" fill="#ee1111"/>
<path d="M153.7,384.6 L156.9,378.9 L150.5,378.9 Z" fill="#ee1111"/>
<path d="M156.4,384.7 L159.6,379.0 L153.2,379.0 Z" fill="#ee1111"/>
<path d="M159.1,385.0 L162.3,379.3 L155.9,379.3 Z" fill="#ee1111"/>
<path d="M161.8,385.6 L165.0,379.9 L158.6,379.9 Z" fill="#ee1111"/>
<path d="M164.5,385.5 L167.7,379.8 L161.3,379.8 Z" fill="#ee1111"/>
<path d="M167.2,385.6 L170.4,379.9 L164.0,379.9 Z" fill="#ee1111"/>
<path d="M170.0,385.5 L173.2,379.8 L166.8,379.8 Z" fill="#ee1111"/>
<path d="M172.7,385.9 L175.9,380.2 L169.5,380.2 Z" fill="#ee1111"/>
<path d="M175.4,386.6 L178.6,380.9 L172.2,380.9 Z" fill="#ee1111"/>
<path d="M178.1,386.5 L181.3,380.8 L174.9,380.8 Z" fill="#ee1111"/>
<path d="M180.8,386.5 L184.0,380.8 L177.6,380.8 Z" fill="#ee1111"/>
<path d="M183.5,386.7 L186.7,381.0 L180.3,381.0 Z" fill="#ee1111"/>
<path d="M186.3,387.4 L189.5,381.7 L183.1,381.7 Z" fill="#ee1111"/>
<path d="M189.0,387.9 L192.2,382.2 L185.8,382.2 Z" fill="#ee1111"/>
<path d="M191.7,387.9 L194.9,382.2 L188.5,382.2 Z" fill="#ee1111"/>
<path d="M194.4,388.9 L197.6,383.2 L191.2,383.2 Z" fill="#ee1111"/>
<path d="M197.1,389.2 L200.3,383.5 L193.9,383.5 Z" fill="#ee1111"/>
<path d="M199.8,389.9 L203.0,384.2 L196.6,384.2 Z" fill="#ee1111"/>
<path d="M202.6,390.2 L205.8,384.5 L199.4,384.5 Z" fill="#ee1111"/>
<path d="M205.3,390.9 L208.5,385.2 L202.1,385.2 Z" fill="#ee1111"/>
<path d="M208.0,391.4 L211.2,385.7 L204.8,385.7 Z" fill="#ee1111"/>
<path d="M210.7,392.0 L213.9,386.3 L207.5,386.3 Z" fill="#ee1111"/>
<path d="M213.4,392.2 L216.6,386.5 L210.2,386.5 Z" fill="#ee1111"/>
<path d="M216.1,393.3 L219.3,387.6 L212.9,387.6 Z" fill="#ee1111"/>
<path d="M218.9,396.0 L222.1,390.3 L215.7,390.3 Z" fill="#ee1111"/>
<path d="M221.6,398.3 L224.8,392.6 L218.4,392.6 Z" fill="#ee1111"/>
<path d="M224.3,401.1 L227.5,395.4 L221.1,395.4 Z" fill="#ee1111"/>
<path d="M227.0,404.3 L230.2,398.6 L223.8,398.6 Z" fill="#ee1111"/>
<path d="M229.7,407.5 L232.9,401.8 L226.5,401.8 Z" fill="#ee1111"/>
<path d="M232.4,412.0 L235.6,406.3 L229.2,406.3 Z" fill="#ee1111"/>
<path d="M235.2,416.5 L238.4,410.8 L232.0,410.8 Z" fill="#ee1111"/>
<path d="M237.9,421.4 L241.1,415.7 L234.7,415.7 Z" fill="#ee1111"/>
<path d="M240.6,425.3 L243.8,419.6 L237.4,419.6 Z" fill="#ee1111"/>
<path d="M243.3,432.2 L246.5,426.5 L240.1,426.5 Z" fill="#ee1111"/>
<path d="M246.0,441.3 L249.2,435.6 L242.8,435.6 Z" fill="#ee1111"/>
<path d="M248.7,449.1 L251.9,443.4 L245.5,443.4 Z" fill="#ee1111"/>
<path d="M251.5,456.8 L254.7,451.1 L248.3,451.1 Z" fill="#ee1111"/>
<path d="M254.2,464.7 L257.4,459.0 L251.0,459.0 Z" fill="#ee1111"/>
<path d="M256.9,472.0 L260.1,466.3 L253.7,466.3 Z" fill="#ee1111"/>
<path d="M259.6,478.1 L262.8,472.4 L256.4,472.4 Z" fill="#ee1111"/>
<path d="M262.3,484.1 L265.5,478.4 L259.1,478.4 Z" fill="#ee1111"/>
<path d="M265.0,490.6 L268.2,484.9 L261.8,484.9 Z" fill="#ee1111"/>
<path d="M267.8,496.8 L271.0,491.1 L264.6,491.1 Z" fill="#ee1111"/>
<path d="M270.5,503.2 L273.7,497.5 L267.3,497.5 Z" fill="#ee1111"/>
<path d="M273.2,509.1 L276.4,503.4 L270.0,503.4 Z" fill="#ee1111"/>
<path d="M275.9,515.4 L279.1,509.7 L272.7,509.7 Z" fill="#ee1111"/>
<path d="M278.6,521.6 L281.8,515.9 L275.4,515.9 Z" fill="#ee1111"/>
<path d="M281.3,526.0 L284.5,520.3 L278.1,520.3 Z" fill="#ee1111"/>
<path d="M284.1,529.5 L287.3,523.8 L280.9,523.8 Z" fill="#ee1111"/>
<path d="M286.8,532.5 L290.0,526.8 L283.6,526.8 Z" fill="#ee1111"/>
<path d="M289.5,533.7 L292.7,528.0 L286.3,528.0 Z" fill="#ee1111"/>
<path d="M292.2,534.7 L295.4,529.0 L289.0,529.0 Z" fill="#ee1111"/>
<path d="M294.9,535.0 L298.1,529.3 L291.7,529.3 Z" fill="#ee1111"/>
<path d="M297.6,536.4 L300.8,530.7 L294.4,530.7 Z" fill="#ee1111"/>
<path d="M300.4,537.0 L303.6,531.3 L297.2,531.3 Z" fill="#ee1111"/>
<path d="M303.1,537.5 L306.3,531.8 L299.9,531.8 Z" fill="#ee1111"/>
<path d="M305.8,538.6 L309.0,532.9 L302.6,532.9 Z" fill="#ee1111"/>
<path d="M308.5,539.1 L311.7,533.4 L305.3,533.4 Z" fill="#ee1111"/>
<path d="M311.2,539.4 L314.4,533.7 L308.0,533.7 Z" fill="#ee1111"/>
<path d="M313.9,540.6 L317.1,534.9 L310.7,534.9 Z" fill="#ee1111"/>
<path d="M316.7,540.8 L319.9,535.1 L313.5,535.1 Z" fill="#ee1111"/>
<path d="M319.4,541.5 L322.6,535.8 L316.2,535.8 Z" fill="#ee1111"/>
<path d="M322.1,542.0 L325.3,536.3 L318.9,536.3 Z" fill="#ee1111"/>
<path d="M324.8,542.5 L328.0,536.8 L321.6,536.8 Z" fill="#ee1111"/>
<path d="M327.5,542.7 L330.7,537.0 L324.3,537.0 Z" fill="#ee1111"/>
<path d="M330.2,542.4 L333.4,536.7 L327.0,536.7 Z" fill="#ee1111"/>
<path d="M333.0,543.1 L336.2,537.4 L329.8,537.4 Z" fill="#ee1111"/>
<path d="M335.7,543.2 L338.9,537.5 L332.5,537.5 Z" fill="#ee1111"/>
<path d="M338.4,543.5 L341.6,537.8 L335.2,537.8 Z" fill="#ee1111"/>
<path d="M341.1,544.0 L344.3,538.3 L337.9,538.3 Z" fill="#ee1111"/>
<path d="M343.8,544.0 L347.0,538.3 L340.6,538.3 Z" fill="#ee1111"/>
<path d="M346.5,544.3 L349.7,538.6 L343.3,538.6 Z" fill="#ee1111"/>
<path d="M349.3,544.9 L352.5,539.2 L346.1,539.2 Z" fill="#ee1111"/>
<path d="M352.0,544.6 L355.2,538.9 L348.8,538.9 Z" fill="#ee1111"/>
<path d="M354.7,544.7 L357.9,539.0 L351.5,539.0 Z" fill="#ee1111"/>
<path d="M357.4,544.7 L360.6,539.0 L354.2,539.0 Z" fill="#ee1111"/>
<path d="M360.1,545.0 L363.3,539.3 L356.9,539.3 Z" fill="#ee1111"/>
<path d="M362.8,544.9 L366.0,539.2 L359.6,539.2 Z" fill="#ee1111"/>
<path d="M365.6,544.9 L368.8,539.2 L362.4,539.2 Z" fill="#ee1111"/>
<path d="M368.3,544.7 L371.5,539.0 L365.1,539.0 Z" fill="#ee1111"/>
<path d="M371.0,544.4 L374.2,538.7 L367.8,538.7 Z" fill="#ee1111"/>
<path d="M373.7,544.9 L376.9,539.2 L370.5,539.2 Z" fill="#ee1111"/>
<path d="M376.4,544.8 L379.6,539.1 L373.2,539.1 Z" fill="#ee1111"/>
<path d="M379.1,545.0 L382.3,539.3 L375.9,539.3 Z" fill="#ee1111"/>
<path d="M381.9,545.0 L385.1,539.3 L378.7,539.3 Z" fill="#ee1111"/>
<path d="M384.6,544.5 L387.8,538.8 L381.4,538.8 Z" fill="#ee1111"/>
<path d="M387.3,544.6 L390.5,538.9 L384.1,538.9 Z" fill="#ee1111"/>
<path d="M390.0,544.5 L393.2,538.8 L386.8,538.8 Z" fill="#ee1111"/>
<path d="M392.7,545.1 L395.9,539.4 L389.5,539.4 Z" fill="#ee1111"/>
<path d="M395.4,544.5 L398.6,538.8 L392.2,538.8 Z" fill="#ee1111"/>
<path d="M398.2,544.5 L401.4,538.8 L395.0,538.8 Z" fill="#ee1111"/>
<path d="M400.9,545.1 L404.1,539.4 L397.7,539.4 Z" fill="#ee1111"/>
<path d="M403.6,544.9 L406.8,539.2 L400.4,539.2 Z" fill="#ee1111"/>
<path d="M406.3,544.5 L409.5,538.8 L403.1,538.8 Z" fill="#ee1111"/>
<path d="M409.0,545.0 L412.2,539.3 L405.8,539.3 Z" fill="#ee1111"/>
<path d="M411.7,545.1 L414.9,539.4 L408.5,539.4 Z" fill="#ee1111"/>
<path d="M414.5,544.9 L417.7,539.2 L411.3,539.2 Z" fill="#ee1111"/>
<path d="M62.2,374.8 L65.6,378.2 L62.2,381.6 L58.8,378.2 Z" fill="#7e7a18"/>
<path d="M64.9,375.5 L68.3,378.9 L64.9,382.3 L61.5,378.9 Z" fill="#7e7a18"/>
<path d="M67.6,375.4 L71.0,378.8 L67.6,382.2 L64.2,378.8 Z" fill="#7e7a18"/>
<path d="M70.4,375.7 L73.8,379.1 L70.4,382.5 L67.0,379.1 Z" fill="#7e7a18"/>
<path d="M73.1,376.2 L76.5,379.6 L73.1,383.0 L69.7,379.6 Z" fill="#7e7a18"/>
<path d="M75.8,376.2 L79.2,379.6 L75.8,383.0 L72.4,379.6 Z" fill="#7e7a18"/>
<path d="M78.5,376.4 L81.9,379.8 L78.5,383.2 L75.1,379.8 Z" fill="#7e7a18"/>
<path d="M81.2,376.0 L84.6,379.4 L81.2,382.8 L77.8,379.4 Z" fill="#7e7a18"/>
<path d="M83.9,376.3 L87.3,379.7 L83.9,383.1 L80.5,379.7 Z" fill="#7e7a18"/>
<path d="M86.7,376.6 L90.1,380.0 L86.7,383.4 L83.3,380.0 Z" fill="#7e7a18"/>
<path d="M89.4,376.4 L92.8,379.8 L89.4,383.2 L86.0,379.8 Z" fill="#7e7a18"/>
<path d="M92.1,377.3 L95.5,380.7 L92.1,384.1 L88.7,380.7 Z" fill="#7e7a18"/>
<path d="M94.8,376.9 L98.2,380.3 L94.8,383.7 L91.4,380.3 Z" fill="#7e7a18"/>
<path d="M97.5,377.1 L100.9,380.5 L97.5,383.9 L94.1,380.5 Z" fill="#7e7a18"/>
<path d="M100.2,377.2 L103.6,380.6 L100.2,384.0 L96.8,380.6 Z" fill="#7e7a18"/>
<path d="M103.0,377.4 L106.4,380.8 L103.0,384.2 L99.6,380.8 Z" fill="#7e7a18"/>
<path d="M105.7,378.0 L109.1,381.4 L105.7,384.8 L102.3,381.4 Z" fill="#7e7a18"/>
<path d="M108.4,377.9 L111.8,381.3 L108.4,384.7 L105.0,381.3 Z" fill="#7e7a18"/>
<path d="M111.1,378.0 L114.5,381.4 L111.1,384.8 L107.7,381.4 Z" fill="#7e7a18"/>
<path d="M113.8,378.1 L117.2,381.5 L113.8,384.9 L110.4,381.5 Z" fill="#7e7a18"/>
<path d="M116.5,378.0 L119.9,381.4 L116.5,384.8 L113.1,381.4 Z" fill="#7e7a18"/>
<path d="M119.3,378.4 L122.7,381.8 L119.3,385.2 L115.9,381.8 Z" fill="#7e7a18"/>
<path d="M122.0,379.0 L125.4,382.4 L122.0,385.8 L118.6,382.4 Z" fill="#7e7a18"/>
<path d="M124.7,379.1 L128.1,382.5 L124.7,385.9 L121.3,382.5 Z" fill="#7e7a18"/>
<path d="M127.4,379.2 L130.8,382.6 L127.4,386.0 L124.0,382.6 Z" fill="#7e7a18"/>
<path d="M130.1,378.8 L133.5,382.2 L130.1,385.6 L126.7,382.2 Z" fill="#7e7a18"/>
<path d="M132.8,378.8 L136.2,382.2 L132.8,385.6 L129.4,382.2 Z" fill="#7e7a18"/>
<path d="M135.6,378.7 L139.0,382.1 L135.6,385.5 L132.2,382.1 Z" fill="#7e7a18"/>
<path d="M138.3,379.1 L141.7,382.5 L138.3,385.9 L134.9,382.5 Z" fill="#7e7a18"/>
<path d="M141.0,379.1 L144.4,382.5 L141.0,385.9 L137.6,382.5 Z" fill="#7e7a18"/>
<path d="M143.7,379.2 L147.1,382.6 L143.7,386.0 L140.3,382.6 Z" fill="#7e7a18"/>
<path d="M146.4,379.2 L149.8,382.6 L146.4,386.0 L143.0,382.6 Z" fill="#7e7a18"/>
<path d="M149.1,379.4 L152.5,382.8 L149.1,386.2 L145.7,382.8 Z" fill="#7e7a18"/>
<path d="M151.8,379.2 L155.2,382.6 L151.8,386.0 L148.4,382.6 Z" fill="#7e7a18"/>
<path d="M154.6,379.6 L158.0,383.0 L154.6,386.4 L151.2,383.0 Z" fill="#7e7a18"/>
<path d="M157.3,379.2 L160.7,382.6 L157.3,386.0 L153.9,382.6 Z" fill="#7e7a18"/>
<path d="M160.0,379.8 L163.4,383.2 L160.0,386.6 L156.6,383.2 Z" fill="#7e7a18"/>
<path d="M162.7,379.5 L166.1,382.9 L162.7,386.3 L159.3,382.9 Z" fill="#7e7a18"/>
<path d="M165.4,379.2 L168.8,382.6 L165.4,386.0 L162.0,382.6 Z" fill="#7e7a18"/>
<path d="M168.1,379.4 L171.5,382.8 L168.1,386.2 L164.7,382.8 Z" fill="#7e7a18"/>
<path d="M170.9,379.7 L174.3,383.1 L170.9,386.5 L167.5,383.1 Z" fill="#7e7a18"/>
<path d="M173.6,379.6 L177.0,383.0 L173.6,386.4 L170.2,383.0 Z" fill="#7e7a18"/>
<path d="M176.3,379.8 L179.7,383.2 L176.3,386.6 L172.9,383.2 Z" fill="#7e7a18"/>
<path d="M179.0,379.6 L182.4,383.0 L179.0,386.4 L175.6,383.0 Z" fill="#7e7a18"/>
<path d="M181.7,379.6 L185.1,383.0 L181.7,386.4 L178.3,383.0 Z" fill="#7e7a18"/>
<path d="M184.4,380.1 L187.8,383.5 L184.4,386.9 L181.0,383.5 Z" fill="#7e7a18"/>
<path d="M187.2,379.7 L190.6,383.1 L187.2,386.5 L183.8,383.1 Z" fill="#7e7a18"/>
<path d="M189.9,380.1 L193.3,383.5 L189.9,386.9 L186.5,383.5 Z" fill="#7e7a18"/>
<path d="M192.6,380.2 L196.0,383.6 L192.6,387.0 L189.2,383.6 Z" fill="#7e7a18"/>
<path d="M195.3,380.1 L198.7,383.5 L195.3,386.9 L191.9,383.5 Z" fill="#7e7a18"/>
<path d="M198.0,380.0 L201.4,383.4 L198.0,386.8 L194.6,383.4 Z" fill="#7e7a18"/>
<path d="M200.7,380.4 L204.1,383.8 L200.7,387.2 L197.3,383.8 Z" fill="#7e7a18"/>
<path d="M203.5,380.1 L206.9,383.5 L203.5,386.9 L200.1,383.5 Z" fill="#7e7a18"/>
<path d="M206.2,380.5 L209.6,383.9 L206.2,387.3 L202.8,383.9 Z" fill="#7e7a18"/>
<path d="M208.9,379.9 L212.3,383.3 L208.9,386.7 L205.5,383.3 Z" fill="#7e7a18"/>
<path d="M211.6,380.2 L215.0,383.6 L211.6,387.0 L208.2,383.6 Z" fill="#7e7a18"/>
<path d="M214.3,380.4 L217.7,383.8 L214.3,387.2 L210.9,383.8 Z" fill="#7e7a18"/>
<path d="M217.0,380.0 L220.4,383.4 L217.0,386.8 L213.6,383.4 Z" fill="#7e7a18"/>
<path d="M219.8,380.7 L223.2,384.1 L219.8,387.5 L216.4,384.1 Z" fill="#7e7a18"/>
<path d="M222.5,380.1 L225.9,383.5 L222.5,386.9 L219.1,383.5 Z" fill="#7e7a18"/>
<path d="M225.2,380.5 L228.6,383.9 L225.2,387.3 L221.8,383.9 Z" fill="#7e7a18"/>
<path d="M227.9,380.2 L231.3,383.6 L227.9,387.0 L224.5,383.6 Z" fill="#7e7a18"/>
<path d="M230.6,380.8 L234.0,384.2 L230.6,387.6 L227.2,384.2 Z" fill="#7e7a18"/>
<path d="M233.3,380.6 L236.7,384.0 L233.3,387.4 L229.9,384.0 Z" fill="#7e7a18"/>
<path d="M236.1,380.8 L239.5,384.2 L236.1,387.6 L232.7,384.2 Z" fill="#7e7a18"/>
<path d="M238.8,380.6 L242.2,384.0 L238.8,387.4 L235.4,384.0 Z" fill="#7e7a18"/>
<path d="M241.5,380.8 L244.9,384.2 L241.5,387.6 L238.1,384.2 Z" fill="#7e7a18"/>
<path d="M244.2,380.8 L247.6,384.2 L244.2,387.6 L240.8,384.2 Z" fill="#7e7a18"/>
<path d="M246.9,380.6 L250.3,384.0 L246.9,387.4 L243.5,384.0 Z" fill="#7e7a18"/>
<path d="M249.6,380.5 L253.0,383.9 L249.6,387.3 L246.2,383.9 Z" fill="#7e7a18"/>
<path d="M252.4,381.1 L255.8,384.5 L252.4,387.9 L249.0,384.5 Z" fill="#7e7a18"/>
<path d="M255.1,380.6 L258.5,384.0 L255.1,387.4 L251.7,384.0 Z" fill="#7e7a18"/>
<path d="M257.8,381.2 L261.2,384.6 L257.8,388.0 L254.4,384.6 Z" fill="#7e7a18"/>
<path d="M260.5,380.7 L263.9,384.1 L260.5,387.5 L257.1,384.1 Z" fill="#7e7a18"/>
<path d="M263.2,380.6 L266.6,384.0 L263.2,387.4 L259.8,384.0 Z" fill="#7e7a18"/>
<path d="M265.9,380.7 L269.3,384.1 L265.9,387.5 L262.5,384.1 Z" fill="#7e7a18"/>
<path d="M268.7,381.9 L272.1,385.3 L268.7,388.7 L265.3,385.3 Z" fill="#7e7a18"/>
<path d="M271.4,382.8 L274.8,386.2 L271.4,389.6 L268.0,386.2 Z" fill="#7e7a18"/>
<path d="M274.1,383.2 L277.5,386.6 L274.1,390.0 L270.7,386.6 Z" fill="#7e7a18"/>
<path d="M276.8,384.6 L280.2,388.0 L276.8,391.4 L273.4,388.0 Z" fill="#7e7a18"/>
<path d="M279.5,386.5 L282.9,389.9 L279.5,393.3 L276.1,389.9 Z" fill="#7e7a18"/>
<path d="M282.2,389.4 L285.6,392.8 L282.2,396.2 L278.8,392.8 Z" fill="#7e7a18"/>
<path d="M285.0,392.2 L288.4,395.6 L285.0,399.0 L281.6,395.6 Z" fill="#7e7a18"/>
<path d="M287.7,395.8 L291.1,399.2 L287.7,402.6 L284.3,399.2 Z" fill="#7e7a18"/>
<path d="M290.4,399.7 L293.8,403.1 L290.4,406.5 L287.0,403.1 Z" fill="#7e7a18"/>
<path d="M293.1,405.5 L296.5,408.9 L293.1,412.3 L289.7,408.9 Z" fill="#7e7a18"/>
<path d="M295.8,411.4 L299.2,414.8 L295.8,418.2 L292.4,414.8 Z" fill="#7e7a18"/>
<path d="M298.5,421.0 L301.9,424.4 L298.5,427.8 L295.1,424.4 Z" fill="#7e7a18"/>
<path d="M301.3,430.7 L304.7,434.1 L301.3,437.5 L297.9,434.1 Z" fill="#7e7a18"/>
<path d="M304.0,439.0 L307.4,442.4 L304.0,445.8 L300.6,442.4 Z" fill="#7e7a18"/>
<path d="M306.7,447.3 L310.1,450.7 L306.7,454.1 L303.3,450.7 Z" fill="#7e7a18"/>
<path d="M309.4,455.3 L312.8,458.7 L309.4,462.1 L306.0,458.7 Z" fill="#7e7a18"/>
<path d="M312.1,465.2 L315.5,468.6 L312.1,472.0 L308.7,468.6 Z" fill="#7e7a18"/>
<path d="M314.8,475.0 L318.2,478.4 L314.8,481.8 L311.4,478.4 Z" fill="#7e7a18"/>
<path d="M317.6,486.5 L321.0,489.9 L317.6,493.3 L314.2,489.9 Z" fill="#7e7a18"/>
<path d="M320.3,497.6 L323.7,501.0 L320.3,504.4 L316.9,501.0 Z" fill="#7e7a18"/>
<path d="M323.0,507.7 L326.4,511.1 L323.0,514.5 L319.6,511.1 Z" fill="#7e7a18"/>
<path d="M325.7,515.6 L329.1,519.0 L325.7,522.4 L322.3,519.0 Z" fill="#7e7a18"/>
<path d="M328.4,522.3 L331.8,525.7 L328.4,529.1 L325.0,525.7 Z" fill="#7e7a18"/>
<path d="M331.1,526.0 L334.5,529.4 L331.1,532.8 L327.7,529.4 Z" fill="#7e7a18"/>
<path d="M333.9,528.3 L337.3,531.7 L333.9,535.1 L330.5,531.7 Z" fill="#7e7a18"/>
<path d="M336.6,529.8 L340.0,533.2 L336.6,536.6 L333.2,533.2 Z" fill="#7e7a18"/>
<path d="M339.3,531.4 L342.7,534.8 L339.3,538.2 L335.9,534.8 Z" fill="#7e7a18"/>
<path d="M342.0,532.2 L345.4,535.6 L342.0,539.0 L338.6,535.6 Z" fill="#7e7a18"/>
<path d="M344.7,532.4 L348.1,535.8 L344.7,539.2 L341.3,535.8 Z" fill="#7e7a18"/>
<path d="M347.4,533.2 L350.8,536.6 L347.4,540.0 L344.0,536.6 Z" fill="#7e7a18"/>
<path d="M350.2,533.4 L353.6,536.8 L350.2,540.2 L346.8,536.8 Z" fill="#7e7a18"/>
<path d="M352.9,533.8 L356.3,537.2 L352.9,540.6 L349.5,537.2 Z" fill="#7e7a18"/>
<path d="M355.6,534.1 L359.0,537.5 L355.6,540.9 L352.2,537.5 Z" fill="#7e7a18"/>
<path d="M358.3,533.9 L361.7,537.3 L358.3,540.7 L354.9,537.3 Z" fill="#7e7a18"/>
<path d="M361.0,534.2 L364.4,537.6 L361.0,541.0 L357.6,537.6 Z" fill="#7e7a18"/>
<path d="M363.7,533.8 L367.1,537.2 L363.7,540.6 L360.3,537.2 Z" fill="#7e7a18"/>
<path d="M366.5,534.5 L369.9,537.9 L366.5,541.3 L363.1,537.9 Z" fill="#7e7a18"/>
<path d="M369.2,534.0 L372.6,537.4 L369.2,540.8 L365.8,537.4 Z" fill="#7e7a18"/>
<path d="M371.9,534.7 L375.3,538.1 L371.9,541.5 L368.5,538.1 Z" fill="#7e7a18"/>
<path d="M374.6,534.8 L378.0,538.2 L374.6,541.6 L371.2,538.2 Z" fill="#7e7a18"/>
<path d="M377.3,534.8 L380.7,538.2 L377.3,541.6 L373.9,538.2 Z" fill="#7e7a18"/>
<path d="M380.0,534.5 L383.4,537.9 L380.0,541.3 L376.6,537.9 Z" fill="#7e7a18"/>
<path d="M382.8,534.4 L386.2,537.8 L382.8,541.2 L379.4,537.8 Z" fill="#7e7a18"/>
<path d="M385.5,534.5 L388.9,537.9 L385.5,541.3 L382.1,537.9 Z" fill="#7e7a18"/>
<path d="M388.2,534.9 L391.6,538.3 L388.2,541.7 L384.8,538.3 Z" fill="#7e7a18"/>
<path d="M390.9,534.8 L394.3,538.2 L390.9,541.6 L387.5,538.2 Z" fill="#7e7a18"/>
<path d="M393.6,535.2 L397.0,538.6 L393.6,542.0 L390.2,538.6 Z" fill="#7e7a18"/>
<path d="M396.3,534.6 L399.7,538.0 L396.3,541.4 L392.9,538.0 Z" fill="#7e7a18"/>
<path d="M399.1,535.0 L402.5,538.4 L399.1,541.8 L395.7,538.4 Z" fill="#7e7a18"/>
<path d="M401.8,535.3 L405.2,538.7 L401.8,542.1 L398.4,538.7 Z" fill="#7e7a18"/>
<path d="M404.5,535.2 L407.9,538.6 L404.5,542.0 L401.1,538.6 Z" fill="#7e7a18"/>
<path d="M407.2,535.2 L410.6,538.6 L407.2,542.0 L403.8,538.6 Z" fill="#7e7a18"/>
<path d="M409.9,534.9 L413.3,538.3 L409.9,541.7 L406.5,538.3 Z" fill="#7e7a18"/>
<path d="M412.6,535.0 L416.0,538.4 L412.6,541.8 L409.2,538.4 Z" fill="#7e7a18"/>
<path d="M415.4,535.2 L418.8,538.6 L415.4,542.0 L412.0,538.6 Z" fill="#7e7a18"/>
<path d="M57.7,380.2 L63.4,377.1 L63.4,383.3 Z" fill="#000000"/>
<path d="M59.5,380.1 L65.2,377.0 L65.2,383.2 Z" fill="#000000"/>
<path d="M61.3,378.6 L67.0,375.5 L67.0,381.7 Z" fill="#000000"/>
<path d="M63.1,380.3 L68.8,377.2 L68.8,383.4 Z" fill="#000000"/>
<path d="M64.9,378.2 L70.6,375.1 L70.6,381.3 Z" fill="#000000"/>
<path d="M66.8,379.5 L72.5,376.4 L72.5,382.6 Z" fill="#000000"/>
<path d="M68.6,380.4 L74.3,377.3 L74.3,383.5 Z" fill="#000000"/>
<path d="M70.4,378.9 L76.1,375.8 L76.1,382.0 Z" fill="#000000"/>
<path d="M72.2,380.4 L77.9,377.3 L77.9,383.5 Z" fill="#000000"/>
<path d="M74.0,379.7 L79.7,376.6 L79.7,382.8 Z" fill="#000000"/>
<path d="M75.8,378.2 L81.5,375.1 L81.5,381.3 Z" fill="#000000"/>
<path d="M77.6,378.9 L83.3,375.8 L83.3,382.0 Z" fill="#000000"/>
<path d="M79.4,379.2 L85.1,376.1 L85.1,382.3 Z" fill="#000000"/>
<path d="M81.2,378.7 L86.9,375.6 L86.9,381.8 Z" fill="#000000"/>
<path d="M83.1,379.9 L88.8,376.8 L88.8,383.0 Z" fill="#000000"/>
<path d="M84.9,378.5 L90.6,375.4 L90.6,381.6 Z" fill="#000000"/>
<path d="M86.7,380.0 L92.4,376.9 L92.4,383.1 Z" fill="#000000"/>
<path d="M88.5,378.8 L94.2,375.7 L94.2,381.9 Z" fill="#000000"/>
<path d="M90.3,378.3 L96.0,375.2 L96.0,381.4 Z" fill="#000000"/>
<path d="M92.1,379.4 L97.8,376.3 L97.8,382.5 Z" fill="#000000"/>
<path d="M93.9,378.3 L99.6,375.2 L99.6,381.4 Z" fill="#000000"/>
<path d="M95.7,379.4 L101.4,376.3 L101.4,382.5 Z" fill="#000000"/>
<path d="M97.5,380.0 L103.2,376.9 L103.2,383.1 Z" fill="#000000"/>
<path d="M99.4,379.5 L105.1,376.4 L105.1,382.6 Z" fill="#000000"/>
<path d="M101.2,379.2 L106.9,376.1 L106.9,382.3 Z" fill="#000000"/>
<path d="M103.0,378.2 L108.7,375.1 L108.7,381.3 Z" fill="#000000"/>
<path d="M104.8,379.3 L110.5,376.2 L110.5,382.4 Z" fill="#000000"/>
<path d="M106.6,378.3 L112.3,375.2 L112.3,381.4 Z" fill="#000000"/>
<path d="M108.4,379.7 L114.1,376.6 L114.1,382.8 Z" fill="#000000"/>
<path d="M110.2,378.4 L115.9,375.3 L115.9,381.5 Z" fill="#000000"/>
<path d="M112.0,379.5 L117.7,376.4 L117.7,382.6 Z" fill="#000000"/>
<path d="M113.8,378.9 L119.5,375.8 L119.5,382.0 Z" fill="#000000"/>
<path d="M115.7,379.0 L121.4,375.9 L121.4,382.1 Z" fill="#000000"/>
<path d="M117.5,379.7 L123.2,376.6 L123.2,382.8 Z" fill="#000000"/>
<path d="M119.3,378.5 L125.0,375.4 L125.0,381.6 Z" fill="#000000"/>
<path d="M121.1,378.5 L126.8,375.4 L126.8,381.6 Z" fill="#000000"/>
<path d="M122.9,380.4 L128.6,377.3 L128.6,383.5 Z" fill="#000000"/>
<path d="M124.7,378.9 L130.4,375.8 L130.4,382.0 Z" fill="#000000"/>
<path d="M126.5,380.1 L132.2,377.0 L132.2,383.2 Z" fill="#000000"/>
<path d="M128.3,380.2 L134.0,377.1 L134.0,383.3 Z" fill="#000000"/>
<path d="M130.1,379.3 L135.8,376.2 L135.8,382.4 Z" fill="#000000"/>
<path d="M132.0,378.5 L137.7,375.4 L137.7,381.6 Z" fill="#000000"/>
<path d="M133.8,378.3 L139.5,375.2 L139.5,381.4 Z" fill="#000000"/>
<path d="M135.6,380.2 L141.3,377.1 L141.3,383.3 Z" fill="#000000"/>
<path d="M137.4,378.4 L143.1,375.3 L143.1,381.5 Z" fill="#000000"/>
<path d="M139.2,379.3 L144.9,376.2 L144.9,382.4 Z" fill="#000000"/>
<path d="M141.0,379.4 L146.7,376.3 L146.7,382.5 Z" fill="#000000"/>
<path d="M142.8,378.4 L148.5,375.3 L148.5,381.5 Z" fill="#000000"/>
<path d="M144.6,379.2 L150.3,376.1 L150.3,382.3 Z" fill="#000000"/>
<path d="M146.4,378.5 L152.1,375.4 L152.1,381.6 Z" fill="#000000"/>
<path d="M148.3,379.4 L154.0,376.3 L154.0,382.5 Z" fill="#000000"/>
<path d="M150.1,379.3 L155.8,376.2 L155.8,382.4 Z" fill="#000000"/>
<path d="M151.9,379.0 L157.6,375.9 L157.6,382.1 Z" fill="#000000"/>
<path d="M153.7,378.6 L159.4,375.5 L159.4,381.7 Z" fill="#000000"/>
<path d="M155.5,379.1 L161.2,376.0 L161.2,382.2 Z" fill="#000000"/>
<path d="M157.3,378.6 L163.0,375.5 L163.0,381.7 Z" fill="#000000"/>
<path d="M159.1,378.4 L164.8,375.3 L164.8,381.5 Z" fill="#000000"/>
<path d="M160.9,378.7 L166.6,375.6 L166.6,381.8 Z" fill="#000000"/>
<path d="M162.7,380.2 L168.4,377.1 L168.4,383.3 Z" fill="#000000"/>
<path d="M164.6,379.3 L170.3,376.2 L170.3,382.4 Z" fill="#000000"/>
<path d="M166.4,380.2 L172.1,377.1 L172.1,383.3 Z" fill="#000000"/>
<path d="M168.2,378.1 L173.9,375.0 L173.9,381.2 Z" fill="#000000"/>
<path d="M170.0,380.4 L175.7,377.3 L175.7,383.5 Z" fill="#000000"/>
<path d="M171.8,379.3 L177.5,376.2 L177.5,382.4 Z" fill="#000000"/>
<path d="M173.6,380.0 L179.3,376.9 L179.3,383.1 Z" fill="#000000"/>
<path d="M175.4,379.5 L181.1,376.4 L181.1,382.6 Z" fill="#000000"/>
<path d="M177.2,379.8 L182.9,376.7 L182.9,382.9 Z" fill="#000000"/>
<path d="M179.0,378.7 L184.7,375.6 L184.7,381.8 Z" fill="#000000"/>
<path d="M180.9,379.9 L186.6,376.8 L186.6,383.0 Z" fill="#000000"/>
<path d="M182.7,378.5 L188.4,375.4 L188.4,381.6 Z" fill="#000000"/>
<path d="M184.5,378.7 L190.2,375.6 L190.2,381.8 Z" fill="#000000"/>
<path d="M186.3,378.2 L192.0,375.1 L192.0,381.3 Z" fill="#000000"/>
<path d="M188.1,379.0 L193.8,375.9 L193.8,382.1 Z" fill="#000000"/>
<path d="M189.9,379.3 L195.6,376.2 L195.6,382.4 Z" fill="#000000"/>
<path d="M191.7,378.8 L197.4,375.7 L197.4,381.9 Z" fill="#000000"/>
<path d="M193.5,380.2 L199.2,377.1 L199.2,383.3 Z" fill="#000000"/>
<path d="M195.3,378.3 L201.0,375.2 L201.0,381.4 Z" fill="#000000"/>
<path d="M197.2,379.5 L202.9,376.4 L202.9,382.6 Z" fill="#000000"/>
<path d="M199.0,378.7 L204.7,375.6 L204.7,381.8 Z" fill="#000000"/>
<path d="M200.8,379.5 L206.5,376.4 L206.5,382.6 Z" fill="#000000"/>
<path d="M202.6,380.0 L208.3,376.9 L208.3,383.1 Z" fill="#000000"/>
<path d="M204.4,379.8 L210.1,376.7 L210.1,382.9 Z" fill="#000000"/>
<path d="M206.2,378.2 L211.9,375.1 L211.9,381.3 Z" fill="#000000"/>
<path d="M208.0,378.7 L213.7,375.6 L213.7,381.8 Z" fill="#000000"/>
<path d="M209.8,379.5 L215.5,376.4 L215.5,382.6 Z" fill="#000000"/>
<path d="M211.6,380.5 L217.3,377.4 L217.3,383.6 Z" fill="#000000"/>
<path d="M213.5,378.2 L219.2,375.1 L219.2,381.3 Z" fill="#000000"/>
<path d="M215.3,379.6 L221.0,376.5 L221.0,382.7 Z" fill="#000000"/>
<path d="M217.1,379.8 L222.8,376.7 L222.8,382.9 Z" fill="#000000"/>
<path d="M218.9,380.1 L224.6,377.0 L224.6,383.2 Z" fill="#000000"/>
<path d="M220.7,378.9 L226.4,375.8 L226.4,382.0 Z" fill="#000000"/>
<path d="M222.5,380.0 L228.2,376.9 L228.2,383.1 Z" fill="#000000"/>
<path d="M224.3,379.2 L230.0,376.1 L230.0,382.3 Z" fill="#000000"/>
<path d="M226.1,380.3 L231.8,377.2 L231.8,383.4 Z" fill="#000000"/>
<path d="M227.9,378.1 L233.6,375.0 L233.6,381.2 Z" fill="#000000"/>
<path d="M229.8,380.4 L235.5,377.3 L235.5,383.5 Z" fill="#000000"/>
<path d="M231.6,379.1 L237.3,376.0 L237.3,382.2 Z" fill="#000000"/>
<path d="M233.4,379.1 L239.1,376.0 L239.1,382.2 Z" fill="#000000"/>
<path d="M235.2,378.3 L240.9,375.2 L240.9,381.4 Z" fill="#000000"/>
<path d="M237.0,378.7 L242.7,375.6 L242.7,381.8 Z" fill="#000000"/>
<path d="M238.8,379.9 L244.5,376.8 L244.5,383.0 Z" fill="#000000"/>
<path d="M240.6,379.7 L246.3,376.6 L246.3,382.8 Z" fill="#000000"/>
<path d="M242.4,378.5 L248.1,375.4 L248.1,381.6 Z" fill="#000000"/>
<path d="M244.2,378.9 L249.9,375.8 L249.9,382.0 Z" fill="#000000"/>
<path d="M246.1,378.4 L251.8,375.3 L251.8,381.5 Z" fill="#000000"/>
<path d="M247.9,378.6 L253.6,375.5 L253.6,381.7 Z" fill="#000000"/>
<path d="M249.7,378.6 L255.4,375.5 L255.4,381.7 Z" fill="#000000"/>
<path d="M251.5,378.9 L257.2,375.8 L257.2,382.0 Z" fill="#000000"/>
<path d="M253.3,380.4 L259.0,377.3 L259.0,383.5 Z" fill="#000000"/>
<path d="M255.1,380.5 L260.8,377.4 L260.8,383.6 Z" fill="#000000"/>
<path d="M256.9,380.0 L262.6,376.9 L262.6,383.1 Z" fill="#000000"/>
<path d="M258.7,379.3 L264.4,376.2 L264.4,382.4 Z" fill="#000000"/>
<path d="M260.5,379.3 L266.2,376.2 L266.2,382.4 Z" fill="#000000"/>
<path d="M262.4,380.0 L268.1,376.9 L268.1,383.1 Z" fill="#000000"/>
<path d="M264.2,380.3 L269.9,377.2 L269.9,383.4 Z" fill="#000000"/>
<path d="M266.0,379.9 L271.7,376.8 L271.7,383.0 Z" fill="#000000"/>
<path d="M267.8,379.6 L273.5,376.5 L273.5,382.7 Z" fill="#000000"/>
<path d="M269.6,378.6 L275.3,375.5 L275.3,381.7 Z" fill="#000000"/>
<path d="M271.4,379.6 L277.1,376.5 L277.1,382.7 Z" fill="#000000"/>
<path d="M273.2,380.1 L278.9,377.0 L278.9,383.2 Z" fill="#000000"/>
<path d="M275.0,380.0 L280.7,376.9 L280.7,383.1 Z" fill="#000000"/>
<path d="M276.8,378.3 L282.5,375.2 L282.5,381.4 Z" fill="#000000"/>
<path d="M278.7,379.8 L284.4,376.7 L284.4,382.9 Z" fill="#000000"/>
<path d="M280.5,378.9 L286.2,375.8 L286.2,382.0 Z" fill="#000000"/>
<path d="M282.3,378.5 L288.0,375.4 L288.0,381.6 Z" fill="#000000"/>
<path d="M284.1,380.4 L289.8,377.3 L289.8,383.5 Z" fill="#000000"/>
<path d="M285.9,379.7 L291.6,376.6 L291.6,382.8 Z" fill="#000000"/>
<path d="M287.7,379.9 L293.4,376.8 L293.4,383.0 Z" fill="#000000"/>
<path d="M289.5,378.4 L295.2,375.3 L295.2,381.5 Z" fill="#000000"/>
<path d="M291.3,380.1 L297.0,377.0 L297.0,383.2 Z" fill="#000000"/>
<path d="M293.1,380.3 L298.8,377.2 L298.8,383.4 Z" fill="#000000"/>
<path d="M295.0,380.3 L300.7,377.2 L300.7,383.4 Z" fill="#000000"/>
<path d="M296.8,379.9 L302.5,376.8 L302.5,383.0 Z" fill="#000000"/>
<path d="M298.6,380.1 L304.3,377.0 L304.3,383.2 Z" fill="#000000"/>
<path d="M300.4,380.0 L306.1,376.9 L306.1,383.1 Z" fill="#000000"/>
<path d="M302.2,379.5 L307.9,376.4 L307.9,382.6 Z" fill="#000000"/>
<path d="M304.0,379.1 L309.7,376.0 L309.7,382.2 Z" fill="#000000"/>
<path d="M305.8,380.1 L311.5,377.0 L311.5,383.2 Z" fill="#000000"/>
<path d="M307.6,380.0 L313.3,376.9 L313.3,383.1 Z" fill="#000000"/>
<path d="M309.4,380.2 L315.1,377.1 L315.1,383.3 Z" fill="#000000"/>
<path d="M311.2,378.8 L316.9,375.7 L316.9,381.9 Z" fill="#000000"/>
<path d="M313.1,380.4 L318.8,377.3 L318.8,383.5 Z" fill="#000000"/>
<path d="M314.9,379.4 L320.6,376.3 L320.6,382.5 Z" fill="#000000"/>
<path d="M316.7,380.4 L322.4,377.3 L322.4,383.5 Z" fill="#000000"/>
<path d="M318.5,378.4 L324.2,375.3 L324.2,381.5 Z" fill="#000000"/>
<path d="M320.3,380.4 L326.0,377.3 L326.0,383.5 Z" fill="#000000"/>
<path d="M322.1,380.0 L327.8,376.9 L327.8,383.1 Z" fill="#000000"/>
<path d="M323.9,378.9 L329.6,375.8 L329.6,382.0 Z" fill="#000000"/>
<path d="M325.7,381.3 L331.4,378.2 L331.4,384.4 Z" fill="#000000"/>
<path d="M327.5,381.8 L333.2,378.7 L333.2,384.9 Z" fill="#000000"/>
<path d="M329.4,384.6 L335.1,381.5 L335.1,387.7 Z" fill="#000000"/>
<path d="M329.8,388.0 L335.7,384.8 L335.7,391.2 Z" fill="#000000"/>
<path d="M332.7,402.2 L338.6,399.0 L338.6,405.4 Z" fill="#000000"/>
<path d="M334.5,422.4 L340.4,419.2 L340.4,425.6 Z" fill="#000000"/>
<path d="M335.6,440.0 L341.5,436.8 L341.5,443.2 Z" fill="#000000"/>
<path d="M336.4,462.8 L342.3,459.6 L342.3,466.0 Z" fill="#000000"/>
<path d="M338.2,488.5 L344.1,485.3 L344.1,491.7 Z" fill="#000000"/>
<path d="M341.8,514.3 L347.7,511.1 L347.7,517.5 Z" fill="#000000"/>
<path d="M345.3,537.7 L351.2,534.5 L351.2,540.9 Z" fill="#000000"/>
<path d="M347.4,541.5 L353.3,538.3 L353.3,544.7 Z" fill="#000000"/>
<path d="M347.4,545.0 L353.3,541.8 L353.3,548.2 Z" fill="#000000"/>
<path d="M347.9,548.0 L352.9,545.2 L352.9,550.8 Z" fill="#000000"/>
<path d="M347.9,552.0 L352.9,549.2 L352.9,554.8 Z" fill="#000000"/>
<path d="M347.9,556.0 L352.9,553.2 L352.9,558.8 Z" fill="#000000"/>
<path d="M347.9,560.0 L352.9,557.2 L352.9,562.8 Z" fill="#000000"/>
<path d="M347.9,564.0 L352.9,561.2 L352.9,566.8 Z" fill="#000000"/>
<path d="M349.8,568.4 L355.7,565.2 L355.7,571.6 Z" fill="#000000"/>
<path d="M351.7,568.0 L357.6,564.8 L357.6,571.2 Z" fill="#000000"/>
<path d="M353.5,568.4 L359.4,565.2 L359.4,571.6 Z" fill="#000000"/>
<path d="M355.3,569.1 L361.2,565.9 L361.2,572.3 Z" fill="#000000"/>
<path d="M357.1,568.7 L363.0,565.5 L363.0,571.9 Z" fill="#000000"/>
<path d="M358.9,568.8 L364.8,565.6 L364.8,572.0 Z" fill="#000000"/>
<path d="M360.7,568.3 L366.6,565.1 L366.6,571.5 Z" fill="#000000"/>
<path d="M362.5,568.9 L368.4,565.7 L368.4,572.1 Z" fill="#000000"/>
<path d="M364.3,568.9 L370.2,565.7 L370.2,572.1 Z" fill="#000000"/>
<path d="M366.1,568.7 L372.0,565.5 L372.0,571.9 Z" fill="#000000"/>
<path d="M368.0,569.2 L373.9,566.0 L373.9,572.4 Z" fill="#000000"/>
<path d="M369.8,569.0 L375.7,565.8 L375.7,572.2 Z" fill="#000000"/>
<path d="M371.6,568.3 L377.5,565.1 L377.5,571.5 Z" fill="#000000"/>
<path d="M373.4,567.8 L379.3,564.6 L379.3,571.0 Z" fill="#000000"/>
<path d="M375.2,568.7 L381.1,565.5 L381.1,571.9 Z" fill="#000000"/>
<path d="M377.0,569.0 L382.9,565.8 L382.9,572.2 Z" fill="#000000"/>
<path d="M378.8,568.2 L384.7,565.0 L384.7,571.4 Z" fill="#000000"/>
<path d="M380.6,568.6 L386.5,565.4 L386.5,571.8 Z" fill="#000000"/>
<path d="M382.4,569.0 L388.3,565.8 L388.3,572.2 Z" fill="#000000"/>
<path d="M384.2,568.9 L390.1,565.7 L390.1,572.1 Z" fill="#000000"/>
<path d="M386.1,567.7 L392.0,564.5 L392.0,570.9 Z" fill="#000000"/>
<path d="M387.9,568.4 L393.8,565.2 L393.8,571.6 Z" fill="#000000"/>
<path d="M389.7,567.7 L395.6,564.5 L395.6,570.9 Z" fill="#000000"/>
<path d="M391.5,567.8 L397.4,564.6 L397.4,571.0 Z" fill="#000000"/>
<path d="M393.3,569.0 L399.2,565.8 L399.2,572.2 Z" fill="#000000"/>
<path d="M395.1,568.3 L401.0,565.1 L401.0,571.5 Z" fill="#000000"/>
<path d="M396.9,568.6 L402.8,565.4 L402.8,571.8 Z" fill="#000000"/>
<path d="M398.7,568.4 L404.6,565.2 L404.6,571.6 Z" fill="#000000"/>
<path d="M400.5,568.2 L406.4,565.0 L406.4,571.4 Z" fill="#000000"/>
<path d="M402.4,568.0 L408.3,564.8 L408.3,571.2 Z" fill="#000000"/>
<path d="M404.2,568.2 L410.1,565.0 L410.1,571.4 Z" fill="#000000"/>
<path d="M406.0,569.0 L411.9,565.8 L411.9,572.2 Z" fill="#000000"/>
<path d="M407.8,568.6 L413.7,565.4 L413.7,571.8 Z" fill="#000000"/>
<path d="M409.6,568.1 L415.5,564.9 L415.5,571.3 Z" fill="#000000"/>
<path d="M411.4,567.8 L417.3,564.6 L417.3,571.0 Z" fill="#000000"/>
<path d="M413.2,568.1 L419.1,564.9 L419.1,571.3 Z" fill="#000000"/>
</g>
<rect x="60" y="362.2" width="355.6" height="229.3" fill="none" stroke="#1a1a1a" stroke-width="2"/>
<line x1="60" y1="378.5" x2="67" y2="378.5" stroke="#1a1a1a" stroke-width="1.8"/>
<text x="55.5" y="384.1" font-size="16" fill="#222" text-anchor="end" font-weight="normal" >0</text>
<line x1="60" y1="404.1" x2="67" y2="404.1" stroke="#1a1a1a" stroke-width="1.8"/>
<text x="55.5" y="409.7" font-size="16" fill="#222" text-anchor="end" font-weight="normal" >−1</text>
<line x1="60" y1="429.7" x2="67" y2="429.7" stroke="#1a1a1a" stroke-width="1.8"/>
<text x="55.5" y="435.3" font-size="16" fill="#222" text-anchor="end" font-weight="normal" >−2</text>
<line x1="60" y1="455.3" x2="67" y2="455.3" stroke="#1a1a1a" stroke-width="1.8"/>
<text x="55.5" y="460.9" font-size="16" fill="#222" text-anchor="end" font-weight="normal" >−3</text>
<line x1="60" y1="480.9" x2="67" y2="480.9" stroke="#1a1a1a" stroke-width="1.8"/>
<text x="55.5" y="486.5" font-size="16" fill="#222" text-anchor="end" font-weight="normal" >−4</text>
<line x1="60" y1="506.5" x2="67" y2="506.5" stroke="#1a1a1a" stroke-width="1.8"/>
<text x="55.5" y="512.1" font-size="16" fill="#222" text-anchor="end" font-weight="normal" >−5</text>
<line x1="60" y1="532.1" x2="67" y2="532.1" stroke="#1a1a1a" stroke-width="1.8"/>
<text x="55.5" y="537.7" font-size="16" fill="#222" text-anchor="end" font-weight="normal" >−6</text>
<line x1="60" y1="557.7" x2="67" y2="557.7" stroke="#1a1a1a" stroke-width="1.8"/>
<text x="55.5" y="563.3" font-size="16" fill="#222" text-anchor="end" font-weight="normal" >−7</text>
<line x1="60" y1="583.3" x2="67" y2="583.3" stroke="#1a1a1a" stroke-width="1.8"/>
<text x="55.5" y="588.9" font-size="16" fill="#222" text-anchor="end" font-weight="normal" >−8</text>
<line x1="85.5" y1="591.5" x2="85.5" y2="584.5" stroke="#1a1a1a" stroke-width="1.8"/>
<text x="86.7" y="610.6" font-size="16.4" fill="#222" text-anchor="middle" font-weight="normal" >50</text>
<line x1="126.7" y1="591.5" x2="126.7" y2="584.5" stroke="#1a1a1a" stroke-width="1.8"/>
<text x="127.9" y="610.6" font-size="16.4" fill="#222" text-anchor="middle" font-weight="normal" >100</text>
<line x1="167.8" y1="591.5" x2="167.8" y2="584.5" stroke="#1a1a1a" stroke-width="1.8"/>
<text x="169.0" y="610.6" font-size="16.4" fill="#222" text-anchor="middle" font-weight="normal" >150</text>
<line x1="209.0" y1="591.5" x2="209.0" y2="584.5" stroke="#1a1a1a" stroke-width="1.8"/>
<text x="210.2" y="610.6" font-size="16.4" fill="#222" text-anchor="middle" font-weight="normal" >200</text>
<line x1="250.1" y1="591.5" x2="250.1" y2="584.5" stroke="#1a1a1a" stroke-width="1.8"/>
<text x="251.3" y="610.6" font-size="16.4" fill="#222" text-anchor="middle" font-weight="normal" >250</text>
<line x1="291.3" y1="591.5" x2="291.3" y2="584.5" stroke="#1a1a1a" stroke-width="1.8"/>
<text x="292.5" y="610.6" font-size="16.4" fill="#222" text-anchor="middle" font-weight="normal" >300</text>
<line x1="332.5" y1="591.5" x2="332.5" y2="584.5" stroke="#1a1a1a" stroke-width="1.8"/>
<text x="333.7" y="610.6" font-size="16.4" fill="#222" text-anchor="middle" font-weight="normal" >350</text>
<line x1="373.6" y1="591.5" x2="373.6" y2="584.5" stroke="#1a1a1a" stroke-width="1.8"/>
<text x="374.8" y="610.6" font-size="16.4" fill="#222" text-anchor="middle" font-weight="normal" >400</text>
<text x="416.0" y="610.6" font-size="16.4" fill="#222" text-anchor="middle" font-weight="normal" >450</text>
<text x="244.5" y="629" font-size="16.4" fill="#1a1a1a" text-anchor="middle" font-weight="bold" >Temperature / °C</text>
<text x="0" y="0" font-size="16.6" fill="#1a1a1a" text-anchor="middle" font-weight="bold" transform="translate(25.8,478.5) rotate(-90)">Hydrogen desorption / wt%</text>
<rect x="79.7" y="450.5" width="6.2" height="6.2" fill="#1010e0"/>
<text x="90.8" y="460.6" font-size="14.6" fill="#222" text-anchor="start" font-weight="normal" >MgH<tspan font-size="9" dy="3">2</tspan><tspan dy="-3">+3 wt% V</tspan><tspan font-size="8.5" dy="3">NS</tspan></text>
<circle cx="82.8" cy="472.1" r="3.3" fill="#ee22ee"/>
<text x="90.8" y="479.1" font-size="14.6" fill="#222" text-anchor="start" font-weight="normal" >MgH<tspan font-size="9" dy="3">2</tspan><tspan dy="-3">+5 wt% V</tspan><tspan font-size="8.5" dy="3">NS</tspan></text>
<path d="M82.8,487.0 L86.5,493.7 L79.1,493.7 Z" fill="#22dd22"/>
<text x="90.8" y="497.6" font-size="14.6" fill="#222" text-anchor="start" font-weight="normal" >MgH<tspan font-size="9" dy="3">2</tspan><tspan dy="-3">+7 wt% V</tspan><tspan font-size="8.5" dy="3">NS</tspan></text>
<path d="M82.8,512.7 L86.5,506.0 L79.1,506.0 Z" fill="#ee1111"/>
<text x="90.8" y="516.1" font-size="14.6" fill="#222" text-anchor="start" font-weight="normal" >MgH<tspan font-size="9" dy="3">2</tspan><tspan dy="-3">+9 wt% V</tspan><tspan font-size="8.5" dy="3">NS</tspan></text>
<path d="M82.8,523.7 L86.7,527.6 L82.8,531.5 L78.9,527.6 Z" fill="#7e7a18"/>
<text x="90.8" y="534.6" font-size="14.6" fill="#222" text-anchor="start" font-weight="normal" >MgH<tspan font-size="9" dy="3">2</tspan><tspan dy="-3">+9 wt% commercial V</tspan></text>
<path d="M79.2,546.1 L85.9,542.5 L85.9,549.7 Z" fill="#000000"/>
<text x="90.8" y="553.1" font-size="14.6" fill="#222" text-anchor="start" font-weight="normal" >MgH<tspan font-size="9" dy="3">2</tspan></text>
<rect x="503.9" y="380.5" width="5.6" height="5.6" fill="#000"/>
<rect x="513.5" y="427.0" width="5.6" height="5.6" fill="#000"/>
<rect x="517.5" y="459.1" width="5.6" height="5.6" fill="#000"/>
<rect x="520.6" y="480.4" width="5.6" height="5.6" fill="#000"/>
<rect x="523.2" y="499.9" width="5.6" height="5.6" fill="#000"/>
<rect x="527.3" y="524.2" width="5.6" height="5.6" fill="#000"/>
<rect x="533.0" y="548.5" width="5.6" height="5.6" fill="#000"/>
<rect x="542.8" y="565.6" width="5.6" height="5.6" fill="#000"/>
<rect x="552.2" y="569.5" width="5.6" height="5.6" fill="#000"/>
<rect x="562.2" y="571.0" width="5.6" height="5.6" fill="#000"/>
<rect x="572.0" y="571.4" width="5.6" height="5.6" fill="#000"/>
<rect x="581.8" y="571.7" width="5.6" height="5.6" fill="#000"/>
<rect x="591.5" y="571.5" width="5.6" height="5.6" fill="#000"/>
<rect x="601.3" y="571.3" width="5.6" height="5.6" fill="#000"/>
<rect x="611.1" y="571.9" width="5.6" height="5.6" fill="#000"/>
<rect x="620.9" y="571.4" width="5.6" height="5.6" fill="#000"/>
<rect x="630.7" y="572.0" width="5.6" height="5.6" fill="#000"/>
<rect x="640.4" y="571.3" width="5.6" height="5.6" fill="#000"/>
<rect x="650.2" y="571.9" width="5.6" height="5.6" fill="#000"/>
<rect x="660.0" y="571.8" width="5.6" height="5.6" fill="#000"/>
<rect x="669.8" y="571.2" width="5.6" height="5.6" fill="#000"/>
<rect x="679.5" y="571.7" width="5.6" height="5.6" fill="#000"/>
<rect x="689.3" y="571.8" width="5.6" height="5.6" fill="#000"/>
<rect x="699.1" y="571.2" width="5.6" height="5.6" fill="#000"/>
<rect x="708.9" y="571.5" width="5.6" height="5.6" fill="#000"/>
<rect x="718.6" y="571.2" width="5.6" height="5.6" fill="#000"/>
<rect x="728.4" y="571.7" width="5.6" height="5.6" fill="#000"/>
<rect x="738.2" y="571.6" width="5.6" height="5.6" fill="#000"/>
<rect x="748.0" y="571.2" width="5.6" height="5.6" fill="#000"/>
<rect x="757.8" y="571.6" width="5.6" height="5.6" fill="#000"/>
<rect x="767.5" y="571.2" width="5.6" height="5.6" fill="#000"/>
<rect x="777.3" y="571.9" width="5.6" height="5.6" fill="#000"/>
<rect x="787.1" y="571.3" width="5.6" height="5.6" fill="#000"/>
<rect x="796.9" y="571.9" width="5.6" height="5.6" fill="#000"/>
<rect x="806.6" y="571.6" width="5.6" height="5.6" fill="#000"/>
<rect x="816.4" y="572.0" width="5.6" height="5.6" fill="#000"/>
<rect x="826.2" y="571.9" width="5.6" height="5.6" fill="#000"/>
<rect x="836.0" y="571.2" width="5.6" height="5.6" fill="#000"/>
<rect x="845.8" y="571.6" width="5.6" height="5.6" fill="#000"/>
<rect x="855.5" y="571.3" width="5.6" height="5.6" fill="#000"/>
<circle cx="506.7" cy="384.8" r="3.0" fill="#e01515"/>
<circle cx="508.5" cy="391.4" r="3.0" fill="#e01515"/>
<circle cx="514.6" cy="411.2" r="3.0" fill="#e01515"/>
<circle cx="518.1" cy="424.7" r="3.0" fill="#e01515"/>
<circle cx="522.7" cy="443.6" r="3.0" fill="#e01515"/>
<circle cx="527.7" cy="468.5" r="3.0" fill="#e01515"/>
<circle cx="537.9" cy="506.3" r="3.0" fill="#e01515"/>
<circle cx="547.9" cy="530.3" r="3.0" fill="#e01515"/>
<circle cx="557.4" cy="542.9" r="3.0" fill="#e01515"/>
<circle cx="567.4" cy="548.9" r="3.0" fill="#e01515"/>
<circle cx="577.2" cy="552.8" r="3.0" fill="#e01515"/>
<circle cx="586.8" cy="556.4" r="3.0" fill="#e01515"/>
<circle cx="596.8" cy="557.9" r="3.0" fill="#e01515"/>
<circle cx="606.8" cy="560.3" r="3.0" fill="#e01515"/>
<circle cx="616.8" cy="561.5" r="3.0" fill="#e01515"/>
<circle cx="626.3" cy="561.5" r="3.0" fill="#e01515"/>
<circle cx="636.3" cy="562.7" r="3.0" fill="#e01515"/>
<circle cx="645.7" cy="563.9" r="3.0" fill="#e01515"/>
<circle cx="655.7" cy="565.4" r="3.0" fill="#e01515"/>
<circle cx="665.5" cy="566.1" r="3.0" fill="#e01515"/>
<circle cx="675.3" cy="566.2" r="3.0" fill="#e01515"/>
<circle cx="685.0" cy="566.9" r="3.0" fill="#e01515"/>
<circle cx="694.8" cy="566.3" r="3.0" fill="#e01515"/>
<circle cx="704.6" cy="566.0" r="3.0" fill="#e01515"/>
<circle cx="714.4" cy="566.9" r="3.0" fill="#e01515"/>
<circle cx="724.2" cy="567.4" r="3.0" fill="#e01515"/>
<circle cx="733.9" cy="566.7" r="3.0" fill="#e01515"/>
<circle cx="743.7" cy="567.0" r="3.0" fill="#e01515"/>
<circle cx="753.5" cy="567.7" r="3.0" fill="#e01515"/>
<circle cx="763.3" cy="569.0" r="3.0" fill="#e01515"/>
<circle cx="773.0" cy="568.3" r="3.0" fill="#e01515"/>
<circle cx="782.8" cy="568.8" r="3.0" fill="#e01515"/>
<circle cx="792.6" cy="568.2" r="3.0" fill="#e01515"/>
<circle cx="802.4" cy="569.5" r="3.0" fill="#e01515"/>
<circle cx="812.2" cy="569.2" r="3.0" fill="#e01515"/>
<circle cx="821.9" cy="569.5" r="3.0" fill="#e01515"/>
<circle cx="831.7" cy="570.2" r="3.0" fill="#e01515"/>
<circle cx="841.5" cy="570.2" r="3.0" fill="#e01515"/>
<circle cx="851.3" cy="570.2" r="3.0" fill="#e01515"/>
<circle cx="861.0" cy="570.0" r="3.0" fill="#e01515"/>
<path d="M506.7,380.0 L510.1,386.1 L503.3,386.1 Z" fill="#1515d0"/>
<path d="M510.1,385.4 L513.5,391.5 L506.7,391.5 Z" fill="#1515d0"/>
<path d="M519.7,402.0 L523.1,408.1 L516.3,408.1 Z" fill="#1515d0"/>
<path d="M529.4,417.0 L532.8,423.1 L526.0,423.1 Z" fill="#1515d0"/>
<path d="M539.2,428.6 L542.6,434.7 L535.8,434.7 Z" fill="#1515d0"/>
<path d="M549.0,442.6 L552.4,448.7 L545.6,448.7 Z" fill="#1515d0"/>
<path d="M558.8,451.3 L562.2,457.4 L555.4,457.4 Z" fill="#1515d0"/>
<path d="M568.5,461.1 L571.9,467.2 L565.1,467.2 Z" fill="#1515d0"/>
<path d="M578.3,469.9 L581.7,476.0 L574.9,476.0 Z" fill="#1515d0"/>
<path d="M588.1,477.8 L591.5,483.9 L584.7,483.9 Z" fill="#1515d0"/>
<path d="M597.9,483.8 L601.3,489.9 L594.5,489.9 Z" fill="#1515d0"/>
<path d="M607.7,489.6 L611.1,495.7 L604.3,495.7 Z" fill="#1515d0"/>
<path d="M617.4,495.5 L620.8,501.6 L614.0,501.6 Z" fill="#1515d0"/>
<path d="M627.2,500.3 L630.6,506.4 L623.8,506.4 Z" fill="#1515d0"/>
<path d="M637.0,506.5 L640.4,512.6 L633.6,512.6 Z" fill="#1515d0"/>
<path d="M646.8,509.7 L650.2,515.8 L643.4,515.8 Z" fill="#1515d0"/>
<path d="M656.5,513.7 L659.9,519.8 L653.1,519.8 Z" fill="#1515d0"/>
<path d="M666.3,514.9 L669.7,521.0 L662.9,521.0 Z" fill="#1515d0"/>
<path d="M676.1,517.9 L679.5,524.0 L672.7,524.0 Z" fill="#1515d0"/>
<path d="M685.9,522.3 L689.3,528.4 L682.5,528.4 Z" fill="#1515d0"/>
<path d="M695.7,523.5 L699.1,529.6 L692.3,529.6 Z" fill="#1515d0"/>
<path d="M705.4,525.6 L708.8,531.7 L702.0,531.7 Z" fill="#1515d0"/>
<path d="M715.2,528.7 L718.6,534.8 L711.8,534.8 Z" fill="#1515d0"/>
<path d="M725.0,529.5 L728.4,535.6 L721.6,535.6 Z" fill="#1515d0"/>
<path d="M734.8,530.1 L738.2,536.2 L731.4,536.2 Z" fill="#1515d0"/>
<path d="M744.5,531.7 L747.9,537.8 L741.1,537.8 Z" fill="#1515d0"/>
<path d="M754.3,533.7 L757.7,539.8 L750.9,539.8 Z" fill="#1515d0"/>
<path d="M764.1,533.6 L767.5,539.7 L760.7,539.7 Z" fill="#1515d0"/>
<path d="M773.9,535.7 L777.3,541.8 L770.5,541.8 Z" fill="#1515d0"/>
<path d="M783.6,536.0 L787.0,542.1 L780.2,542.1 Z" fill="#1515d0"/>
<path d="M793.4,537.0 L796.8,543.1 L790.0,543.1 Z" fill="#1515d0"/>
<path d="M803.2,536.4 L806.6,542.5 L799.8,542.5 Z" fill="#1515d0"/>
<path d="M813.0,537.8 L816.4,543.9 L809.6,543.9 Z" fill="#1515d0"/>
<path d="M822.8,538.0 L826.2,544.1 L819.4,544.1 Z" fill="#1515d0"/>
<path d="M832.5,538.8 L835.9,544.9 L829.1,544.9 Z" fill="#1515d0"/>
<path d="M842.3,539.9 L845.7,546.0 L838.9,546.0 Z" fill="#1515d0"/>
<path d="M852.1,538.9 L855.5,545.0 L848.7,545.0 Z" fill="#1515d0"/>
<rect x="506.5" y="365.5" width="353.5" height="227.2" fill="none" stroke="#1a1a1a" stroke-width="2"/>
<line x1="506.5" y1="383.3" x2="513.5" y2="383.3" stroke="#1a1a1a" stroke-width="1.8"/>
<text x="498.5" y="388.1" font-size="16" fill="#333" text-anchor="end" font-weight="normal" >0</text>
<line x1="506.5" y1="413.3" x2="513.5" y2="413.3" stroke="#1a1a1a" stroke-width="1.8"/>
<text x="498.5" y="418.1" font-size="16" fill="#333" text-anchor="end" font-weight="normal" >−1</text>
<line x1="506.5" y1="443.3" x2="513.5" y2="443.3" stroke="#1a1a1a" stroke-width="1.8"/>
<text x="498.5" y="448.1" font-size="16" fill="#333" text-anchor="end" font-weight="normal" >−2</text>
<line x1="506.5" y1="473.3" x2="513.5" y2="473.3" stroke="#1a1a1a" stroke-width="1.8"/>
<text x="498.5" y="478.1" font-size="16" fill="#333" text-anchor="end" font-weight="normal" >−3</text>
<line x1="506.5" y1="503.3" x2="513.5" y2="503.3" stroke="#1a1a1a" stroke-width="1.8"/>
<text x="498.5" y="508.1" font-size="16" fill="#333" text-anchor="end" font-weight="normal" >−4</text>
<line x1="506.5" y1="533.3" x2="513.5" y2="533.3" stroke="#1a1a1a" stroke-width="1.8"/>
<text x="498.5" y="538.1" font-size="16" fill="#333" text-anchor="end" font-weight="normal" >−5</text>
<line x1="506.5" y1="563.3" x2="513.5" y2="563.3" stroke="#1a1a1a" stroke-width="1.8"/>
<text x="498.5" y="568.1" font-size="16" fill="#333" text-anchor="end" font-weight="normal" >−6</text>
<text x="498.5" y="598.1" font-size="16" fill="#333" text-anchor="end" font-weight="normal" >−7</text>
<text x="506.7" y="611" font-size="16" fill="#222" text-anchor="middle" font-weight="normal" >0</text>
<line x1="565.6" y1="592.7" x2="565.6" y2="585.7" stroke="#1a1a1a" stroke-width="1.8"/>
<text x="565.6" y="611" font-size="16" fill="#222" text-anchor="middle" font-weight="normal" >10</text>
<line x1="624.5" y1="592.7" x2="624.5" y2="585.7" stroke="#1a1a1a" stroke-width="1.8"/>
<text x="624.5" y="611" font-size="16" fill="#222" text-anchor="middle" font-weight="normal" >20</text>
<line x1="683.4" y1="592.7" x2="683.4" y2="585.7" stroke="#1a1a1a" stroke-width="1.8"/>
<text x="683.4" y="611" font-size="16" fill="#222" text-anchor="middle" font-weight="normal" >30</text>
<line x1="742.3" y1="592.7" x2="742.3" y2="585.7" stroke="#1a1a1a" stroke-width="1.8"/>
<text x="742.3" y="611" font-size="16" fill="#222" text-anchor="middle" font-weight="normal" >40</text>
<line x1="801.2" y1="592.7" x2="801.2" y2="585.7" stroke="#1a1a1a" stroke-width="1.8"/>
<text x="801.2" y="611" font-size="16" fill="#222" text-anchor="middle" font-weight="normal" >50</text>
<text x="860.1" y="611" font-size="16" fill="#222" text-anchor="middle" font-weight="normal" >60</text>
<text x="689" y="631" font-size="16.3" fill="#1a1a1a" text-anchor="middle" font-weight="bold" >Time / min</text>
<text x="0" y="0" font-size="16.5" fill="#1a1a1a" text-anchor="middle" font-weight="bold" transform="translate(468.5,480.5) rotate(-90)">Hydrogen desorbed / wt%</text>
<text x="705.8" y="433.7" font-size="16.2" fill="#222" text-anchor="start" font-weight="normal" >MgH<tspan font-size="9.5" dy="3">2</tspan><tspan dy="-3">+7 wt% V</tspan><tspan font-size="10" dy="3">NS</tspan></text>
<text x="705.8" y="454.2" font-size="16.5" fill="#222" text-anchor="start" font-weight="normal" >Iso-dehydrogenation</text>
<rect x="728.2" y="462.8" width="5.6" height="5.6" fill="#000"/>
<text x="738.7" y="471.2" font-size="16" fill="#222" text-anchor="start" font-weight="normal" >300 °C</text>
<circle cx="731.0" cy="480.7" r="3.0" fill="#e01515"/>
<text x="738.7" y="486.3" font-size="16" fill="#222" text-anchor="start" font-weight="normal" >275 °C</text>
<path d="M731.0,492.5 L734.4,498.6 L727.6,498.6 Z" fill="#1515d0"/>
<text x="738.7" y="501.4" font-size="16" fill="#222" text-anchor="start" font-weight="normal" >250 °C</text>
<g opacity="0.95">
<path d="M644.5,612.6 L646.0,619.0 L648.3,614.0 A11,9.5 0 1 0 644.5,612.6 Z" fill="#fff" stroke="#8a8a8a" stroke-width="1"/>
<circle cx="646.5" cy="602" r="0.9" fill="#8a8a8a"/>
<circle cx="655" cy="602" r="0.9" fill="#8a8a8a"/>
<path d="M658.0,620.8 L667.0,626.0 L661.5,622.1 A10,8.5 0 1 0 658.0,620.8 Z" fill="#fff" stroke="#8a8a8a" stroke-width="1"/>
<circle cx="659.5" cy="611" r="0.9" fill="#8a8a8a"/>
<circle cx="667.5" cy="611" r="0.9" fill="#8a8a8a"/>
<g transform="translate(683.5,600.5)"><path d="M3,4 L9,2 M1,8 L10,8 M6,2 L6,22 M6,9 L1,17 M6,10 L10,15 M12,3 L20,8 M20,3 L12,8 M11,11 L21,11 M14,11 L11,17 M13,15 L21,15 L21,21 M13,15 L13,21 M17,11 L17,23" transform="translate(1,1)" stroke="#6a6a6a" stroke-width="1.9" fill="none" filter="url(#bl05)"/><path d="M3,4 L9,2 M1,8 L10,8 M6,2 L6,22 M6,9 L1,17 M6,10 L10,15 M12,3 L20,8 M20,3 L12,8 M11,11 L21,11 M14,11 L11,17 M13,15 L21,15 L21,21 M13,15 L13,21 M17,11 L17,23" stroke="#fafafa" stroke-width="1.4" fill="none"/></g>
<g transform="translate(706,600.5)"><path d="M1,7 L21,7 M10,1 L3,20 M7,12 L7,23 M7,12 L18,12 L18,23 L16,22 M7,16 L18,16 M7,19 L18,19" transform="translate(1,1)" stroke="#6a6a6a" stroke-width="1.9" fill="none" filter="url(#bl05)"/><path d="M1,7 L21,7 M10,1 L3,20 M7,12 L7,23 M7,12 L18,12 L18,23 L16,22 M7,16 L18,16 M7,19 L18,19" stroke="#fafafa" stroke-width="1.4" fill="none"/></g>
<g transform="translate(729.5,600.5)"><path d="M11,1 L1,10 M11,1 L21,10 M5,10 L17,10 M3,15 L19,15 M1,22 L21,22 M11,10 L11,22 M6,17 L8,20 M16,17 L14,20" transform="translate(1,1)" stroke="#6a6a6a" stroke-width="1.9" fill="none" filter="url(#bl05)"/><path d="M11,1 L1,10 M11,1 L21,10 M5,10 L17,10 M3,15 L19,15 M1,22 L21,22 M11,10 L11,22 M6,17 L8,20 M16,17 L14,20" stroke="#fafafa" stroke-width="1.4" fill="none"/></g>
<g transform="translate(752,600.5)"><path d="M3,2 L19,2 L19,7 L3,7 M3,2 L3,14 L1,22 M5,10 L19,10 M7,13 L17,13 L17,22 L15,21 M7,13 L7,22 M12,10 L12,20 M9,16 L15,18" transform="translate(1,1)" stroke="#6a6a6a" stroke-width="1.9" fill="none" filter="url(#bl05)"/><path d="M3,2 L19,2 L19,7 L3,7 M3,2 L3,14 L1,22 M5,10 L19,10 M7,13 L17,13 L17,22 L15,21 M7,13 L7,22 M12,10 L12,20 M9,16 L15,18" stroke="#fafafa" stroke-width="1.4" fill="none"/></g>
<text x="775" y="620" font-size="23.6" fill="#6a6a6a" transform="translate(1,1)" filter="url(#bl05)">RareMetals</text>
<text x="775" y="620" font-size="23.6" fill="#fafafa" stroke="#fafafa" stroke-width="0.2">RareMetals</text>
</g>
</svg>
</body></html>
